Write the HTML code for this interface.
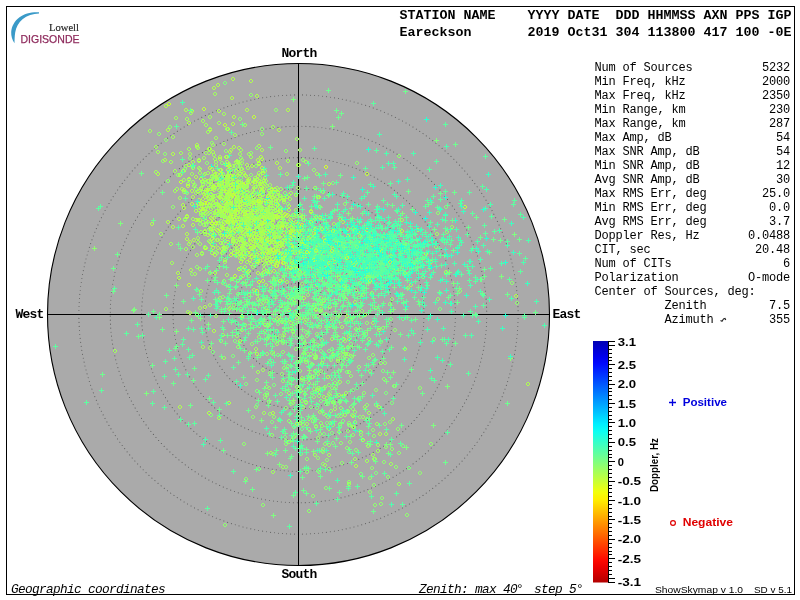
<!DOCTYPE html><html><head><meta charset="utf-8"><style>html,body{margin:0;padding:0;background:#fff;width:800px;height:600px;overflow:hidden}svg{display:block;will-change:transform}</style></head><body><svg width="800" height="600" viewBox="0 0 800 600"><rect x="6.5" y="6.5" width="788" height="588" fill="none" stroke="#000" stroke-width="1"/><path d="M39,12.2 C31,11.8 24,13.8 19.5,17.3 C14.5,21 11.6,26.5 11.2,32 C11,36 12.3,40 14.5,43.2 C14.6,40 14.6,36 15.2,32.5 C16,27.5 18.5,22.5 22.5,19.2 C27,15.6 33,13.8 39,13.6 Z" fill="#3a9ac8"/><text x="49" y="30.5" font-family="Liberation Serif" font-size="11" fill="#2a2a2a" stroke="#2a2a2a" stroke-width="0.2" textLength="30" lengthAdjust="spacingAndGlyphs">Lowell</text><text x="20.5" y="43" font-family="Liberation Sans" font-size="11" fill="#8e2a5c" stroke="#8e2a5c" stroke-width="0.25" textLength="59" lengthAdjust="spacingAndGlyphs">DIGISONDE</text><text x="399.5" y="19" font-family="Liberation Mono" font-weight="bold" font-size="13.33" fill="#000" xml:space="preserve">STATION NAME    YYYY DATE  DDD HHMMSS AXN PPS IGP</text><text x="399.5" y="36" font-family="Liberation Mono" font-weight="bold" font-size="13.33" fill="#000" xml:space="preserve">Eareckson       2019 Oct31 304 113800 417 100 -0E</text><circle cx="298.5" cy="314.5" r="251.0" fill="#aaaaaa" stroke="none"/><circle cx="298.5" cy="314.5" r="31.38" fill="none" stroke="#606060" stroke-width="1.1" stroke-dasharray="0.01 4" stroke-linecap="round"/><circle cx="298.5" cy="314.5" r="62.75" fill="none" stroke="#606060" stroke-width="1.1" stroke-dasharray="0.01 4" stroke-linecap="round"/><circle cx="298.5" cy="314.5" r="94.12" fill="none" stroke="#606060" stroke-width="1.1" stroke-dasharray="0.01 4" stroke-linecap="round"/><circle cx="298.5" cy="314.5" r="125.50" fill="none" stroke="#606060" stroke-width="1.1" stroke-dasharray="0.01 4" stroke-linecap="round"/><circle cx="298.5" cy="314.5" r="156.88" fill="none" stroke="#606060" stroke-width="1.1" stroke-dasharray="0.01 4" stroke-linecap="round"/><circle cx="298.5" cy="314.5" r="188.25" fill="none" stroke="#606060" stroke-width="1.1" stroke-dasharray="0.01 4" stroke-linecap="round"/><circle cx="298.5" cy="314.5" r="219.62" fill="none" stroke="#606060" stroke-width="1.1" stroke-dasharray="0.01 4" stroke-linecap="round"/><path d="M47.5,314.5H549.5M298.5,63.5V565.5" stroke="#000" stroke-width="1" fill="none"/><path d="M349,256.5h5M351.5,254v5M332,229.5h5M334.5,227v5M274,339.5h5M276.5,337v5M358,272.5h5M360.5,270v5M315,246.5h5M317.5,244v5M377,248.5h5M379.5,246v5M348,306.5h5M350.5,304v5M352,423.5h5M354.5,421v5M341,230.5h5M343.5,228v5M321,223.5h5M323.5,221v5M398,215.5h5M400.5,213v5M473,306.5h5M475.5,304v5M363,277.5h5M365.5,275v5M298,275.5h5M300.5,273v5M454,229.5h5M456.5,227v5M204,190.5h5M206.5,188v5M323,315.5h5M325.5,313v5M383,270.5h5M385.5,268v5M521,262.5h5M523.5,260v5M298,233.5h5M300.5,231v5M327,399.5h5M329.5,397v5M355,219.5h5M357.5,217v5M445,239.5h5M447.5,237v5M368,276.5h5M370.5,274v5M400,246.5h5M402.5,244v5M379,218.5h5M381.5,216v5M286,245.5h5M288.5,243v5M354,282.5h5M356.5,280v5M349,222.5h5M351.5,220v5M318,289.5h5M320.5,287v5M334,287.5h5M336.5,285v5M288,254.5h5M290.5,252v5M397,254.5h5M399.5,252v5M380,268.5h5M382.5,266v5M321,241.5h5M323.5,239v5M368,274.5h5M370.5,272v5M312,261.5h5M314.5,259v5M356,247.5h5M358.5,245v5M316,261.5h5M318.5,259v5M281,410.5h5M283.5,408v5M312,249.5h5M314.5,247v5M304,220.5h5M306.5,218v5M425,329.5h5M427.5,327v5M358,241.5h5M360.5,239v5M362,211.5h5M364.5,209v5M410,230.5h5M412.5,228v5M394,239.5h5M396.5,237v5M361,248.5h5M363.5,246v5M393,249.5h5M395.5,247v5M384,272.5h5M386.5,270v5M317,264.5h5M319.5,262v5M320,267.5h5M322.5,265v5M410,239.5h5M412.5,237v5M392,260.5h5M394.5,258v5M458,240.5h5M460.5,238v5M291,280.5h5M293.5,278v5M426,318.5h5M428.5,316v5M389,266.5h5M391.5,264v5M402,245.5h5M404.5,243v5M359,237.5h5M361.5,235v5M358,323.5h5M360.5,321v5M350,255.5h5M352.5,253v5M378,263.5h5M380.5,261v5M376,216.5h5M378.5,214v5M420,302.5h5M422.5,300v5M350,292.5h5M352.5,290v5M337,244.5h5M339.5,242v5M317,226.5h5M319.5,224v5M397,317.5h5M399.5,315v5M351,258.5h5M353.5,256v5M402,244.5h5M404.5,242v5M371,253.5h5M373.5,251v5M254,278.5h5M256.5,276v5M369,240.5h5M371.5,238v5M455,247.5h5M457.5,245v5M201,444.5h5M203.5,442v5M355,205.5h5M357.5,203v5M332,238.5h5M334.5,236v5M220,201.5h5M222.5,199v5M526,240.5h5M528.5,238v5M428,370.5h5M430.5,368v5M308,346.5h5M310.5,344v5M372,257.5h5M374.5,255v5M398,224.5h5M400.5,222v5M330,231.5h5M332.5,229v5M342,240.5h5M344.5,238v5M348,265.5h5M350.5,263v5M295,309.5h5M297.5,307v5M375,266.5h5M377.5,264v5M483,208.5h5M485.5,206v5M317,337.5h5M319.5,335v5M287,246.5h5M289.5,244v5M331,282.5h5M333.5,280v5M317,229.5h5M319.5,227v5M370,278.5h5M372.5,276v5M360,273.5h5M362.5,271v5M388,250.5h5M390.5,248v5M242,294.5h5M244.5,292v5M243,269.5h5M245.5,267v5M303,267.5h5M305.5,265v5M342,280.5h5M344.5,278v5M424,258.5h5M426.5,256v5M338,267.5h5M340.5,265v5M390,263.5h5M392.5,261v5M322,257.5h5M324.5,255v5M412,233.5h5M414.5,231v5M374,274.5h5M376.5,272v5M350,256.5h5M352.5,254v5M336,230.5h5M338.5,228v5M230,220.5h5M232.5,218v5M227,155.5h5M229.5,153v5M341,253.5h5M343.5,251v5M364,227.5h5M366.5,225v5M509,298.5h5M511.5,296v5M370,236.5h5M372.5,234v5M400,205.5h5M402.5,203v5M409,240.5h5M411.5,238v5M283,239.5h5M285.5,237v5M276,244.5h5M278.5,242v5M283,296.5h5M285.5,294v5M356,243.5h5M358.5,241v5M378,240.5h5M380.5,238v5M397,261.5h5M399.5,259v5M328,216.5h5M330.5,214v5M314,293.5h5M316.5,291v5M345,270.5h5M347.5,268v5M302,254.5h5M304.5,252v5M327,254.5h5M329.5,252v5M371,229.5h5M373.5,227v5M313,241.5h5M315.5,239v5M374,233.5h5M376.5,231v5M352,246.5h5M354.5,244v5M357,259.5h5M359.5,257v5M191,298.5h5M193.5,296v5M459,242.5h5M461.5,240v5M218,339.5h5M220.5,337v5M365,330.5h5M367.5,328v5M366,267.5h5M368.5,265v5M332,236.5h5M334.5,234v5M352,225.5h5M354.5,223v5M372,231.5h5M374.5,229v5M371,267.5h5M373.5,265v5M311,253.5h5M313.5,251v5M283,323.5h5M285.5,321v5M332,210.5h5M334.5,208v5M475,241.5h5M477.5,239v5M321,190.5h5M323.5,188v5M341,249.5h5M343.5,247v5M302,198.5h5M304.5,196v5M370,395.5h5M372.5,393v5M360,303.5h5M362.5,301v5M265,244.5h5M267.5,242v5" stroke="#4effb0" stroke-width="1" fill="none" shape-rendering="crispEdges"/><path d="M202,202.5h2m-2,3h2M201.5,203v2m3,-2v2M219,179.5h2m-2,3h2M218.5,180v2m3,-2v2M436,232.5h2m-2,3h2M435.5,233v2m3,-2v2M219,173.5h2m-2,3h2M218.5,174v2m3,-2v2M219,232.5h2m-2,3h2M218.5,233v2m3,-2v2M285,253.5h2m-2,3h2M284.5,254v2m3,-2v2M286,280.5h2m-2,3h2M285.5,281v2m3,-2v2M263,263.5h2m-2,3h2M262.5,264v2m3,-2v2M236,192.5h2m-2,3h2M235.5,193v2m3,-2v2M276,186.5h2m-2,3h2M275.5,187v2m3,-2v2M378,272.5h2m-2,3h2M377.5,273v2m3,-2v2M261,212.5h2m-2,3h2M260.5,213v2m3,-2v2M316,172.5h2m-2,3h2M315.5,173v2m3,-2v2M308,376.5h2m-2,3h2M307.5,377v2m3,-2v2M262,214.5h2m-2,3h2M261.5,215v2m3,-2v2M263,411.5h2m-2,3h2M262.5,412v2m3,-2v2M231,203.5h2m-2,3h2M230.5,204v2m3,-2v2M306,250.5h2m-2,3h2M305.5,251v2m3,-2v2M240,241.5h2m-2,3h2M239.5,242v2m3,-2v2M226,155.5h2m-2,3h2M225.5,156v2m3,-2v2M259,256.5h2m-2,3h2M258.5,257v2m3,-2v2M323,299.5h2m-2,3h2M322.5,300v2m3,-2v2M219,195.5h2m-2,3h2M218.5,196v2m3,-2v2M217,211.5h2m-2,3h2M216.5,212v2m3,-2v2M321,260.5h2m-2,3h2M320.5,261v2m3,-2v2M229,200.5h2m-2,3h2M228.5,201v2m3,-2v2M276,342.5h2m-2,3h2M275.5,343v2m3,-2v2M244,247.5h2m-2,3h2M243.5,248v2m3,-2v2M272,201.5h2m-2,3h2M271.5,202v2m3,-2v2M288,252.5h2m-2,3h2M287.5,253v2m3,-2v2M262,251.5h2m-2,3h2M261.5,252v2m3,-2v2M229,220.5h2m-2,3h2M228.5,221v2m3,-2v2M307,236.5h2m-2,3h2M306.5,237v2m3,-2v2M253,263.5h2m-2,3h2M252.5,264v2m3,-2v2M188,242.5h2m-2,3h2M187.5,243v2m3,-2v2M199,242.5h2m-2,3h2M198.5,243v2m3,-2v2M247,195.5h2m-2,3h2M246.5,196v2m3,-2v2M239,215.5h2m-2,3h2M238.5,216v2m3,-2v2M207,212.5h2m-2,3h2M206.5,213v2m3,-2v2M348,334.5h2m-2,3h2M347.5,335v2m3,-2v2M277,225.5h2m-2,3h2M276.5,226v2m3,-2v2M268,208.5h2m-2,3h2M267.5,209v2m3,-2v2M272,350.5h2m-2,3h2M271.5,351v2m3,-2v2M286,229.5h2m-2,3h2M285.5,230v2m3,-2v2M229,183.5h2m-2,3h2M228.5,184v2m3,-2v2M266,228.5h2m-2,3h2M265.5,229v2m3,-2v2M300,359.5h2m-2,3h2M299.5,360v2m3,-2v2M272,251.5h2m-2,3h2M271.5,252v2m3,-2v2M244,211.5h2m-2,3h2M243.5,212v2m3,-2v2M265,231.5h2m-2,3h2M264.5,232v2m3,-2v2M198,159.5h2m-2,3h2M197.5,160v2m3,-2v2M170,160.5h2m-2,3h2M169.5,161v2m3,-2v2M290,231.5h2m-2,3h2M289.5,232v2m3,-2v2M268,200.5h2m-2,3h2M267.5,201v2m3,-2v2M344,276.5h2m-2,3h2M343.5,277v2m3,-2v2M275,256.5h2m-2,3h2M274.5,257v2m3,-2v2M265,219.5h2m-2,3h2M264.5,220v2m3,-2v2M212,196.5h2m-2,3h2M211.5,197v2m3,-2v2M217,193.5h2m-2,3h2M216.5,194v2m3,-2v2M277,251.5h2m-2,3h2M276.5,252v2m3,-2v2M234,133.5h2m-2,3h2M233.5,134v2m3,-2v2M240,210.5h2m-2,3h2M239.5,211v2m3,-2v2M289,197.5h2m-2,3h2M288.5,198v2m3,-2v2M276,201.5h2m-2,3h2M275.5,202v2m3,-2v2M268,188.5h2m-2,3h2M267.5,189v2m3,-2v2M223,245.5h2m-2,3h2M222.5,246v2m3,-2v2M232,241.5h2m-2,3h2M231.5,242v2m3,-2v2M250,213.5h2m-2,3h2M249.5,214v2m3,-2v2M274,228.5h2m-2,3h2M273.5,229v2m3,-2v2M211,199.5h2m-2,3h2M210.5,200v2m3,-2v2M337,244.5h2m-2,3h2M336.5,245v2m3,-2v2M215,213.5h2m-2,3h2M214.5,214v2m3,-2v2M233,175.5h2m-2,3h2M232.5,176v2m3,-2v2M217,186.5h2m-2,3h2M216.5,187v2m3,-2v2M241,248.5h2m-2,3h2M240.5,249v2m3,-2v2M269,229.5h2m-2,3h2M268.5,230v2m3,-2v2M281,241.5h2m-2,3h2M280.5,242v2m3,-2v2M239,224.5h2m-2,3h2M238.5,225v2m3,-2v2M320,302.5h2m-2,3h2M319.5,303v2m3,-2v2M272,470.5h2m-2,3h2M271.5,471v2m3,-2v2M224,232.5h2m-2,3h2M223.5,233v2m3,-2v2M253,199.5h2m-2,3h2M252.5,200v2m3,-2v2M378,328.5h2m-2,3h2M377.5,329v2m3,-2v2M232,204.5h2m-2,3h2M231.5,205v2m3,-2v2M318,245.5h2m-2,3h2M317.5,246v2m3,-2v2M336,243.5h2m-2,3h2M335.5,244v2m3,-2v2M392,417.5h2m-2,3h2M391.5,418v2m3,-2v2M351,242.5h2m-2,3h2M350.5,243v2m3,-2v2M245,217.5h2m-2,3h2M244.5,218v2m3,-2v2M243,254.5h2m-2,3h2M242.5,255v2m3,-2v2M237,220.5h2m-2,3h2M236.5,221v2m3,-2v2M199,171.5h2m-2,3h2M198.5,172v2m3,-2v2M292,249.5h2m-2,3h2M291.5,250v2m3,-2v2M233,231.5h2m-2,3h2M232.5,232v2m3,-2v2M342,349.5h2m-2,3h2M341.5,350v2m3,-2v2M235,227.5h2m-2,3h2M234.5,228v2m3,-2v2M333,259.5h2m-2,3h2M332.5,260v2m3,-2v2M255,185.5h2m-2,3h2M254.5,186v2m3,-2v2M315,308.5h2m-2,3h2M314.5,309v2m3,-2v2M309,248.5h2m-2,3h2M308.5,249v2m3,-2v2M332,252.5h2m-2,3h2M331.5,253v2m3,-2v2M352,260.5h2m-2,3h2M351.5,261v2m3,-2v2M293,435.5h2m-2,3h2M292.5,436v2m3,-2v2M280,237.5h2m-2,3h2M279.5,238v2m3,-2v2M272,226.5h2m-2,3h2M271.5,227v2m3,-2v2M354,300.5h2m-2,3h2M353.5,301v2m3,-2v2M246,185.5h2m-2,3h2M245.5,186v2m3,-2v2M256,192.5h2m-2,3h2M255.5,193v2m3,-2v2M250,211.5h2m-2,3h2M249.5,212v2m3,-2v2M203,173.5h2m-2,3h2M202.5,174v2m3,-2v2M228,172.5h2m-2,3h2M227.5,173v2m3,-2v2M248,233.5h2m-2,3h2M247.5,234v2m3,-2v2M252,226.5h2m-2,3h2M251.5,227v2m3,-2v2M253,210.5h2m-2,3h2M252.5,211v2m3,-2v2M341,325.5h2m-2,3h2M340.5,326v2m3,-2v2M246,215.5h2m-2,3h2M245.5,216v2m3,-2v2M257,213.5h2m-2,3h2M256.5,214v2m3,-2v2M256,177.5h2m-2,3h2M255.5,178v2m3,-2v2M227,232.5h2m-2,3h2M226.5,233v2m3,-2v2M277,240.5h2m-2,3h2M276.5,241v2m3,-2v2M263,254.5h2m-2,3h2M262.5,255v2m3,-2v2M250,243.5h2m-2,3h2M249.5,244v2m3,-2v2M209,226.5h2m-2,3h2M208.5,227v2m3,-2v2M301,235.5h2m-2,3h2M300.5,236v2m3,-2v2M260,200.5h2m-2,3h2M259.5,201v2m3,-2v2M265,201.5h2m-2,3h2M264.5,202v2m3,-2v2M203,156.5h2m-2,3h2M202.5,157v2m3,-2v2M225,189.5h2m-2,3h2M224.5,190v2m3,-2v2M321,388.5h2m-2,3h2M320.5,389v2m3,-2v2M261,243.5h2m-2,3h2M260.5,244v2m3,-2v2M229,229.5h2m-2,3h2M228.5,230v2m3,-2v2M261,207.5h2m-2,3h2M260.5,208v2m3,-2v2M187,310.5h2m-2,3h2M186.5,311v2m3,-2v2M287,159.5h2m-2,3h2M286.5,160v2m3,-2v2M311,362.5h2m-2,3h2M310.5,363v2m3,-2v2M241,316.5h2m-2,3h2M240.5,317v2m3,-2v2M267,212.5h2m-2,3h2M266.5,213v2m3,-2v2M253,190.5h2m-2,3h2M252.5,191v2m3,-2v2M255,223.5h2m-2,3h2M254.5,224v2m3,-2v2M254,235.5h2m-2,3h2M253.5,236v2m3,-2v2M228,185.5h2m-2,3h2M227.5,186v2m3,-2v2M233,243.5h2m-2,3h2M232.5,244v2m3,-2v2M352,264.5h2m-2,3h2M351.5,265v2m3,-2v2M451,225.5h2m-2,3h2M450.5,226v2m3,-2v2M258,171.5h2m-2,3h2M257.5,172v2m3,-2v2M284,250.5h2m-2,3h2M283.5,251v2m3,-2v2M315,231.5h2m-2,3h2M314.5,232v2m3,-2v2M274,205.5h2m-2,3h2M273.5,206v2m3,-2v2M256,199.5h2m-2,3h2M255.5,200v2m3,-2v2M249,223.5h2m-2,3h2M248.5,224v2m3,-2v2M235,197.5h2m-2,3h2M234.5,198v2m3,-2v2" stroke="#a0ff5e" stroke-width="1" fill="none" shape-rendering="crispEdges"/><path d="M284,239.5h5M286.5,237v5M369,263.5h5M371.5,261v5M281,378.5h5M283.5,376v5M386,319.5h5M388.5,317v5M418,266.5h5M420.5,264v5M368,257.5h5M370.5,255v5M235,308.5h5M237.5,306v5M151,391.5h5M153.5,389v5M356,264.5h5M358.5,262v5M398,443.5h5M400.5,441v5M282,429.5h5M284.5,427v5M359,275.5h5M361.5,273v5M298,297.5h5M300.5,295v5M338,399.5h5M340.5,397v5M324,234.5h5M326.5,232v5M374,344.5h5M376.5,342v5M367,251.5h5M369.5,249v5M287,261.5h5M289.5,259v5M354,241.5h5M356.5,239v5M355,316.5h5M357.5,314v5M298,471.5h5M300.5,469v5M386,256.5h5M388.5,254v5M224,301.5h5M226.5,299v5M402,251.5h5M404.5,249v5M302,292.5h5M304.5,290v5M271,192.5h5M273.5,190v5M363,168.5h5M365.5,166v5M284,273.5h5M286.5,271v5M84,402.5h5M86.5,400v5M307,275.5h5M309.5,273v5M323,307.5h5M325.5,305v5M342,271.5h5M344.5,269v5M411,251.5h5M413.5,249v5M336,256.5h5M338.5,254v5M243,272.5h5M245.5,270v5M368,274.5h5M370.5,272v5M345,348.5h5M347.5,346v5M350,246.5h5M352.5,244v5M309,257.5h5M311.5,255v5M310,250.5h5M312.5,248v5M163,361.5h5M165.5,359v5M454,288.5h5M456.5,286v5M315,336.5h5M317.5,334v5M284,255.5h5M286.5,253v5M316,325.5h5M318.5,323v5M355,246.5h5M357.5,244v5M186,349.5h5M188.5,347v5M353,248.5h5M355.5,246v5M281,290.5h5M283.5,288v5M346,270.5h5M348.5,268v5M243,191.5h5M245.5,189v5M314,241.5h5M316.5,239v5M259,310.5h5M261.5,308v5M361,262.5h5M363.5,260v5M225,257.5h5M227.5,255v5M294,193.5h5M296.5,191v5M314,205.5h5M316.5,203v5M410,260.5h5M412.5,258v5M267,317.5h5M269.5,315v5M319,323.5h5M321.5,321v5M245,301.5h5M247.5,299v5M259,331.5h5M261.5,329v5M318,299.5h5M320.5,297v5M306,375.5h5M308.5,373v5M330,350.5h5M332.5,348v5M429,378.5h5M431.5,376v5M344,284.5h5M346.5,282v5M306,238.5h5M308.5,236v5M243,293.5h5M245.5,291v5M342,245.5h5M344.5,243v5M328,216.5h5M330.5,214v5M200,176.5h5M202.5,174v5M338,413.5h5M340.5,411v5M381,249.5h5M383.5,247v5M298,292.5h5M300.5,290v5M343,253.5h5M345.5,251v5M292,230.5h5M294.5,228v5M279,268.5h5M281.5,266v5M298,448.5h5M300.5,446v5M326,267.5h5M328.5,265v5M344,436.5h5M346.5,434v5M346,290.5h5M348.5,288v5M404,301.5h5M406.5,299v5M302,269.5h5M304.5,267v5M229,132.5h5M231.5,130v5M338,265.5h5M340.5,263v5M347,253.5h5M349.5,251v5M288,253.5h5M290.5,251v5M215,301.5h5M217.5,299v5M337,268.5h5M339.5,266v5M309,224.5h5M311.5,222v5M312,242.5h5M314.5,240v5M291,264.5h5M293.5,262v5M360,247.5h5M362.5,245v5M286,354.5h5M288.5,352v5M340,239.5h5M342.5,237v5M271,261.5h5M273.5,259v5M211,233.5h5M213.5,231v5M317,245.5h5M319.5,243v5M365,272.5h5M367.5,270v5M281,431.5h5M283.5,429v5M320,264.5h5M322.5,262v5M392,167.5h5M394.5,165v5M228,286.5h5M230.5,284v5M325,238.5h5M327.5,236v5M328,279.5h5M330.5,277v5M317,252.5h5M319.5,250v5M352,237.5h5M354.5,235v5M489,216.5h5M491.5,214v5M347,362.5h5M349.5,360v5M271,304.5h5M273.5,302v5M345,306.5h5M347.5,304v5M270,295.5h5M272.5,293v5M378,275.5h5M380.5,273v5M470,248.5h5M472.5,246v5M245,299.5h5M247.5,297v5M406,335.5h5M408.5,333v5M289,296.5h5M291.5,294v5M384,271.5h5M386.5,269v5M360,288.5h5M362.5,286v5M306,265.5h5M308.5,263v5M146,314.5h5M148.5,312v5M301,253.5h5M303.5,251v5M278,174.5h5M280.5,172v5M343,252.5h5M345.5,250v5M324,319.5h5M326.5,317v5M400,504.5h5M402.5,502v5M325,441.5h5M327.5,439v5M425,241.5h5M427.5,239v5M296,276.5h5M298.5,274v5M437,248.5h5M439.5,246v5M267,207.5h5M269.5,205v5M339,268.5h5M341.5,266v5M275,401.5h5M277.5,399v5M393,274.5h5M395.5,272v5M374,257.5h5M376.5,255v5M299,289.5h5M301.5,287v5M317,256.5h5M319.5,254v5M377,425.5h5M379.5,423v5M268,324.5h5M270.5,322v5M273,395.5h5M275.5,393v5M324,332.5h5M326.5,330v5M288,413.5h5M290.5,411v5M385,204.5h5M387.5,202v5M378,225.5h5M380.5,223v5M455,283.5h5M457.5,281v5M354,321.5h5M356.5,319v5M365,258.5h5M367.5,256v5M362,332.5h5M364.5,330v5M492,231.5h5M494.5,229v5M268,257.5h5M270.5,255v5M282,272.5h5M284.5,270v5M392,267.5h5M394.5,265v5M372,308.5h5M374.5,306v5M395,268.5h5M397.5,266v5M354,238.5h5M356.5,236v5M343,246.5h5M345.5,244v5M371,103.5h5M373.5,101v5M377,334.5h5M379.5,332v5M395,211.5h5M397.5,209v5M340,195.5h5M342.5,193v5M358,268.5h5M360.5,266v5M360,265.5h5M362.5,263v5M414,270.5h5M416.5,268v5M402,348.5h5M404.5,346v5M314,188.5h5M316.5,186v5M238,348.5h5M240.5,346v5M338,240.5h5M340.5,238v5M334,315.5h5M336.5,313v5M316,285.5h5M318.5,283v5M316,242.5h5M318.5,240v5M379,228.5h5M381.5,226v5M350,453.5h5M352.5,451v5M319,358.5h5M321.5,356v5M293,492.5h5M295.5,490v5M360,331.5h5M362.5,329v5" stroke="#5effa0" stroke-width="1" fill="none" shape-rendering="crispEdges"/><path d="M228,163.5h2m-2,3h2M227.5,164v2m3,-2v2M269,412.5h2m-2,3h2M268.5,413v2m3,-2v2M317,295.5h2m-2,3h2M316.5,296v2m3,-2v2M292,330.5h2m-2,3h2M291.5,331v2m3,-2v2M371,291.5h2m-2,3h2M370.5,292v2m3,-2v2M320,309.5h2m-2,3h2M319.5,310v2m3,-2v2M313,387.5h2m-2,3h2M312.5,388v2m3,-2v2M244,323.5h2m-2,3h2M243.5,324v2m3,-2v2M384,361.5h2m-2,3h2M383.5,362v2m3,-2v2M285,465.5h2m-2,3h2M284.5,466v2m3,-2v2M370,231.5h2m-2,3h2M369.5,232v2m3,-2v2M221,177.5h2m-2,3h2M220.5,178v2m3,-2v2M204,215.5h2m-2,3h2M203.5,216v2m3,-2v2M257,257.5h2m-2,3h2M256.5,258v2m3,-2v2M227,244.5h2m-2,3h2M226.5,245v2m3,-2v2M279,334.5h2m-2,3h2M278.5,335v2m3,-2v2M266,352.5h2m-2,3h2M265.5,353v2m3,-2v2M247,223.5h2m-2,3h2M246.5,224v2m3,-2v2M264,393.5h2m-2,3h2M263.5,394v2m3,-2v2M398,451.5h2m-2,3h2M397.5,452v2m3,-2v2M340,406.5h2m-2,3h2M339.5,407v2m3,-2v2M328,427.5h2m-2,3h2M327.5,428v2m3,-2v2M347,429.5h2m-2,3h2M346.5,430v2m3,-2v2M286,319.5h2m-2,3h2M285.5,320v2m3,-2v2M258,324.5h2m-2,3h2M257.5,325v2m3,-2v2M278,418.5h2m-2,3h2M277.5,419v2m3,-2v2M248,274.5h2m-2,3h2M247.5,275v2m3,-2v2M359,255.5h2m-2,3h2M358.5,256v2m3,-2v2M307,293.5h2m-2,3h2M306.5,294v2m3,-2v2M264,329.5h2m-2,3h2M263.5,330v2m3,-2v2M256,292.5h2m-2,3h2M255.5,293v2m3,-2v2M294,310.5h2m-2,3h2M293.5,311v2m3,-2v2M279,268.5h2m-2,3h2M278.5,269v2m3,-2v2M296,250.5h2m-2,3h2M295.5,251v2m3,-2v2M225,149.5h2m-2,3h2M224.5,150v2m3,-2v2M389,420.5h2m-2,3h2M388.5,421v2m3,-2v2M299,305.5h2m-2,3h2M298.5,306v2m3,-2v2M304,346.5h2m-2,3h2M303.5,347v2m3,-2v2M280,219.5h2m-2,3h2M279.5,220v2m3,-2v2M258,319.5h2m-2,3h2M257.5,320v2m3,-2v2M325,227.5h2m-2,3h2M324.5,228v2m3,-2v2M320,259.5h2m-2,3h2M319.5,260v2m3,-2v2M228,284.5h2m-2,3h2M227.5,285v2m3,-2v2M327,415.5h2m-2,3h2M326.5,416v2m3,-2v2M339,286.5h2m-2,3h2M338.5,287v2m3,-2v2M290,326.5h2m-2,3h2M289.5,327v2m3,-2v2M208,186.5h2m-2,3h2M207.5,187v2m3,-2v2M322,462.5h2m-2,3h2M321.5,463v2m3,-2v2M371,466.5h2m-2,3h2M370.5,467v2m3,-2v2M262,351.5h2m-2,3h2M261.5,352v2m3,-2v2M323,386.5h2m-2,3h2M322.5,387v2m3,-2v2M365,332.5h2m-2,3h2M364.5,333v2m3,-2v2M282,341.5h2m-2,3h2M281.5,342v2m3,-2v2M224,205.5h2m-2,3h2M223.5,206v2m3,-2v2M419,471.5h2m-2,3h2M418.5,472v2m3,-2v2M221,161.5h2m-2,3h2M220.5,162v2m3,-2v2M319,432.5h2m-2,3h2M318.5,433v2m3,-2v2M316,332.5h2m-2,3h2M315.5,333v2m3,-2v2M366,417.5h2m-2,3h2M365.5,418v2m3,-2v2M164,152.5h2m-2,3h2M163.5,153v2m3,-2v2M308,417.5h2m-2,3h2M307.5,418v2m3,-2v2M267,309.5h2m-2,3h2M266.5,310v2m3,-2v2M250,151.5h2m-2,3h2M249.5,152v2m3,-2v2M286,302.5h2m-2,3h2M285.5,303v2m3,-2v2M276,245.5h2m-2,3h2M275.5,246v2m3,-2v2M347,409.5h2m-2,3h2M346.5,410v2m3,-2v2M240,307.5h2m-2,3h2M239.5,308v2m3,-2v2M375,403.5h2m-2,3h2M374.5,404v2m3,-2v2M324,385.5h2m-2,3h2M323.5,386v2m3,-2v2M366,321.5h2m-2,3h2M365.5,322v2m3,-2v2M189,156.5h2m-2,3h2M188.5,157v2m3,-2v2M369,275.5h2m-2,3h2M368.5,276v2m3,-2v2M315,354.5h2m-2,3h2M314.5,355v2m3,-2v2M343,294.5h2m-2,3h2M342.5,295v2m3,-2v2M366,403.5h2m-2,3h2M365.5,404v2m3,-2v2M391,447.5h2m-2,3h2M390.5,448v2m3,-2v2M342,356.5h2m-2,3h2M341.5,357v2m3,-2v2M251,230.5h2m-2,3h2M250.5,231v2m3,-2v2M350,374.5h2m-2,3h2M349.5,375v2m3,-2v2M303,218.5h2m-2,3h2M302.5,219v2m3,-2v2M297,313.5h2m-2,3h2M296.5,314v2m3,-2v2M220,184.5h2m-2,3h2M219.5,185v2m3,-2v2M348,370.5h2m-2,3h2M347.5,371v2m3,-2v2M321,338.5h2m-2,3h2M320.5,339v2m3,-2v2M342,349.5h2m-2,3h2M341.5,350v2m3,-2v2M301,399.5h2m-2,3h2M300.5,400v2m3,-2v2" stroke="#8fff6f" stroke-width="1" fill="none" shape-rendering="crispEdges"/><path d="M250,219.5h2m-2,3h2M249.5,220v2m3,-2v2M292,261.5h2m-2,3h2M291.5,262v2m3,-2v2M299,213.5h2m-2,3h2M298.5,214v2m3,-2v2M223,187.5h2m-2,3h2M222.5,188v2m3,-2v2M318,195.5h2m-2,3h2M317.5,196v2m3,-2v2M223,208.5h2m-2,3h2M222.5,209v2m3,-2v2M249,180.5h2m-2,3h2M248.5,181v2m3,-2v2M328,182.5h2m-2,3h2M327.5,183v2m3,-2v2M207,188.5h2m-2,3h2M206.5,189v2m3,-2v2M271,195.5h2m-2,3h2M270.5,196v2m3,-2v2M217,203.5h2m-2,3h2M216.5,204v2m3,-2v2M216,238.5h2m-2,3h2M215.5,239v2m3,-2v2M205,193.5h2m-2,3h2M204.5,194v2m3,-2v2M266,256.5h2m-2,3h2M265.5,257v2m3,-2v2M264,213.5h2m-2,3h2M263.5,214v2m3,-2v2M179,405.5h2m-2,3h2M178.5,406v2m3,-2v2M269,258.5h2m-2,3h2M268.5,259v2m3,-2v2M211,228.5h2m-2,3h2M210.5,229v2m3,-2v2M248,232.5h2m-2,3h2M247.5,233v2m3,-2v2M255,255.5h2m-2,3h2M254.5,256v2m3,-2v2M240,236.5h2m-2,3h2M239.5,237v2m3,-2v2M366,279.5h2m-2,3h2M365.5,280v2m3,-2v2M263,227.5h2m-2,3h2M262.5,228v2m3,-2v2M281,224.5h2m-2,3h2M280.5,225v2m3,-2v2M375,248.5h2m-2,3h2M374.5,249v2m3,-2v2M263,209.5h2m-2,3h2M262.5,210v2m3,-2v2M246,198.5h2m-2,3h2M245.5,199v2m3,-2v2M259,216.5h2m-2,3h2M258.5,217v2m3,-2v2M151,222.5h2m-2,3h2M150.5,223v2m3,-2v2M270,259.5h2m-2,3h2M269.5,260v2m3,-2v2M283,260.5h2m-2,3h2M282.5,261v2m3,-2v2M251,219.5h2m-2,3h2M250.5,220v2m3,-2v2M211,237.5h2m-2,3h2M210.5,238v2m3,-2v2M273,237.5h2m-2,3h2M272.5,238v2m3,-2v2M282,290.5h2m-2,3h2M281.5,291v2m3,-2v2M239,172.5h2m-2,3h2M238.5,173v2m3,-2v2M275,237.5h2m-2,3h2M274.5,238v2m3,-2v2M261,148.5h2m-2,3h2M260.5,149v2m3,-2v2M253,229.5h2m-2,3h2M252.5,230v2m3,-2v2M282,258.5h2m-2,3h2M281.5,259v2m3,-2v2M219,196.5h2m-2,3h2M218.5,197v2m3,-2v2M267,210.5h2m-2,3h2M266.5,211v2m3,-2v2M269,206.5h2m-2,3h2M268.5,207v2m3,-2v2M286,255.5h2m-2,3h2M285.5,256v2m3,-2v2M223,211.5h2m-2,3h2M222.5,212v2m3,-2v2M285,249.5h2m-2,3h2M284.5,250v2m3,-2v2M264,212.5h2m-2,3h2M263.5,213v2m3,-2v2M246,183.5h2m-2,3h2M245.5,184v2m3,-2v2M278,205.5h2m-2,3h2M277.5,206v2m3,-2v2M269,206.5h2m-2,3h2M268.5,207v2m3,-2v2M257,158.5h2m-2,3h2M256.5,159v2m3,-2v2M228,216.5h2m-2,3h2M227.5,217v2m3,-2v2M271,216.5h2m-2,3h2M270.5,217v2m3,-2v2M233,176.5h2m-2,3h2M232.5,177v2m3,-2v2M251,215.5h2m-2,3h2M250.5,216v2m3,-2v2M227,173.5h2m-2,3h2M226.5,174v2m3,-2v2M258,223.5h2m-2,3h2M257.5,224v2m3,-2v2M172,152.5h2m-2,3h2M171.5,153v2m3,-2v2M209,203.5h2m-2,3h2M208.5,204v2m3,-2v2M287,213.5h2m-2,3h2M286.5,214v2m3,-2v2M177,271.5h2m-2,3h2M176.5,272v2m3,-2v2M232,230.5h2m-2,3h2M231.5,231v2m3,-2v2M244,229.5h2m-2,3h2M243.5,230v2m3,-2v2M277,246.5h2m-2,3h2M276.5,247v2m3,-2v2M178,217.5h2m-2,3h2M177.5,218v2m3,-2v2M515,294.5h2m-2,3h2M514.5,295v2m3,-2v2M228,401.5h2m-2,3h2M227.5,402v2m3,-2v2M250,214.5h2m-2,3h2M249.5,215v2m3,-2v2M208,199.5h2m-2,3h2M207.5,200v2m3,-2v2M217,221.5h2m-2,3h2M216.5,222v2m3,-2v2M257,240.5h2m-2,3h2M256.5,241v2m3,-2v2M251,182.5h2m-2,3h2M250.5,183v2m3,-2v2M208,197.5h2m-2,3h2M207.5,198v2m3,-2v2M275,214.5h2m-2,3h2M274.5,215v2m3,-2v2M266,259.5h2m-2,3h2M265.5,260v2m3,-2v2M242,243.5h2m-2,3h2M241.5,244v2m3,-2v2M228,200.5h2m-2,3h2M227.5,201v2m3,-2v2M256,262.5h2m-2,3h2M255.5,263v2m3,-2v2M227,217.5h2m-2,3h2M226.5,218v2m3,-2v2M259,244.5h2m-2,3h2M258.5,245v2m3,-2v2M242,247.5h2m-2,3h2M241.5,248v2m3,-2v2M253,207.5h2m-2,3h2M252.5,208v2m3,-2v2M270,198.5h2m-2,3h2M269.5,199v2m3,-2v2M241,253.5h2m-2,3h2M240.5,254v2m3,-2v2M239,180.5h2m-2,3h2M238.5,181v2m3,-2v2M277,210.5h2m-2,3h2M276.5,211v2m3,-2v2M211,251.5h2m-2,3h2M210.5,252v2m3,-2v2M228,217.5h2m-2,3h2M227.5,218v2m3,-2v2M266,249.5h2m-2,3h2M265.5,250v2m3,-2v2M228,225.5h2m-2,3h2M227.5,226v2m3,-2v2M297,245.5h2m-2,3h2M296.5,246v2m3,-2v2M261,222.5h2m-2,3h2M260.5,223v2m3,-2v2M277,235.5h2m-2,3h2M276.5,236v2m3,-2v2M230,210.5h2m-2,3h2M229.5,211v2m3,-2v2M238,251.5h2m-2,3h2M237.5,252v2m3,-2v2M233,251.5h2m-2,3h2M232.5,252v2m3,-2v2M213,186.5h2m-2,3h2M212.5,187v2m3,-2v2M198,158.5h2m-2,3h2M197.5,159v2m3,-2v2M261,237.5h2m-2,3h2M260.5,238v2m3,-2v2M262,212.5h2m-2,3h2M261.5,213v2m3,-2v2M219,168.5h2m-2,3h2M218.5,169v2m3,-2v2M219,194.5h2m-2,3h2M218.5,195v2m3,-2v2M292,231.5h2m-2,3h2M291.5,232v2m3,-2v2M239,206.5h2m-2,3h2M238.5,207v2m3,-2v2M235,182.5h2m-2,3h2M234.5,183v2m3,-2v2M271,211.5h2m-2,3h2M270.5,212v2m3,-2v2M245,224.5h2m-2,3h2M244.5,225v2m3,-2v2M220,192.5h2m-2,3h2M219.5,193v2m3,-2v2M272,225.5h2m-2,3h2M271.5,226v2m3,-2v2M230,223.5h2m-2,3h2M229.5,224v2m3,-2v2M269,240.5h2m-2,3h2M268.5,241v2m3,-2v2M212,201.5h2m-2,3h2M211.5,202v2m3,-2v2M237,211.5h2m-2,3h2M236.5,212v2m3,-2v2M224,206.5h2m-2,3h2M223.5,207v2m3,-2v2M267,212.5h2m-2,3h2M266.5,213v2m3,-2v2M270,216.5h2m-2,3h2M269.5,217v2m3,-2v2M238,220.5h2m-2,3h2M237.5,221v2m3,-2v2" stroke="#b0ff4e" stroke-width="1" fill="none" shape-rendering="crispEdges"/><path d="M356,261.5h5M358.5,259v5M349,224.5h5M351.5,222v5M422,276.5h5M424.5,274v5M366,246.5h5M368.5,244v5M424,119.5h5M426.5,117v5M361,244.5h5M363.5,242v5M361,278.5h5M363.5,276v5M418,261.5h5M420.5,259v5M358,245.5h5M360.5,243v5M355,226.5h5M357.5,224v5M313,284.5h5M315.5,282v5M401,271.5h5M403.5,269v5M449,303.5h5M451.5,301v5M364,246.5h5M366.5,244v5M381,209.5h5M383.5,207v5M412,254.5h5M414.5,252v5M415,260.5h5M417.5,258v5M329,234.5h5M331.5,232v5M409,255.5h5M411.5,253v5M371,241.5h5M373.5,239v5M338,240.5h5M340.5,238v5" stroke="#2dffd1" stroke-width="1" fill="none" shape-rendering="crispEdges"/><path d="M318,226.5h5M320.5,224v5M250,489.5h5M252.5,487v5M342,394.5h5M344.5,392v5M340,365.5h5M342.5,363v5M321,314.5h5M323.5,312v5M242,305.5h5M244.5,303v5M324,403.5h5M326.5,401v5M298,298.5h5M300.5,296v5M323,215.5h5M325.5,213v5M306,361.5h5M308.5,359v5M429,240.5h5M431.5,238v5M288,458.5h5M290.5,456v5M300,360.5h5M302.5,358v5M307,266.5h5M309.5,264v5M338,300.5h5M340.5,298v5M255,357.5h5M257.5,355v5M398,234.5h5M400.5,232v5M316,291.5h5M318.5,289v5M452,192.5h5M454.5,190v5M380,248.5h5M382.5,246v5M192,368.5h5M194.5,366v5M293,298.5h5M295.5,296v5M298,314.5h5M300.5,312v5M336,299.5h5M338.5,297v5M282,307.5h5M284.5,305v5M287,414.5h5M289.5,412v5M308,322.5h5M310.5,320v5M362,293.5h5M364.5,291v5M334,110.5h5M336.5,108v5M339,364.5h5M341.5,362v5M284,307.5h5M286.5,305v5M301,490.5h5M303.5,488v5M360,268.5h5M362.5,266v5M349,208.5h5M351.5,206v5M339,279.5h5M341.5,277v5M322,373.5h5M324.5,371v5M382,258.5h5M384.5,256v5M360,293.5h5M362.5,291v5M364,259.5h5M366.5,257v5M363,248.5h5M365.5,246v5M299,338.5h5M301.5,336v5M324,265.5h5M326.5,263v5M299,336.5h5M301.5,334v5M316,254.5h5M318.5,252v5M360,383.5h5M362.5,381v5M316,290.5h5M318.5,288v5M406,273.5h5M408.5,271v5M348,436.5h5M350.5,434v5M352,258.5h5M354.5,256v5M296,217.5h5M298.5,215v5M403,309.5h5M405.5,307v5M336,117.5h5M338.5,115v5M457,288.5h5M459.5,286v5M385,265.5h5M387.5,263v5M243,481.5h5M245.5,479v5M379,264.5h5M381.5,262v5M237,303.5h5M239.5,301v5M336,287.5h5M338.5,285v5M288,299.5h5M290.5,297v5M244,285.5h5M246.5,283v5M343,289.5h5M345.5,287v5M324,285.5h5M326.5,283v5M292,295.5h5M294.5,293v5M289,265.5h5M291.5,263v5M266,269.5h5M268.5,267v5M327,232.5h5M329.5,230v5M372,270.5h5M374.5,268v5M262,221.5h5M264.5,219v5M404,247.5h5M406.5,245v5M302,350.5h5M304.5,348v5M311,340.5h5M313.5,338v5M333,306.5h5M335.5,304v5M337,267.5h5M339.5,265v5M413,319.5h5M415.5,317v5M306,468.5h5M308.5,466v5M344,323.5h5M346.5,321v5M315,267.5h5M317.5,265v5M288,271.5h5M290.5,269v5M351,295.5h5M353.5,293v5M248,285.5h5M250.5,283v5M332,210.5h5M334.5,208v5M291,314.5h5M293.5,312v5M242,350.5h5M244.5,348v5M335,246.5h5M337.5,244v5M330,262.5h5M332.5,260v5M385,372.5h5M387.5,370v5M388,255.5h5M390.5,253v5M318,269.5h5M320.5,267v5M358,306.5h5M360.5,304v5M256,301.5h5M258.5,299v5M310,225.5h5M312.5,223v5M283,450.5h5M285.5,448v5M341,289.5h5M343.5,287v5M321,273.5h5M323.5,271v5M302,468.5h5M304.5,466v5M420,247.5h5M422.5,245v5M306,310.5h5M308.5,308v5M313,384.5h5M315.5,382v5M358,293.5h5M360.5,291v5M313,279.5h5M315.5,277v5M256,400.5h5M258.5,398v5M280,292.5h5M282.5,290v5M349,249.5h5M351.5,247v5M365,246.5h5M367.5,244v5M346,348.5h5M348.5,346v5M344,365.5h5M346.5,363v5M322,354.5h5M324.5,352v5M265,297.5h5M267.5,295v5M273,427.5h5M275.5,425v5M219,311.5h5M221.5,309v5M239,302.5h5M241.5,300v5M319,301.5h5M321.5,299v5" stroke="#6fff8f" stroke-width="1" fill="none" shape-rendering="crispEdges"/><path d="M305,388.5h5M307.5,386v5M382,267.5h5M384.5,265v5M265,264.5h5M267.5,262v5M330,126.5h5M332.5,124v5M420,259.5h5M422.5,257v5M386,453.5h5M388.5,451v5M118,223.5h5M120.5,221v5M365,443.5h5M367.5,441v5M174,285.5h5M176.5,283v5M451,283.5h5M453.5,281v5M311,384.5h5M313.5,382v5M343,288.5h5M345.5,286v5M289,304.5h5M291.5,302v5M271,515.5h5M273.5,513v5M248,324.5h5M250.5,322v5M384,381.5h5M386.5,379v5M337,266.5h5M339.5,264v5M323,400.5h5M325.5,398v5M324,450.5h5M326.5,448v5M351,355.5h5M353.5,353v5M234,309.5h5M236.5,307v5M297,290.5h5M299.5,288v5M349,228.5h5M351.5,226v5" stroke="#7fff7f" stroke-width="1" fill="none" shape-rendering="crispEdges"/><path d="M382,272.5h5M384.5,270v5M357,269.5h5M359.5,267v5M344,261.5h5M346.5,259v5M363,231.5h5M365.5,229v5M312,264.5h5M314.5,262v5M397,282.5h5M399.5,280v5M366,280.5h5M368.5,278v5M384,241.5h5M386.5,239v5M376,252.5h5M378.5,250v5M350,275.5h5M352.5,273v5M305,243.5h5M307.5,241v5M364,260.5h5M366.5,258v5M317,267.5h5M319.5,265v5M396,181.5h5M398.5,179v5M305,252.5h5M307.5,250v5M245,229.5h5M247.5,227v5M461,211.5h5M463.5,209v5M345,224.5h5M347.5,222v5M324,276.5h5M326.5,274v5M341,249.5h5M343.5,247v5M355,240.5h5M357.5,238v5M383,258.5h5M385.5,256v5M441,238.5h5M443.5,236v5M316,266.5h5M318.5,264v5M346,314.5h5M348.5,312v5M400,261.5h5M402.5,259v5M486,174.5h5M488.5,172v5M312,247.5h5M314.5,245v5M398,258.5h5M400.5,256v5M426,265.5h5M428.5,263v5M419,310.5h5M421.5,308v5M438,280.5h5M440.5,278v5M375,242.5h5M377.5,240v5M387,270.5h5M389.5,268v5M525,283.5h5M527.5,281v5M389,233.5h5M391.5,231v5M301,245.5h5M303.5,243v5M372,243.5h5M374.5,241v5M346,267.5h5M348.5,265v5M434,251.5h5M436.5,249v5M344,247.5h5M346.5,245v5M336,224.5h5M338.5,222v5M389,231.5h5M391.5,229v5M305,269.5h5M307.5,267v5M403,269.5h5M405.5,267v5M365,259.5h5M367.5,257v5M374,273.5h5M376.5,271v5M347,339.5h5M349.5,337v5M443,214.5h5M445.5,212v5M255,240.5h5M257.5,238v5M367,247.5h5M369.5,245v5M364,270.5h5M366.5,268v5M366,256.5h5M368.5,254v5M412,255.5h5M414.5,253v5M433,259.5h5M435.5,257v5M405,265.5h5M407.5,263v5M293,262.5h5M295.5,260v5M362,269.5h5M364.5,267v5M350,287.5h5M352.5,285v5M369,241.5h5M371.5,239v5M364,233.5h5M366.5,231v5M318,260.5h5M320.5,258v5M359,274.5h5M361.5,272v5M410,234.5h5M412.5,232v5M384,259.5h5M386.5,257v5M342,281.5h5M344.5,279v5M312,261.5h5M314.5,259v5M358,271.5h5M360.5,269v5M351,222.5h5M353.5,220v5M288,475.5h5M290.5,473v5M389,267.5h5M391.5,265v5M302,268.5h5M304.5,266v5M362,265.5h5M364.5,263v5M377,208.5h5M379.5,206v5M304,271.5h5M306.5,269v5M275,240.5h5M277.5,238v5M346,244.5h5M348.5,242v5M370,234.5h5M372.5,232v5M338,263.5h5M340.5,261v5" stroke="#3dffc1" stroke-width="1" fill="none" shape-rendering="crispEdges"/><path d="M242,219.5h2m-2,3h2M241.5,220v2m3,-2v2M289,224.5h2m-2,3h2M288.5,225v2m3,-2v2M188,177.5h2m-2,3h2M187.5,178v2m3,-2v2M278,204.5h2m-2,3h2M277.5,205v2m3,-2v2M297,258.5h2m-2,3h2M296.5,259v2m3,-2v2M209,128.5h2m-2,3h2M208.5,129v2m3,-2v2M238,267.5h2m-2,3h2M237.5,268v2m3,-2v2M222,223.5h2m-2,3h2M221.5,224v2m3,-2v2M290,225.5h2m-2,3h2M289.5,226v2m3,-2v2M282,223.5h2m-2,3h2M281.5,224v2m3,-2v2M288,237.5h2m-2,3h2M287.5,238v2m3,-2v2M262,183.5h2m-2,3h2M261.5,184v2m3,-2v2M250,232.5h2m-2,3h2M249.5,233v2m3,-2v2M238,245.5h2m-2,3h2M237.5,246v2m3,-2v2M262,211.5h2m-2,3h2M261.5,212v2m3,-2v2M260,225.5h2m-2,3h2M259.5,226v2m3,-2v2M234,229.5h2m-2,3h2M233.5,230v2m3,-2v2M269,225.5h2m-2,3h2M268.5,226v2m3,-2v2M228,235.5h2m-2,3h2M227.5,236v2m3,-2v2M247,178.5h2m-2,3h2M246.5,179v2m3,-2v2M277,256.5h2m-2,3h2M276.5,257v2m3,-2v2M180,180.5h2m-2,3h2M179.5,181v2m3,-2v2M309,235.5h2m-2,3h2M308.5,236v2m3,-2v2M233,187.5h2m-2,3h2M232.5,188v2m3,-2v2" stroke="#c1ff3d" stroke-width="1" fill="none" shape-rendering="crispEdges"/><path d="M283,268.5h5M285.5,266v5M92,248.5h5M94.5,246v5" stroke="#8fff6f" stroke-width="1" fill="none" shape-rendering="crispEdges"/><path d="M330,320.5h2m-2,3h2M329.5,321v2m3,-2v2M354,333.5h2m-2,3h2M353.5,334v2m3,-2v2M300,385.5h2m-2,3h2M299.5,386v2m3,-2v2M296,360.5h2m-2,3h2M295.5,361v2m3,-2v2M325,319.5h2m-2,3h2M324.5,320v2m3,-2v2M276,329.5h2m-2,3h2M275.5,330v2m3,-2v2M346,410.5h2m-2,3h2M345.5,411v2m3,-2v2M390,317.5h2m-2,3h2M389.5,318v2m3,-2v2M292,325.5h2m-2,3h2M291.5,326v2m3,-2v2M317,469.5h2m-2,3h2M316.5,470v2m3,-2v2M391,401.5h2m-2,3h2M390.5,402v2m3,-2v2M332,441.5h2m-2,3h2M331.5,442v2m3,-2v2" stroke="#7fff7f" stroke-width="1" fill="none" shape-rendering="crispEdges"/><path d="M307,243.5h5M309.5,241v5M209,166.5h5M211.5,164v5M367,278.5h5M369.5,276v5M353,229.5h5M355.5,227v5M315,230.5h5M317.5,228v5M332,228.5h5M334.5,226v5M363,253.5h5M365.5,251v5M356,246.5h5M358.5,244v5M375,259.5h5M377.5,257v5M294,293.5h5M296.5,291v5" stroke="#1cffe2" stroke-width="1" fill="none" shape-rendering="crispEdges"/><path d="M317,403.5h2m-2,3h2M316.5,404v2m3,-2v2M296,336.5h2m-2,3h2M295.5,337v2m3,-2v2" stroke="#6fff8f" stroke-width="1" fill="none" shape-rendering="crispEdges"/><path d="M356,273.5h5M358.5,271v5M319,270.5h5M321.5,268v5" stroke="#0cfff2" stroke-width="1" fill="none" shape-rendering="crispEdges"/><path d="M301,223.5h2m-2,3h2M300.5,224v2m3,-2v2M245,208.5h2m-2,3h2M244.5,209v2m3,-2v2" stroke="#d1ff2d" stroke-width="1" fill="none" shape-rendering="crispEdges"/><path d="M174,169.5h2m-2,3h2M173.5,170v2m3,-2v2M243,235.5h2m-2,3h2M242.5,236v2m3,-2v2M223,246.5h2m-2,3h2M222.5,247v2m3,-2v2M259,176.5h2m-2,3h2M258.5,177v2m3,-2v2M334,407.5h2m-2,3h2M333.5,408v2m3,-2v2M282,216.5h2m-2,3h2M281.5,217v2m3,-2v2M262,212.5h2m-2,3h2M261.5,213v2m3,-2v2M252,246.5h2m-2,3h2M251.5,247v2m3,-2v2M250,155.5h2m-2,3h2M249.5,156v2m3,-2v2M207,171.5h2m-2,3h2M206.5,172v2m3,-2v2M290,233.5h2m-2,3h2M289.5,234v2m3,-2v2M199,306.5h2m-2,3h2M198.5,307v2m3,-2v2M253,288.5h2m-2,3h2M252.5,289v2m3,-2v2M244,225.5h2m-2,3h2M243.5,226v2m3,-2v2M245,213.5h2m-2,3h2M244.5,214v2m3,-2v2M339,380.5h2m-2,3h2M338.5,381v2m3,-2v2M182,169.5h2m-2,3h2M181.5,170v2m3,-2v2M272,125.5h2m-2,3h2M271.5,126v2m3,-2v2M211,175.5h2m-2,3h2M210.5,176v2m3,-2v2M237,179.5h2m-2,3h2M236.5,180v2m3,-2v2M304,341.5h2m-2,3h2M303.5,342v2m3,-2v2M218,204.5h2m-2,3h2M217.5,205v2m3,-2v2M217,238.5h2m-2,3h2M216.5,239v2m3,-2v2M319,215.5h2m-2,3h2M318.5,216v2m3,-2v2M221,221.5h2m-2,3h2M220.5,222v2m3,-2v2M235,207.5h2m-2,3h2M234.5,208v2m3,-2v2M294,245.5h2m-2,3h2M293.5,246v2m3,-2v2M244,217.5h2m-2,3h2M243.5,218v2m3,-2v2M270,451.5h2m-2,3h2M269.5,452v2m3,-2v2M226,245.5h2m-2,3h2M225.5,246v2m3,-2v2M256,227.5h2m-2,3h2M255.5,228v2m3,-2v2M222,195.5h2m-2,3h2M221.5,196v2m3,-2v2M269,258.5h2m-2,3h2M268.5,259v2m3,-2v2M209,303.5h2m-2,3h2M208.5,304v2m3,-2v2M241,247.5h2m-2,3h2M240.5,248v2m3,-2v2M253,252.5h2m-2,3h2M252.5,253v2m3,-2v2M244,173.5h2m-2,3h2M243.5,174v2m3,-2v2M244,265.5h2m-2,3h2M243.5,266v2m3,-2v2M264,262.5h2m-2,3h2M263.5,263v2m3,-2v2M318,390.5h2m-2,3h2M317.5,391v2m3,-2v2M240,198.5h2m-2,3h2M239.5,199v2m3,-2v2M239,171.5h2m-2,3h2M238.5,172v2m3,-2v2M253,215.5h2m-2,3h2M252.5,216v2m3,-2v2M314,453.5h2m-2,3h2M313.5,454v2m3,-2v2M222,333.5h2m-2,3h2M221.5,334v2m3,-2v2M198,166.5h2m-2,3h2M197.5,167v2m3,-2v2M230,168.5h2m-2,3h2M229.5,169v2m3,-2v2M258,335.5h2m-2,3h2M257.5,336v2m3,-2v2M250,262.5h2m-2,3h2M249.5,263v2m3,-2v2M331,261.5h2m-2,3h2M330.5,262v2m3,-2v2M328,245.5h2m-2,3h2M327.5,246v2m3,-2v2M197,202.5h2m-2,3h2M196.5,203v2m3,-2v2M184,218.5h2m-2,3h2M183.5,219v2m3,-2v2M312,306.5h2m-2,3h2M311.5,307v2m3,-2v2M314,258.5h2m-2,3h2M313.5,259v2m3,-2v2M212,187.5h2m-2,3h2M211.5,188v2m3,-2v2M251,197.5h2m-2,3h2M250.5,198v2m3,-2v2M227,193.5h2m-2,3h2M226.5,194v2m3,-2v2M366,459.5h2m-2,3h2M365.5,460v2m3,-2v2M268,235.5h2m-2,3h2M267.5,236v2m3,-2v2M237,195.5h2m-2,3h2M236.5,196v2m3,-2v2M221,200.5h2m-2,3h2M220.5,201v2m3,-2v2M226,208.5h2m-2,3h2M225.5,209v2m3,-2v2M247,207.5h2m-2,3h2M246.5,208v2m3,-2v2M212,226.5h2m-2,3h2M211.5,227v2m3,-2v2M324,355.5h2m-2,3h2M323.5,356v2m3,-2v2M261,239.5h2m-2,3h2M260.5,240v2m3,-2v2M223,214.5h2m-2,3h2M222.5,215v2m3,-2v2M257,182.5h2m-2,3h2M256.5,183v2m3,-2v2M200,230.5h2m-2,3h2M199.5,231v2m3,-2v2M223,356.5h2m-2,3h2M222.5,357v2m3,-2v2M357,240.5h2m-2,3h2M356.5,241v2m3,-2v2M273,238.5h2m-2,3h2M272.5,239v2m3,-2v2M297,186.5h2m-2,3h2M296.5,187v2m3,-2v2M231,194.5h2m-2,3h2M230.5,195v2m3,-2v2M254,217.5h2m-2,3h2M253.5,218v2m3,-2v2M196,253.5h2m-2,3h2M195.5,254v2m3,-2v2M261,188.5h2m-2,3h2M260.5,189v2m3,-2v2M293,322.5h2m-2,3h2M292.5,323v2m3,-2v2M213,185.5h2m-2,3h2M212.5,186v2m3,-2v2M264,239.5h2m-2,3h2M263.5,240v2m3,-2v2M270,229.5h2m-2,3h2M269.5,230v2m3,-2v2M316,283.5h2m-2,3h2M315.5,284v2m3,-2v2M273,240.5h2m-2,3h2M272.5,241v2m3,-2v2M371,227.5h2m-2,3h2M370.5,228v2m3,-2v2M247,202.5h2m-2,3h2M246.5,203v2m3,-2v2M255,239.5h2m-2,3h2M254.5,240v2m3,-2v2M232,237.5h2m-2,3h2M231.5,238v2m3,-2v2M155,145.5h2m-2,3h2M154.5,146v2m3,-2v2M296,316.5h2m-2,3h2M295.5,317v2m3,-2v2M306,251.5h2m-2,3h2M305.5,252v2m3,-2v2M253,231.5h2m-2,3h2M252.5,232v2m3,-2v2M223,142.5h2m-2,3h2M222.5,143v2m3,-2v2M372,321.5h2m-2,3h2M371.5,322v2m3,-2v2M262,193.5h2m-2,3h2M261.5,194v2m3,-2v2M368,411.5h2m-2,3h2M367.5,412v2m3,-2v2M329,324.5h2m-2,3h2M328.5,325v2m3,-2v2M264,169.5h2m-2,3h2M263.5,170v2m3,-2v2M277,259.5h2m-2,3h2M276.5,260v2m3,-2v2M302,405.5h2m-2,3h2M301.5,406v2m3,-2v2M244,223.5h2m-2,3h2M243.5,224v2m3,-2v2M270,192.5h2m-2,3h2M269.5,193v2m3,-2v2M200,289.5h2m-2,3h2M199.5,290v2m3,-2v2M270,286.5h2m-2,3h2M269.5,287v2m3,-2v2M291,377.5h2m-2,3h2M290.5,378v2m3,-2v2M284,223.5h2m-2,3h2M283.5,224v2m3,-2v2M218,195.5h2m-2,3h2M217.5,196v2m3,-2v2M410,283.5h2m-2,3h2M409.5,284v2m3,-2v2M277,259.5h2m-2,3h2M276.5,260v2m3,-2v2M362,415.5h2m-2,3h2M361.5,416v2m3,-2v2M223,189.5h2m-2,3h2M222.5,190v2m3,-2v2M244,219.5h2m-2,3h2M243.5,220v2m3,-2v2M240,200.5h2m-2,3h2M239.5,201v2m3,-2v2M344,413.5h2m-2,3h2M343.5,414v2m3,-2v2M294,230.5h2m-2,3h2M293.5,231v2m3,-2v2M241,204.5h2m-2,3h2M240.5,205v2m3,-2v2M287,222.5h2m-2,3h2M286.5,223v2m3,-2v2M275,209.5h2m-2,3h2M274.5,210v2m3,-2v2M262,190.5h2m-2,3h2M261.5,191v2m3,-2v2M227,208.5h2m-2,3h2M226.5,209v2m3,-2v2M293,232.5h2m-2,3h2M292.5,233v2m3,-2v2M271,213.5h2m-2,3h2M270.5,214v2m3,-2v2M263,232.5h2m-2,3h2M262.5,233v2m3,-2v2M211,243.5h2m-2,3h2M210.5,244v2m3,-2v2M367,444.5h2m-2,3h2M366.5,445v2m3,-2v2M239,205.5h2m-2,3h2M238.5,206v2m3,-2v2M317,372.5h2m-2,3h2M316.5,373v2m3,-2v2M269,234.5h2m-2,3h2M268.5,235v2m3,-2v2M276,195.5h2m-2,3h2M275.5,196v2m3,-2v2M247,166.5h2m-2,3h2M246.5,167v2m3,-2v2M272,238.5h2m-2,3h2M271.5,239v2m3,-2v2M239,205.5h2m-2,3h2M238.5,206v2m3,-2v2M160,232.5h2m-2,3h2M159.5,233v2m3,-2v2M281,243.5h2m-2,3h2M280.5,244v2m3,-2v2M273,318.5h2m-2,3h2M272.5,319v2m3,-2v2M333,222.5h2m-2,3h2M332.5,223v2m3,-2v2M417,228.5h2m-2,3h2M416.5,229v2m3,-2v2M315,303.5h2m-2,3h2M314.5,304v2m3,-2v2M227,188.5h2m-2,3h2M226.5,189v2m3,-2v2M261,246.5h2m-2,3h2M260.5,247v2m3,-2v2M224,258.5h2m-2,3h2M223.5,259v2m3,-2v2M292,221.5h2m-2,3h2M291.5,222v2m3,-2v2M290,191.5h2m-2,3h2M289.5,192v2m3,-2v2M149,129.5h2m-2,3h2M148.5,130v2m3,-2v2M248,152.5h2m-2,3h2M247.5,153v2m3,-2v2" stroke="#a0ff5e" stroke-width="1" fill="none" shape-rendering="crispEdges"/><path d="M314,237.5h5M316.5,235v5M391,265.5h5M393.5,263v5M379,286.5h5M381.5,284v5M409,282.5h5M411.5,280v5M341,248.5h5M343.5,246v5M321,259.5h5M323.5,257v5M456,271.5h5M458.5,269v5M324,240.5h5M326.5,238v5M325,277.5h5M327.5,275v5M377,217.5h5M379.5,215v5M302,244.5h5M304.5,242v5M340,306.5h5M342.5,304v5M414,226.5h5M416.5,224v5M351,177.5h5M353.5,175v5M390,254.5h5M392.5,252v5M353,269.5h5M355.5,267v5M313,229.5h5M315.5,227v5M340,244.5h5M342.5,242v5M287,277.5h5M289.5,275v5M384,247.5h5M386.5,245v5M323,224.5h5M325.5,222v5M302,266.5h5M304.5,264v5M315,234.5h5M317.5,232v5M378,266.5h5M380.5,264v5M313,255.5h5M315.5,253v5M287,252.5h5M289.5,250v5M345,262.5h5M347.5,260v5M309,229.5h5M311.5,227v5M302,225.5h5M304.5,223v5M333,233.5h5M335.5,231v5M402,287.5h5M404.5,285v5M376,216.5h5M378.5,214v5M321,267.5h5M323.5,265v5M366,239.5h5M368.5,237v5M315,207.5h5M317.5,205v5M285,187.5h5M287.5,185v5M386,256.5h5M388.5,254v5M380,269.5h5M382.5,267v5M359,287.5h5M361.5,285v5M347,251.5h5M349.5,249v5M296,176.5h5M298.5,174v5M308,242.5h5M310.5,240v5M300,268.5h5M302.5,266v5M381,234.5h5M383.5,232v5M468,261.5h5M470.5,259v5M398,270.5h5M400.5,268v5M430,244.5h5M432.5,242v5M270,230.5h5M272.5,228v5M282,251.5h5M284.5,249v5M338,250.5h5M340.5,248v5M309,270.5h5M311.5,268v5M314,236.5h5M316.5,234v5M384,262.5h5M386.5,260v5M315,220.5h5M317.5,218v5M287,236.5h5M289.5,234v5M333,257.5h5M335.5,255v5M426,236.5h5M428.5,234v5M320,263.5h5M322.5,261v5M341,290.5h5M343.5,288v5M337,267.5h5M339.5,265v5M331,256.5h5M333.5,254v5M381,331.5h5M383.5,329v5M423,241.5h5M425.5,239v5M381,261.5h5M383.5,259v5M256,230.5h5M258.5,228v5M239,277.5h5M241.5,275v5M220,173.5h5M222.5,171v5M349,246.5h5M351.5,244v5M424,252.5h5M426.5,250v5M380,237.5h5M382.5,235v5M333,251.5h5M335.5,249v5M415,255.5h5M417.5,253v5M279,282.5h5M281.5,280v5M343,280.5h5M345.5,278v5M455,248.5h5M457.5,246v5" stroke="#3dffc1" stroke-width="1" fill="none" shape-rendering="crispEdges"/><path d="M389,246.5h5M391.5,244v5M481,245.5h5M483.5,243v5M352,241.5h5M354.5,239v5M300,264.5h5M302.5,262v5M341,258.5h5M343.5,256v5M373,262.5h5M375.5,260v5M391,163.5h5M393.5,161v5M321,363.5h5M323.5,361v5M401,303.5h5M403.5,301v5M401,262.5h5M403.5,260v5M335,236.5h5M337.5,234v5M443,215.5h5M445.5,213v5M315,450.5h5M317.5,448v5M391,225.5h5M393.5,223v5M312,305.5h5M314.5,303v5M457,245.5h5M459.5,243v5M339,345.5h5M341.5,343v5M265,329.5h5M267.5,327v5M239,190.5h5M241.5,188v5M327,280.5h5M329.5,278v5M386,223.5h5M388.5,221v5M298,256.5h5M300.5,254v5M368,304.5h5M370.5,302v5M343,271.5h5M345.5,269v5M384,238.5h5M386.5,236v5M433,302.5h5M435.5,300v5M368,244.5h5M370.5,242v5M415,251.5h5M417.5,249v5M314,240.5h5M316.5,238v5M449,311.5h5M451.5,309v5M322,198.5h5M324.5,196v5M415,261.5h5M417.5,259v5M279,321.5h5M281.5,319v5M347,331.5h5M349.5,329v5M467,273.5h5M469.5,271v5M305,262.5h5M307.5,260v5M362,247.5h5M364.5,245v5M280,288.5h5M282.5,286v5M286,239.5h5M288.5,237v5M386,272.5h5M388.5,270v5M317,265.5h5M319.5,263v5M369,269.5h5M371.5,267v5M342,249.5h5M344.5,247v5M343,256.5h5M345.5,254v5M327,259.5h5M329.5,257v5M333,257.5h5M335.5,255v5M416,273.5h5M418.5,271v5M409,264.5h5M411.5,262v5M402,242.5h5M404.5,240v5M316,365.5h5M318.5,363v5M390,239.5h5M392.5,237v5M245,292.5h5M247.5,290v5M343,258.5h5M345.5,256v5M283,361.5h5M285.5,359v5M411,153.5h5M413.5,151v5M325,258.5h5M327.5,256v5M299,322.5h5M301.5,320v5M405,252.5h5M407.5,250v5M280,302.5h5M282.5,300v5M405,254.5h5M407.5,252v5M413,247.5h5M415.5,245v5M391,241.5h5M393.5,239v5M382,413.5h5M384.5,411v5M440,279.5h5M442.5,277v5M290,223.5h5M292.5,221v5M402,250.5h5M404.5,248v5M394,278.5h5M396.5,276v5M373,220.5h5M375.5,218v5M327,270.5h5M329.5,268v5M447,236.5h5M449.5,234v5M368,263.5h5M370.5,261v5M370,362.5h5M372.5,360v5M380,284.5h5M382.5,282v5M380,312.5h5M382.5,310v5M380,305.5h5M382.5,303v5M378,245.5h5M380.5,243v5M380,261.5h5M382.5,259v5M330,238.5h5M332.5,236v5M439,239.5h5M441.5,237v5M360,233.5h5M362.5,231v5M377,271.5h5M379.5,269v5M344,244.5h5M346.5,242v5M241,292.5h5M243.5,290v5M362,287.5h5M364.5,285v5M418,255.5h5M420.5,253v5M325,241.5h5M327.5,239v5M214,308.5h5M216.5,306v5M488,204.5h5M490.5,202v5M353,268.5h5M355.5,266v5M425,244.5h5M427.5,242v5M341,243.5h5M343.5,241v5M359,439.5h5M361.5,437v5M325,269.5h5M327.5,267v5M340,217.5h5M342.5,215v5M469,335.5h5M471.5,333v5M312,262.5h5M314.5,260v5M480,294.5h5M482.5,292v5M293,248.5h5M295.5,246v5M312,242.5h5M314.5,240v5M287,377.5h5M289.5,375v5M288,293.5h5M290.5,291v5M444,146.5h5M446.5,144v5M277,419.5h5M279.5,417v5M305,247.5h5M307.5,245v5M316,250.5h5M318.5,248v5M406,261.5h5M408.5,259v5M391,271.5h5M393.5,269v5M264,273.5h5M266.5,271v5M272,290.5h5M274.5,288v5" stroke="#4effb0" stroke-width="1" fill="none" shape-rendering="crispEdges"/><path d="M282,222.5h2m-2,3h2M281.5,223v2m3,-2v2M223,198.5h2m-2,3h2M222.5,199v2m3,-2v2M207,220.5h2m-2,3h2M206.5,221v2m3,-2v2M205,246.5h2m-2,3h2M204.5,247v2m3,-2v2M310,210.5h2m-2,3h2M309.5,211v2m3,-2v2M249,237.5h2m-2,3h2M248.5,238v2m3,-2v2M298,258.5h2m-2,3h2M297.5,259v2m3,-2v2M237,214.5h2m-2,3h2M236.5,215v2m3,-2v2M213,216.5h2m-2,3h2M212.5,217v2m3,-2v2M277,202.5h2m-2,3h2M276.5,203v2m3,-2v2M259,207.5h2m-2,3h2M258.5,208v2m3,-2v2M290,233.5h2m-2,3h2M289.5,234v2m3,-2v2M216,177.5h2m-2,3h2M215.5,178v2m3,-2v2M224,217.5h2m-2,3h2M223.5,218v2m3,-2v2M247,223.5h2m-2,3h2M246.5,224v2m3,-2v2M221,225.5h2m-2,3h2M220.5,226v2m3,-2v2M257,259.5h2m-2,3h2M256.5,260v2m3,-2v2M266,239.5h2m-2,3h2M265.5,240v2m3,-2v2M227,240.5h2m-2,3h2M226.5,241v2m3,-2v2M277,259.5h2m-2,3h2M276.5,260v2m3,-2v2M264,252.5h2m-2,3h2M263.5,253v2m3,-2v2M327,375.5h2m-2,3h2M326.5,376v2m3,-2v2M267,206.5h2m-2,3h2M266.5,207v2m3,-2v2M239,237.5h2m-2,3h2M238.5,238v2m3,-2v2M222,214.5h2m-2,3h2M221.5,215v2m3,-2v2M273,201.5h2m-2,3h2M272.5,202v2m3,-2v2M366,228.5h2m-2,3h2M365.5,229v2m3,-2v2M207,196.5h2m-2,3h2M206.5,197v2m3,-2v2M242,182.5h2m-2,3h2M241.5,183v2m3,-2v2M223,196.5h2m-2,3h2M222.5,197v2m3,-2v2M183,169.5h2m-2,3h2M182.5,170v2m3,-2v2M231,235.5h2m-2,3h2M230.5,236v2m3,-2v2M222,177.5h2m-2,3h2M221.5,178v2m3,-2v2M242,212.5h2m-2,3h2M241.5,213v2m3,-2v2M278,128.5h2m-2,3h2M277.5,129v2m3,-2v2M232,212.5h2m-2,3h2M231.5,213v2m3,-2v2M167,128.5h2m-2,3h2M166.5,129v2m3,-2v2M284,238.5h2m-2,3h2M283.5,239v2m3,-2v2M198,202.5h2m-2,3h2M197.5,203v2m3,-2v2M260,180.5h2m-2,3h2M259.5,181v2m3,-2v2M277,226.5h2m-2,3h2M276.5,227v2m3,-2v2M260,198.5h2m-2,3h2M259.5,199v2m3,-2v2M229,201.5h2m-2,3h2M228.5,202v2m3,-2v2M430,260.5h2m-2,3h2M429.5,261v2m3,-2v2M213,238.5h2m-2,3h2M212.5,239v2m3,-2v2M225,163.5h2m-2,3h2M224.5,164v2m3,-2v2M279,207.5h2m-2,3h2M278.5,208v2m3,-2v2M249,201.5h2m-2,3h2M248.5,202v2m3,-2v2M225,203.5h2m-2,3h2M224.5,204v2m3,-2v2M243,251.5h2m-2,3h2M242.5,252v2m3,-2v2M266,237.5h2m-2,3h2M265.5,238v2m3,-2v2M202,207.5h2m-2,3h2M201.5,208v2m3,-2v2M268,193.5h2m-2,3h2M267.5,194v2m3,-2v2M272,240.5h2m-2,3h2M271.5,241v2m3,-2v2M210,180.5h2m-2,3h2M209.5,181v2m3,-2v2M261,189.5h2m-2,3h2M260.5,190v2m3,-2v2M198,198.5h2m-2,3h2M197.5,199v2m3,-2v2M235,215.5h2m-2,3h2M234.5,216v2m3,-2v2M251,255.5h2m-2,3h2M250.5,256v2m3,-2v2M239,200.5h2m-2,3h2M238.5,201v2m3,-2v2M277,250.5h2m-2,3h2M276.5,251v2m3,-2v2M256,246.5h2m-2,3h2M255.5,247v2m3,-2v2M342,394.5h2m-2,3h2M341.5,395v2m3,-2v2M255,218.5h2m-2,3h2M254.5,219v2m3,-2v2M230,148.5h2m-2,3h2M229.5,149v2m3,-2v2M167,220.5h2m-2,3h2M166.5,221v2m3,-2v2M245,201.5h2m-2,3h2M244.5,202v2m3,-2v2M303,296.5h2m-2,3h2M302.5,297v2m3,-2v2M230,212.5h2m-2,3h2M229.5,213v2m3,-2v2M246,219.5h2m-2,3h2M245.5,220v2m3,-2v2M200,211.5h2m-2,3h2M199.5,212v2m3,-2v2M216,172.5h2m-2,3h2M215.5,173v2m3,-2v2M262,198.5h2m-2,3h2M261.5,199v2m3,-2v2M233,210.5h2m-2,3h2M232.5,211v2m3,-2v2M288,208.5h2m-2,3h2M287.5,209v2m3,-2v2M250,230.5h2m-2,3h2M249.5,231v2m3,-2v2M205,206.5h2m-2,3h2M204.5,207v2m3,-2v2M233,207.5h2m-2,3h2M232.5,208v2m3,-2v2M235,254.5h2m-2,3h2M234.5,255v2m3,-2v2M222,207.5h2m-2,3h2M221.5,208v2m3,-2v2M287,195.5h2m-2,3h2M286.5,196v2m3,-2v2M269,221.5h2m-2,3h2M268.5,222v2m3,-2v2M343,337.5h2m-2,3h2M342.5,338v2m3,-2v2M287,108.5h2m-2,3h2M286.5,109v2m3,-2v2M242,257.5h2m-2,3h2M241.5,258v2m3,-2v2M232,219.5h2m-2,3h2M231.5,220v2m3,-2v2M256,253.5h2m-2,3h2M255.5,254v2m3,-2v2M285,236.5h2m-2,3h2M284.5,237v2m3,-2v2M280,214.5h2m-2,3h2M279.5,215v2m3,-2v2M210,187.5h2m-2,3h2M209.5,188v2m3,-2v2M281,233.5h2m-2,3h2M280.5,234v2m3,-2v2M271,216.5h2m-2,3h2M270.5,217v2m3,-2v2M279,194.5h2m-2,3h2M278.5,195v2m3,-2v2M237,191.5h2m-2,3h2M236.5,192v2m3,-2v2M226,207.5h2m-2,3h2M225.5,208v2m3,-2v2M425,252.5h2m-2,3h2M424.5,253v2m3,-2v2M213,329.5h2m-2,3h2M212.5,330v2m3,-2v2M247,180.5h2m-2,3h2M246.5,181v2m3,-2v2M260,201.5h2m-2,3h2M259.5,202v2m3,-2v2M204,178.5h2m-2,3h2M203.5,179v2m3,-2v2M277,247.5h2m-2,3h2M276.5,248v2m3,-2v2M260,230.5h2m-2,3h2M259.5,231v2m3,-2v2M224,179.5h2m-2,3h2M223.5,180v2m3,-2v2M209,240.5h2m-2,3h2M208.5,241v2m3,-2v2M251,212.5h2m-2,3h2M250.5,213v2m3,-2v2M274,187.5h2m-2,3h2M273.5,188v2m3,-2v2M214,253.5h2m-2,3h2M213.5,254v2m3,-2v2M232,177.5h2m-2,3h2M231.5,178v2m3,-2v2M272,220.5h2m-2,3h2M271.5,221v2m3,-2v2M245,174.5h2m-2,3h2M244.5,175v2m3,-2v2M239,203.5h2m-2,3h2M238.5,204v2m3,-2v2M270,225.5h2m-2,3h2M269.5,226v2m3,-2v2M224,182.5h2m-2,3h2M223.5,183v2m3,-2v2M347,234.5h2m-2,3h2M346.5,235v2m3,-2v2M321,243.5h2m-2,3h2M320.5,244v2m3,-2v2M301,252.5h2m-2,3h2M300.5,253v2m3,-2v2M266,216.5h2m-2,3h2M265.5,217v2m3,-2v2M278,244.5h2m-2,3h2M277.5,245v2m3,-2v2M261,223.5h2m-2,3h2M260.5,224v2m3,-2v2M239,256.5h2m-2,3h2M238.5,257v2m3,-2v2M209,232.5h2m-2,3h2M208.5,233v2m3,-2v2M210,193.5h2m-2,3h2M209.5,194v2m3,-2v2M223,246.5h2m-2,3h2M222.5,247v2m3,-2v2" stroke="#b0ff4e" stroke-width="1" fill="none" shape-rendering="crispEdges"/><path d="M234,286.5h5M236.5,284v5M335,225.5h5M337.5,223v5M298,410.5h5M300.5,408v5M289,338.5h5M291.5,336v5M320,250.5h5M322.5,248v5M374,334.5h5M376.5,332v5M315,264.5h5M317.5,262v5M338,270.5h5M340.5,268v5M278,420.5h5M280.5,418v5M301,263.5h5M303.5,261v5M135,324.5h5M137.5,322v5M320,410.5h5M322.5,408v5M370,281.5h5M372.5,279v5M340,282.5h5M342.5,280v5M298,268.5h5M300.5,266v5M278,300.5h5M280.5,298v5M380,242.5h5M382.5,240v5M399,253.5h5M401.5,251v5M336,285.5h5M338.5,283v5M287,355.5h5M289.5,353v5M203,268.5h5M205.5,266v5M217,260.5h5M219.5,258v5M199,299.5h5M201.5,297v5M242,340.5h5M244.5,338v5M293,329.5h5M295.5,327v5M289,298.5h5M291.5,296v5M388,250.5h5M390.5,248v5M425,285.5h5M427.5,283v5M301,247.5h5M303.5,245v5M363,239.5h5M365.5,237v5M355,331.5h5M357.5,329v5M412,297.5h5M414.5,295v5M303,271.5h5M305.5,269v5M337,344.5h5M339.5,342v5M262,339.5h5M264.5,337v5M356,370.5h5M358.5,368v5M303,312.5h5M305.5,310v5M374,273.5h5M376.5,271v5M191,329.5h5M193.5,327v5M414,268.5h5M416.5,266v5M391,259.5h5M393.5,257v5M332,365.5h5M334.5,363v5M183,198.5h5M185.5,196v5M283,386.5h5M285.5,384v5M245,279.5h5M247.5,277v5M302,237.5h5M304.5,235v5M180,344.5h5M182.5,342v5M310,261.5h5M312.5,259v5M413,252.5h5M415.5,250v5M354,260.5h5M356.5,258v5M337,432.5h5M339.5,430v5M396,279.5h5M398.5,277v5M316,285.5h5M318.5,283v5M396,249.5h5M398.5,247v5M324,245.5h5M326.5,243v5M406,240.5h5M408.5,238v5M250,310.5h5M252.5,308v5M448,295.5h5M450.5,293v5M395,225.5h5M397.5,223v5M378,270.5h5M380.5,268v5M375,259.5h5M377.5,257v5M372,302.5h5M374.5,300v5M312,417.5h5M314.5,415v5M240,325.5h5M242.5,323v5M350,271.5h5M352.5,269v5M253,311.5h5M255.5,309v5M307,235.5h5M309.5,233v5M386,277.5h5M388.5,275v5M364,288.5h5M366.5,286v5M335,354.5h5M337.5,352v5M387,265.5h5M389.5,263v5M304,265.5h5M306.5,263v5M292,280.5h5M294.5,278v5M434,161.5h5M436.5,159v5M355,248.5h5M357.5,246v5M180,172.5h5M182.5,170v5M303,394.5h5M305.5,392v5M378,262.5h5M380.5,260v5M380,228.5h5M382.5,226v5M265,272.5h5M267.5,270v5M241,324.5h5M243.5,322v5M408,236.5h5M410.5,234v5M326,435.5h5M328.5,433v5M407,253.5h5M409.5,251v5M342,254.5h5M344.5,252v5M306,251.5h5M308.5,249v5M290,314.5h5M292.5,312v5M335,254.5h5M337.5,252v5M282,294.5h5M284.5,292v5M385,235.5h5M387.5,233v5M309,401.5h5M311.5,399v5M377,220.5h5M379.5,218v5M368,184.5h5M370.5,182v5M307,379.5h5M309.5,377v5M246,358.5h5M248.5,356v5M295,422.5h5M297.5,420v5M411,264.5h5M413.5,262v5M264,339.5h5M266.5,337v5M235,303.5h5M237.5,301v5M358,238.5h5M360.5,236v5M312,296.5h5M314.5,294v5M423,206.5h5M425.5,204v5M298,269.5h5M300.5,267v5M260,296.5h5M262.5,294v5M327,357.5h5M329.5,355v5M271,339.5h5M273.5,337v5M351,243.5h5M353.5,241v5M343,400.5h5M345.5,398v5M207,233.5h5M209.5,231v5M249,321.5h5M251.5,319v5M173,369.5h5M175.5,367v5M339,237.5h5M341.5,235v5M300,250.5h5M302.5,248v5M370,235.5h5M372.5,233v5M427,169.5h5M429.5,167v5M443,191.5h5M445.5,189v5M187,357.5h5M189.5,355v5M369,275.5h5M371.5,273v5M303,244.5h5M305.5,242v5M218,183.5h5M220.5,181v5M382,265.5h5M384.5,263v5M458,203.5h5M460.5,201v5M297,391.5h5M299.5,389v5M292,245.5h5M294.5,243v5M331,269.5h5M333.5,267v5M261,217.5h5M263.5,215v5M360,268.5h5M362.5,266v5M348,240.5h5M350.5,238v5M313,238.5h5M315.5,236v5M438,199.5h5M440.5,197v5M190,355.5h5M192.5,353v5M242,239.5h5M244.5,237v5M368,253.5h5M370.5,251v5M410,265.5h5M412.5,263v5M266,304.5h5M268.5,302v5M366,224.5h5M368.5,222v5M375,206.5h5M377.5,204v5M292,288.5h5M294.5,286v5M304,315.5h5M306.5,313v5M279,294.5h5M281.5,292v5M305,347.5h5M307.5,345v5M302,215.5h5M304.5,213v5M331,267.5h5M333.5,265v5M245,313.5h5M247.5,311v5M399,262.5h5M401.5,260v5M404,262.5h5M406.5,260v5M315,236.5h5M317.5,234v5M296,253.5h5M298.5,251v5M304,467.5h5M306.5,465v5M355,276.5h5M357.5,274v5M293,448.5h5M295.5,446v5M319,332.5h5M321.5,330v5M391,398.5h5M393.5,396v5M314,228.5h5M316.5,226v5M364,277.5h5M366.5,275v5M185,374.5h5M187.5,372v5M328,284.5h5M330.5,282v5M438,255.5h5M440.5,253v5M311,214.5h5M313.5,212v5M292,225.5h5M294.5,223v5M369,476.5h5M371.5,474v5M295,396.5h5M297.5,394v5M238,268.5h5M240.5,266v5M227,299.5h5M229.5,297v5M401,247.5h5M403.5,245v5M449,240.5h5M451.5,238v5M379,236.5h5M381.5,234v5M517,253.5h5M519.5,251v5M162,376.5h5M164.5,374v5M329,287.5h5M331.5,285v5M258,320.5h5M260.5,318v5M299,249.5h5M301.5,247v5M306,376.5h5M308.5,374v5M326,257.5h5M328.5,255v5M336,253.5h5M338.5,251v5M329,253.5h5M331.5,251v5M276,281.5h5M278.5,279v5M310,255.5h5M312.5,253v5M318,256.5h5M320.5,254v5M414,254.5h5M416.5,252v5M423,256.5h5M425.5,254v5M271,362.5h5M273.5,360v5M267,433.5h5M269.5,431v5M273,284.5h5M275.5,282v5" stroke="#5effa0" stroke-width="1" fill="none" shape-rendering="crispEdges"/><path d="M439,307.5h2m-2,3h2M438.5,308v2m3,-2v2M270,209.5h2m-2,3h2M269.5,210v2m3,-2v2M227,204.5h2m-2,3h2M226.5,205v2m3,-2v2M298,412.5h2m-2,3h2M297.5,413v2m3,-2v2M292,436.5h2m-2,3h2M291.5,437v2m3,-2v2M347,410.5h2m-2,3h2M346.5,411v2m3,-2v2M300,452.5h2m-2,3h2M299.5,453v2m3,-2v2M360,472.5h2m-2,3h2M359.5,473v2m3,-2v2M332,181.5h2m-2,3h2M331.5,182v2m3,-2v2M268,245.5h2m-2,3h2M267.5,246v2m3,-2v2M279,337.5h2m-2,3h2M278.5,338v2m3,-2v2M352,388.5h2m-2,3h2M351.5,389v2m3,-2v2M210,413.5h2m-2,3h2M209.5,414v2m3,-2v2M325,402.5h2m-2,3h2M324.5,403v2m3,-2v2M331,347.5h2m-2,3h2M330.5,348v2m3,-2v2M298,386.5h2m-2,3h2M297.5,387v2m3,-2v2M351,413.5h2m-2,3h2M350.5,414v2m3,-2v2M311,391.5h2m-2,3h2M310.5,392v2m3,-2v2M303,338.5h2m-2,3h2M302.5,339v2m3,-2v2M343,410.5h2m-2,3h2M342.5,411v2m3,-2v2M323,412.5h2m-2,3h2M322.5,413v2m3,-2v2M271,420.5h2m-2,3h2M270.5,421v2m3,-2v2M245,382.5h2m-2,3h2M244.5,383v2m3,-2v2M338,370.5h2m-2,3h2M337.5,371v2m3,-2v2" stroke="#7fff7f" stroke-width="1" fill="none" shape-rendering="crispEdges"/><path d="M272,278.5h5M274.5,276v5M312,196.5h5M314.5,194v5M327,281.5h5M329.5,279v5M218,301.5h5M220.5,299v5M297,347.5h5M299.5,345v5M336,370.5h5M338.5,368v5M309,239.5h5M311.5,237v5M332,250.5h5M334.5,248v5M305,177.5h5M307.5,175v5M214,270.5h5M216.5,268v5M337,359.5h5M339.5,357v5M336,261.5h5M338.5,259v5M273,280.5h5M275.5,278v5M371,251.5h5M373.5,249v5M262,298.5h5M264.5,296v5M363,409.5h5M365.5,407v5M268,330.5h5M270.5,328v5M310,305.5h5M312.5,303v5M333,375.5h5M335.5,373v5M294,363.5h5M296.5,361v5M257,392.5h5M259.5,390v5M478,237.5h5M480.5,235v5M196,315.5h5M198.5,313v5M312,306.5h5M314.5,304v5M333,389.5h5M335.5,387v5M299,360.5h5M301.5,358v5M274,450.5h5M276.5,448v5M284,324.5h5M286.5,322v5M440,339.5h5M442.5,337v5M261,321.5h5M263.5,319v5M228,279.5h5M230.5,277v5M300,293.5h5M302.5,291v5M334,303.5h5M336.5,301v5M404,244.5h5M406.5,242v5M376,306.5h5M378.5,304v5M362,225.5h5M364.5,223v5M502,219.5h5M504.5,217v5M315,300.5h5M317.5,298v5M269,301.5h5M271.5,299v5M294,271.5h5M296.5,269v5M318,476.5h5M320.5,474v5M388,276.5h5M390.5,274v5M328,300.5h5M330.5,298v5M388,377.5h5M390.5,375v5M338,175.5h5M340.5,173v5M451,250.5h5M453.5,248v5M225,304.5h5M227.5,302v5M219,356.5h5M221.5,354v5M352,246.5h5M354.5,244v5M309,365.5h5M311.5,363v5M339,423.5h5M341.5,421v5M100,374.5h5M102.5,372v5M239,329.5h5M241.5,327v5M256,305.5h5M258.5,303v5M237,343.5h5M239.5,341v5M330,355.5h5M332.5,353v5M261,291.5h5M263.5,289v5M282,276.5h5M284.5,274v5M261,307.5h5M263.5,305v5M314,299.5h5M316.5,297v5M366,426.5h5M368.5,424v5M236,362.5h5M238.5,360v5M371,256.5h5M373.5,254v5M278,315.5h5M280.5,313v5M308,431.5h5M310.5,429v5M341,305.5h5M343.5,303v5M333,239.5h5M335.5,237v5M304,493.5h5M306.5,491v5M364,283.5h5M366.5,281v5M308,397.5h5M310.5,395v5M115,254.5h5M117.5,252v5M284,308.5h5M286.5,306v5M284,368.5h5M286.5,366v5M213,277.5h5M215.5,275v5M302,244.5h5M304.5,242v5M287,400.5h5M289.5,398v5M280,281.5h5M282.5,279v5M347,251.5h5M349.5,249v5M409,268.5h5M411.5,266v5M326,289.5h5M328.5,287v5M307,305.5h5M309.5,303v5M372,360.5h5M374.5,358v5M338,400.5h5M340.5,398v5M228,289.5h5M230.5,287v5M251,319.5h5M253.5,317v5M405,288.5h5M407.5,286v5M323,315.5h5M325.5,313v5M358,302.5h5M360.5,300v5M313,374.5h5M315.5,372v5M466,227.5h5M468.5,225v5M314,254.5h5M316.5,252v5M164,295.5h5M166.5,293v5M419,252.5h5M421.5,250v5M326,307.5h5M328.5,305v5M171,383.5h5M173.5,381v5M277,232.5h5M279.5,230v5M347,304.5h5M349.5,302v5M286,303.5h5M288.5,301v5M311,422.5h5M313.5,420v5M339,258.5h5M341.5,256v5M348,257.5h5M350.5,255v5M332,421.5h5M334.5,419v5M333,320.5h5M335.5,318v5M361,280.5h5M363.5,278v5M314,196.5h5M316.5,194v5M291,252.5h5M293.5,250v5M221,321.5h5M223.5,319v5M415,240.5h5M417.5,238v5M340,255.5h5M342.5,253v5M334,225.5h5M336.5,223v5M209,343.5h5M211.5,341v5M351,404.5h5M353.5,402v5M331,355.5h5M333.5,353v5M291,495.5h5M293.5,493v5M181,301.5h5M183.5,299v5M359,305.5h5M361.5,303v5M401,302.5h5M403.5,300v5M225,335.5h5M227.5,333v5M384,278.5h5M386.5,276v5M405,280.5h5M407.5,278v5M354,304.5h5M356.5,302v5" stroke="#6fff8f" stroke-width="1" fill="none" shape-rendering="crispEdges"/><path d="M316,269.5h5M318.5,267v5M375,235.5h5M377.5,233v5M369,260.5h5M371.5,258v5M399,251.5h5M401.5,249v5M297,245.5h5M299.5,243v5M364,213.5h5M366.5,211v5M355,264.5h5M357.5,262v5M329,290.5h5M331.5,288v5M344,265.5h5M346.5,263v5M389,309.5h5M391.5,307v5M291,273.5h5M293.5,271v5M348,242.5h5M350.5,240v5M310,258.5h5M312.5,256v5M339,254.5h5M341.5,252v5M343,244.5h5M345.5,242v5M386,245.5h5M388.5,243v5M369,262.5h5M371.5,260v5M422,292.5h5M424.5,290v5M385,288.5h5M387.5,286v5M360,189.5h5M362.5,187v5M290,225.5h5M292.5,223v5M381,258.5h5M383.5,256v5M306,262.5h5M308.5,260v5M382,240.5h5M384.5,238v5M417,258.5h5M419.5,256v5M347,244.5h5M349.5,242v5M376,239.5h5M378.5,237v5M324,269.5h5M326.5,267v5M386,240.5h5M388.5,238v5M429,274.5h5M431.5,272v5M420,267.5h5M422.5,265v5M364,263.5h5M366.5,261v5M285,257.5h5M287.5,255v5M416,251.5h5M418.5,249v5" stroke="#2dffd1" stroke-width="1" fill="none" shape-rendering="crispEdges"/><path d="M239,205.5h2m-2,3h2M238.5,206v2m3,-2v2M250,215.5h2m-2,3h2M249.5,216v2m3,-2v2M258,280.5h2m-2,3h2M257.5,281v2m3,-2v2M237,167.5h2m-2,3h2M236.5,168v2m3,-2v2M366,172.5h2m-2,3h2M365.5,173v2m3,-2v2M293,236.5h2m-2,3h2M292.5,237v2m3,-2v2M266,197.5h2m-2,3h2M265.5,198v2m3,-2v2M242,231.5h2m-2,3h2M241.5,232v2m3,-2v2M203,204.5h2m-2,3h2M202.5,205v2m3,-2v2M195,218.5h2m-2,3h2M194.5,219v2m3,-2v2M252,223.5h2m-2,3h2M251.5,224v2m3,-2v2M234,218.5h2m-2,3h2M233.5,219v2m3,-2v2M268,217.5h2m-2,3h2M267.5,218v2m3,-2v2M286,229.5h2m-2,3h2M285.5,230v2m3,-2v2M249,194.5h2m-2,3h2M248.5,195v2m3,-2v2M256,289.5h2m-2,3h2M255.5,290v2m3,-2v2M276,249.5h2m-2,3h2M275.5,250v2m3,-2v2M220,222.5h2m-2,3h2M219.5,223v2m3,-2v2M203,192.5h2m-2,3h2M202.5,193v2m3,-2v2M272,257.5h2m-2,3h2M271.5,258v2m3,-2v2M253,115.5h2m-2,3h2M252.5,116v2m3,-2v2" stroke="#c1ff3d" stroke-width="1" fill="none" shape-rendering="crispEdges"/><path d="M241,236.5h2m-2,3h2M240.5,237v2m3,-2v2M266,393.5h2m-2,3h2M265.5,394v2m3,-2v2M397,427.5h2m-2,3h2M396.5,428v2m3,-2v2M269,371.5h2m-2,3h2M268.5,372v2m3,-2v2M291,438.5h2m-2,3h2M290.5,439v2m3,-2v2M379,275.5h2m-2,3h2M378.5,276v2m3,-2v2M233,215.5h2m-2,3h2M232.5,216v2m3,-2v2M303,315.5h2m-2,3h2M302.5,316v2m3,-2v2M326,274.5h2m-2,3h2M325.5,275v2m3,-2v2M355,260.5h2m-2,3h2M354.5,261v2m3,-2v2M347,345.5h2m-2,3h2M346.5,346v2m3,-2v2M217,202.5h2m-2,3h2M216.5,203v2m3,-2v2M239,223.5h2m-2,3h2M238.5,224v2m3,-2v2M328,467.5h2m-2,3h2M327.5,468v2m3,-2v2M195,187.5h2m-2,3h2M194.5,188v2m3,-2v2M196,313.5h2m-2,3h2M195.5,314v2m3,-2v2M258,248.5h2m-2,3h2M257.5,249v2m3,-2v2M267,220.5h2m-2,3h2M266.5,221v2m3,-2v2M265,216.5h2m-2,3h2M264.5,217v2m3,-2v2M250,93.5h2m-2,3h2M249.5,94v2m3,-2v2M373,483.5h2m-2,3h2M372.5,484v2m3,-2v2M285,442.5h2m-2,3h2M284.5,443v2m3,-2v2M289,256.5h2m-2,3h2M288.5,257v2m3,-2v2M300,445.5h2m-2,3h2M299.5,446v2m3,-2v2M371,243.5h2m-2,3h2M370.5,244v2m3,-2v2M317,314.5h2m-2,3h2M316.5,315v2m3,-2v2M330,409.5h2m-2,3h2M329.5,410v2m3,-2v2M287,364.5h2m-2,3h2M286.5,365v2m3,-2v2M383,460.5h2m-2,3h2M382.5,461v2m3,-2v2M261,236.5h2m-2,3h2M260.5,237v2m3,-2v2M330,284.5h2m-2,3h2M329.5,285v2m3,-2v2M353,425.5h2m-2,3h2M352.5,426v2m3,-2v2M255,164.5h2m-2,3h2M254.5,165v2m3,-2v2M358,365.5h2m-2,3h2M357.5,366v2m3,-2v2M317,436.5h2m-2,3h2M316.5,437v2m3,-2v2M307,352.5h2m-2,3h2M306.5,353v2m3,-2v2M222,295.5h2m-2,3h2M221.5,296v2m3,-2v2M261,132.5h2m-2,3h2M260.5,133v2m3,-2v2M382,326.5h2m-2,3h2M381.5,327v2m3,-2v2M511,281.5h2m-2,3h2M510.5,282v2m3,-2v2M228,220.5h2m-2,3h2M227.5,221v2m3,-2v2M318,386.5h2m-2,3h2M317.5,387v2m3,-2v2M354,410.5h2m-2,3h2M353.5,411v2m3,-2v2M230,228.5h2m-2,3h2M229.5,229v2m3,-2v2M373,434.5h2m-2,3h2M372.5,435v2m3,-2v2M231,216.5h2m-2,3h2M230.5,217v2m3,-2v2M326,458.5h2m-2,3h2M325.5,459v2m3,-2v2M339,400.5h2m-2,3h2M338.5,401v2m3,-2v2M355,288.5h2m-2,3h2M354.5,289v2m3,-2v2M242,208.5h2m-2,3h2M241.5,209v2m3,-2v2M312,494.5h2m-2,3h2M311.5,495v2m3,-2v2M316,389.5h2m-2,3h2M315.5,390v2m3,-2v2M228,179.5h2m-2,3h2M227.5,180v2m3,-2v2M271,433.5h2m-2,3h2M270.5,434v2m3,-2v2M298,233.5h2m-2,3h2M297.5,234v2m3,-2v2M219,181.5h2m-2,3h2M218.5,182v2m3,-2v2M268,400.5h2m-2,3h2M267.5,401v2m3,-2v2M430,442.5h2m-2,3h2M429.5,443v2m3,-2v2M335,385.5h2m-2,3h2M334.5,386v2m3,-2v2M299,369.5h2m-2,3h2M298.5,370v2m3,-2v2M346,446.5h2m-2,3h2M345.5,447v2m3,-2v2M215,206.5h2m-2,3h2M214.5,207v2m3,-2v2M250,173.5h2m-2,3h2M249.5,174v2m3,-2v2M322,450.5h2m-2,3h2M321.5,451v2m3,-2v2M385,445.5h2m-2,3h2M384.5,446v2m3,-2v2M292,329.5h2m-2,3h2M291.5,330v2m3,-2v2M169,125.5h2m-2,3h2M168.5,126v2m3,-2v2M352,407.5h2m-2,3h2M351.5,408v2m3,-2v2M218,212.5h2m-2,3h2M217.5,213v2m3,-2v2M333,254.5h2m-2,3h2M332.5,255v2m3,-2v2M284,191.5h2m-2,3h2M283.5,192v2m3,-2v2M341,461.5h2m-2,3h2M340.5,462v2m3,-2v2M269,238.5h2m-2,3h2M268.5,239v2m3,-2v2M332,423.5h2m-2,3h2M331.5,424v2m3,-2v2M245,477.5h2m-2,3h2M244.5,478v2m3,-2v2M435,245.5h2m-2,3h2M434.5,246v2m3,-2v2M300,316.5h2m-2,3h2M299.5,317v2m3,-2v2M295,292.5h2m-2,3h2M294.5,293v2m3,-2v2M314,369.5h2m-2,3h2M313.5,370v2m3,-2v2M274,254.5h2m-2,3h2M273.5,255v2m3,-2v2M293,215.5h2m-2,3h2M292.5,216v2m3,-2v2M272,452.5h2m-2,3h2M271.5,453v2m3,-2v2M337,414.5h2m-2,3h2M336.5,415v2m3,-2v2M233,303.5h2m-2,3h2M232.5,304v2m3,-2v2M221,161.5h2m-2,3h2M220.5,162v2m3,-2v2M237,292.5h2m-2,3h2M236.5,293v2m3,-2v2M369,369.5h2m-2,3h2M368.5,370v2m3,-2v2M172,205.5h2m-2,3h2M171.5,206v2m3,-2v2M258,209.5h2m-2,3h2M257.5,210v2m3,-2v2" stroke="#8fff6f" stroke-width="1" fill="none" shape-rendering="crispEdges"/><path d="M196,288.5h2m-2,3h2M195.5,289v2m3,-2v2M337,377.5h2m-2,3h2M336.5,378v2m3,-2v2M331,377.5h2m-2,3h2M330.5,378v2m3,-2v2M339,425.5h2m-2,3h2M338.5,426v2m3,-2v2" stroke="#6fff8f" stroke-width="1" fill="none" shape-rendering="crispEdges"/><path d="M357,315.5h5M359.5,313v5M306,290.5h5M308.5,288v5M357,271.5h5M359.5,269v5M276,341.5h5M278.5,339v5M265,302.5h5M267.5,300v5M512,234.5h5M514.5,232v5M132,309.5h5M134.5,307v5M318,310.5h5M320.5,308v5M351,317.5h5M353.5,315v5M326,195.5h5M328.5,193v5M343,355.5h5M345.5,353v5M316,370.5h5M318.5,368v5M412,263.5h5M414.5,261v5M280,320.5h5M282.5,318v5M267,400.5h5M269.5,398v5M336,316.5h5M338.5,314v5M281,342.5h5M283.5,340v5M391,309.5h5M393.5,307v5M205,222.5h5M207.5,220v5M259,420.5h5M261.5,418v5M350,346.5h5M352.5,344v5M431,425.5h5M433.5,423v5M403,244.5h5M405.5,242v5M357,328.5h5M359.5,326v5M365,330.5h5M367.5,328v5M331,403.5h5M333.5,401v5M370,251.5h5M372.5,249v5M324,327.5h5M326.5,325v5M297,308.5h5M299.5,306v5M291,99.5h5M293.5,97v5M261,299.5h5M263.5,297v5" stroke="#7fff7f" stroke-width="1" fill="none" shape-rendering="crispEdges"/><path d="M325,165.5h2m-2,3h2M324.5,166v2m3,-2v2M204,201.5h2m-2,3h2M203.5,202v2m3,-2v2M259,202.5h2m-2,3h2M258.5,203v2m3,-2v2M292,213.5h2m-2,3h2M291.5,214v2m3,-2v2" stroke="#d1ff2d" stroke-width="1" fill="none" shape-rendering="crispEdges"/><path d="M371,257.5h5M373.5,255v5M299,244.5h5M301.5,242v5M373,240.5h5M375.5,238v5M422,242.5h5M424.5,240v5M410,265.5h5M412.5,263v5" stroke="#1cffe2" stroke-width="1" fill="none" shape-rendering="crispEdges"/><path d="M285,268.5h5M287.5,266v5M508,358.5h5M510.5,356v5M291,400.5h5M293.5,398v5" stroke="#8fff6f" stroke-width="1" fill="none" shape-rendering="crispEdges"/><path d="M338,239.5h5M340.5,237v5M448,244.5h5M450.5,242v5M345,321.5h5M347.5,319v5M320,261.5h5M322.5,259v5M415,263.5h5M417.5,261v5M384,429.5h5M386.5,427v5M337,261.5h5M339.5,259v5M272,320.5h5M274.5,318v5M280,291.5h5M282.5,289v5M324,238.5h5M326.5,236v5M299,406.5h5M301.5,404v5M423,232.5h5M425.5,230v5M398,294.5h5M400.5,292v5M246,310.5h5M248.5,308v5M259,275.5h5M261.5,273v5M518,214.5h5M520.5,212v5M353,231.5h5M355.5,229v5M336,349.5h5M338.5,347v5M269,350.5h5M271.5,348v5M397,230.5h5M399.5,228v5M352,297.5h5M354.5,295v5M230,320.5h5M232.5,318v5M398,273.5h5M400.5,271v5M319,258.5h5M321.5,256v5M333,247.5h5M335.5,245v5M357,431.5h5M359.5,429v5M231,471.5h5M233.5,469v5M313,293.5h5M315.5,291v5M268,323.5h5M270.5,321v5M439,265.5h5M441.5,263v5M352,282.5h5M354.5,280v5M370,256.5h5M372.5,254v5M344,411.5h5M346.5,409v5M379,260.5h5M381.5,258v5M443,220.5h5M445.5,218v5M339,237.5h5M341.5,235v5M445,205.5h5M447.5,203v5M318,275.5h5M320.5,273v5M309,218.5h5M311.5,216v5M363,335.5h5M365.5,333v5M330,254.5h5M332.5,252v5M413,234.5h5M415.5,232v5M360,235.5h5M362.5,233v5M375,314.5h5M377.5,312v5M205,266.5h5M207.5,264v5M261,307.5h5M263.5,305v5M321,294.5h5M323.5,292v5M355,486.5h5M357.5,484v5M287,338.5h5M289.5,336v5M206,375.5h5M208.5,373v5M325,263.5h5M327.5,261v5M253,321.5h5M255.5,319v5M250,303.5h5M252.5,301v5M467,280.5h5M469.5,278v5M286,258.5h5M288.5,256v5M303,233.5h5M305.5,231v5M328,262.5h5M330.5,260v5M266,334.5h5M268.5,332v5M390,226.5h5M392.5,224v5M282,238.5h5M284.5,236v5M383,245.5h5M385.5,243v5M301,263.5h5M303.5,261v5M296,222.5h5M298.5,220v5M313,237.5h5M315.5,235v5M307,367.5h5M309.5,365v5M345,266.5h5M347.5,264v5M399,253.5h5M401.5,251v5M342,257.5h5M344.5,255v5M337,377.5h5M339.5,375v5M523,258.5h5M525.5,256v5M274,309.5h5M276.5,307v5M310,312.5h5M312.5,310v5M383,255.5h5M385.5,253v5M53,346.5h5M55.5,344v5M348,219.5h5M350.5,217v5M249,226.5h5M251.5,224v5M312,219.5h5M314.5,217v5M418,266.5h5M420.5,264v5M290,185.5h5M292.5,183v5M302,241.5h5M304.5,239v5M329,276.5h5M331.5,274v5M222,251.5h5M224.5,249v5M314,234.5h5M316.5,232v5M388,454.5h5M390.5,452v5M310,349.5h5M312.5,347v5M284,231.5h5M286.5,229v5M303,244.5h5M305.5,242v5M306,331.5h5M308.5,329v5M421,265.5h5M423.5,263v5M411,333.5h5M413.5,331v5M332,299.5h5M334.5,297v5M176,227.5h5M178.5,225v5M294,379.5h5M296.5,377v5M301,384.5h5M303.5,382v5M303,357.5h5M305.5,355v5M318,266.5h5M320.5,264v5M300,235.5h5M302.5,233v5M289,378.5h5M291.5,376v5M322,292.5h5M324.5,290v5M298,385.5h5M300.5,383v5M261,295.5h5M263.5,293v5M483,233.5h5M485.5,231v5M367,423.5h5M369.5,421v5M323,469.5h5M325.5,467v5M266,304.5h5M268.5,302v5M522,317.5h5M524.5,315v5M332,282.5h5M334.5,280v5M234,298.5h5M236.5,296v5M356,452.5h5M358.5,450v5M248,284.5h5M250.5,282v5M364,267.5h5M366.5,265v5M336,251.5h5M338.5,249v5M303,273.5h5M305.5,271v5M336,266.5h5M338.5,264v5M304,452.5h5M306.5,450v5M215,306.5h5M217.5,304v5M279,230.5h5M281.5,228v5M473,281.5h5M475.5,279v5M233,321.5h5M235.5,319v5M352,241.5h5M354.5,239v5M240,318.5h5M242.5,316v5M468,311.5h5M470.5,309v5M287,526.5h5M289.5,524v5M321,284.5h5M323.5,282v5M192,423.5h5M194.5,421v5M379,271.5h5M381.5,269v5M252,303.5h5M254.5,301v5M303,263.5h5M305.5,261v5M418,262.5h5M420.5,260v5M243,307.5h5M245.5,305v5M404,217.5h5M406.5,215v5M391,243.5h5M393.5,241v5M332,253.5h5M334.5,251v5M271,329.5h5M273.5,327v5M284,441.5h5M286.5,439v5M322,282.5h5M324.5,280v5M319,230.5h5M321.5,228v5M267,299.5h5M269.5,297v5M267,273.5h5M269.5,271v5M260,352.5h5M262.5,350v5M286,371.5h5M288.5,369v5M357,273.5h5M359.5,271v5M429,202.5h5M431.5,200v5M332,356.5h5M334.5,354v5M205,508.5h5M207.5,506v5M345,258.5h5M347.5,256v5M335,285.5h5M337.5,283v5M349,243.5h5M351.5,241v5M384,319.5h5M386.5,317v5M347,360.5h5M349.5,358v5M258,323.5h5M260.5,321v5M373,326.5h5M375.5,324v5M415,258.5h5M417.5,256v5M186,424.5h5M188.5,422v5M353,267.5h5M355.5,265v5M407,272.5h5M409.5,270v5M368,239.5h5M370.5,237v5M420,273.5h5M422.5,271v5M322,258.5h5M324.5,256v5M397,228.5h5M399.5,226v5M310,258.5h5M312.5,256v5M298,362.5h5M300.5,360v5M298,251.5h5M300.5,249v5M297,260.5h5M299.5,258v5M274,273.5h5M276.5,271v5M290,356.5h5M292.5,354v5M316,250.5h5M318.5,248v5M385,235.5h5M387.5,233v5M294,269.5h5M296.5,267v5M378,267.5h5M380.5,265v5M368,238.5h5M370.5,236v5M219,335.5h5M221.5,333v5M342,279.5h5M344.5,277v5M242,197.5h5M244.5,195v5M313,249.5h5M315.5,247v5M378,341.5h5M380.5,339v5" stroke="#5effa0" stroke-width="1" fill="none" shape-rendering="crispEdges"/><path d="M408,263.5h5M410.5,261v5M346,275.5h5M348.5,273v5M313,251.5h5M315.5,249v5M386,250.5h5M388.5,248v5M315,241.5h5M317.5,239v5M348,263.5h5M350.5,261v5M400,259.5h5M402.5,257v5M392,249.5h5M394.5,247v5M368,248.5h5M370.5,246v5M326,247.5h5M328.5,245v5M308,255.5h5M310.5,253v5M309,235.5h5M311.5,233v5M365,261.5h5M367.5,259v5M319,241.5h5M321.5,239v5M366,225.5h5M368.5,223v5M376,225.5h5M378.5,223v5M375,245.5h5M377.5,243v5M363,264.5h5M365.5,262v5M364,266.5h5M366.5,264v5M355,253.5h5M357.5,251v5M449,255.5h5M451.5,253v5M394,263.5h5M396.5,261v5M379,240.5h5M381.5,238v5M361,227.5h5M363.5,225v5M329,294.5h5M331.5,292v5M356,256.5h5M358.5,254v5M428,315.5h5M430.5,313v5M330,194.5h5M332.5,192v5M342,265.5h5M344.5,263v5M332,242.5h5M334.5,240v5M263,249.5h5M265.5,247v5M395,242.5h5M397.5,240v5M296,240.5h5M298.5,238v5M508,356.5h5M510.5,354v5M378,242.5h5M380.5,240v5M376,262.5h5M378.5,260v5M311,259.5h5M313.5,257v5M302,257.5h5M304.5,255v5M364,275.5h5M366.5,273v5M308,230.5h5M310.5,228v5M375,270.5h5M377.5,268v5M383,287.5h5M385.5,285v5M373,271.5h5M375.5,269v5M377,257.5h5M379.5,255v5M335,256.5h5M337.5,254v5M341,255.5h5M343.5,253v5M443,249.5h5M445.5,247v5M398,250.5h5M400.5,248v5M362,229.5h5M364.5,227v5M366,260.5h5M368.5,258v5M313,206.5h5M315.5,204v5M365,281.5h5M367.5,279v5M420,264.5h5M422.5,262v5M319,278.5h5M321.5,276v5M368,266.5h5M370.5,264v5M443,302.5h5M445.5,300v5M337,259.5h5M339.5,257v5M369,224.5h5M371.5,222v5M406,258.5h5M408.5,256v5M345,238.5h5M347.5,236v5M385,271.5h5M387.5,269v5M364,258.5h5M366.5,256v5M357,269.5h5M359.5,267v5M392,283.5h5M394.5,281v5M386,263.5h5M388.5,261v5M350,280.5h5M352.5,278v5M333,292.5h5M335.5,290v5M357,252.5h5M359.5,250v5M192,206.5h5M194.5,204v5M371,256.5h5M373.5,254v5M443,264.5h5M445.5,262v5M362,269.5h5M364.5,267v5M474,248.5h5M476.5,246v5M348,276.5h5M350.5,274v5M334,233.5h5M336.5,231v5M362,267.5h5M364.5,265v5M509,223.5h5M511.5,221v5M352,262.5h5M354.5,260v5M320,253.5h5M322.5,251v5M392,255.5h5M394.5,253v5M392,245.5h5M394.5,243v5M500,328.5h5M502.5,326v5" stroke="#3dffc1" stroke-width="1" fill="none" shape-rendering="crispEdges"/><path d="M258,245.5h2m-2,3h2M257.5,246v2m3,-2v2M251,315.5h2m-2,3h2M250.5,316v2m3,-2v2M320,296.5h2m-2,3h2M319.5,297v2m3,-2v2M310,352.5h2m-2,3h2M309.5,353v2m3,-2v2M236,228.5h2m-2,3h2M235.5,229v2m3,-2v2M334,404.5h2m-2,3h2M333.5,405v2m3,-2v2M239,117.5h2m-2,3h2M238.5,118v2m3,-2v2M243,442.5h2m-2,3h2M242.5,443v2m3,-2v2M374,503.5h2m-2,3h2M373.5,504v2m3,-2v2M324,442.5h2m-2,3h2M323.5,443v2m3,-2v2M248,205.5h2m-2,3h2M247.5,206v2m3,-2v2M232,306.5h2m-2,3h2M231.5,307v2m3,-2v2M184,217.5h2m-2,3h2M183.5,218v2m3,-2v2M342,346.5h2m-2,3h2M341.5,347v2m3,-2v2M244,185.5h2m-2,3h2M243.5,186v2m3,-2v2M362,265.5h2m-2,3h2M361.5,266v2m3,-2v2M259,195.5h2m-2,3h2M258.5,196v2m3,-2v2M312,419.5h2m-2,3h2M311.5,420v2m3,-2v2M407,286.5h2m-2,3h2M406.5,287v2m3,-2v2M294,286.5h2m-2,3h2M293.5,287v2m3,-2v2M320,421.5h2m-2,3h2M319.5,422v2m3,-2v2M293,289.5h2m-2,3h2M292.5,290v2m3,-2v2M355,448.5h2m-2,3h2M354.5,449v2m3,-2v2M372,428.5h2m-2,3h2M371.5,429v2m3,-2v2M320,369.5h2m-2,3h2M319.5,370v2m3,-2v2M256,192.5h2m-2,3h2M255.5,193v2m3,-2v2M226,127.5h2m-2,3h2M225.5,128v2m3,-2v2M348,421.5h2m-2,3h2M347.5,422v2m3,-2v2M295,226.5h2m-2,3h2M294.5,227v2m3,-2v2M295,347.5h2m-2,3h2M294.5,348v2m3,-2v2M250,240.5h2m-2,3h2M249.5,241v2m3,-2v2M261,272.5h2m-2,3h2M260.5,273v2m3,-2v2M252,415.5h2m-2,3h2M251.5,416v2m3,-2v2M273,415.5h2m-2,3h2M272.5,416v2m3,-2v2M347,227.5h2m-2,3h2M346.5,228v2m3,-2v2M353,262.5h2m-2,3h2M352.5,263v2m3,-2v2M346,357.5h2m-2,3h2M345.5,358v2m3,-2v2M282,379.5h2m-2,3h2M281.5,380v2m3,-2v2M242,281.5h2m-2,3h2M241.5,282v2m3,-2v2M282,350.5h2m-2,3h2M281.5,351v2m3,-2v2M317,456.5h2m-2,3h2M316.5,457v2m3,-2v2M375,403.5h2m-2,3h2M374.5,404v2m3,-2v2M228,307.5h2m-2,3h2M227.5,308v2m3,-2v2M299,243.5h2m-2,3h2M298.5,244v2m3,-2v2M199,222.5h2m-2,3h2M198.5,223v2m3,-2v2M211,141.5h2m-2,3h2M210.5,142v2m3,-2v2M312,375.5h2m-2,3h2M311.5,376v2m3,-2v2M272,206.5h2m-2,3h2M271.5,207v2m3,-2v2M373,457.5h2m-2,3h2M372.5,458v2m3,-2v2M359,415.5h2m-2,3h2M358.5,416v2m3,-2v2M263,178.5h2m-2,3h2M262.5,179v2m3,-2v2M218,174.5h2m-2,3h2M217.5,175v2m3,-2v2M360,315.5h2m-2,3h2M359.5,316v2m3,-2v2M250,229.5h2m-2,3h2M249.5,230v2m3,-2v2M202,209.5h2m-2,3h2M201.5,210v2m3,-2v2M372,237.5h2m-2,3h2M371.5,238v2m3,-2v2M319,278.5h2m-2,3h2M318.5,279v2m3,-2v2M363,391.5h2m-2,3h2M362.5,392v2m3,-2v2M315,424.5h2m-2,3h2M314.5,425v2m3,-2v2M214,233.5h2m-2,3h2M213.5,234v2m3,-2v2M326,396.5h2m-2,3h2M325.5,397v2m3,-2v2M384,422.5h2m-2,3h2M383.5,423v2m3,-2v2M251,342.5h2m-2,3h2M250.5,343v2m3,-2v2M228,199.5h2m-2,3h2M227.5,200v2m3,-2v2M361,309.5h2m-2,3h2M360.5,310v2m3,-2v2M262,192.5h2m-2,3h2M261.5,193v2m3,-2v2M349,423.5h2m-2,3h2M348.5,424v2m3,-2v2M345,297.5h2m-2,3h2M344.5,298v2m3,-2v2M253,179.5h2m-2,3h2M252.5,180v2m3,-2v2M283,366.5h2m-2,3h2M282.5,367v2m3,-2v2M304,320.5h2m-2,3h2M303.5,321v2m3,-2v2M342,291.5h2m-2,3h2M341.5,292v2m3,-2v2M360,275.5h2m-2,3h2M359.5,276v2m3,-2v2M264,396.5h2m-2,3h2M263.5,397v2m3,-2v2M313,395.5h2m-2,3h2M312.5,396v2m3,-2v2M232,209.5h2m-2,3h2M231.5,210v2m3,-2v2" stroke="#8fff6f" stroke-width="1" fill="none" shape-rendering="crispEdges"/><path d="M360,292.5h5M362.5,290v5M384,269.5h5M386.5,267v5M318,277.5h5M320.5,275v5M340,242.5h5M342.5,240v5M358,251.5h5M360.5,249v5M366,273.5h5M368.5,271v5M280,209.5h5M282.5,207v5M203,439.5h5M205.5,437v5M420,274.5h5M422.5,272v5M359,248.5h5M361.5,246v5M320,286.5h5M322.5,284v5M440,219.5h5M442.5,217v5M294,247.5h5M296.5,245v5M388,278.5h5M390.5,276v5M320,342.5h5M322.5,340v5M381,244.5h5M383.5,242v5M320,365.5h5M322.5,363v5M359,267.5h5M361.5,265v5M440,240.5h5M442.5,238v5M306,281.5h5M308.5,279v5M354,255.5h5M356.5,253v5M409,253.5h5M411.5,251v5M315,274.5h5M317.5,272v5M380,266.5h5M382.5,264v5M401,273.5h5M403.5,271v5M307,254.5h5M309.5,252v5M248,195.5h5M250.5,193v5M310,263.5h5M312.5,261v5M478,259.5h5M480.5,257v5M315,262.5h5M317.5,260v5M415,244.5h5M417.5,242v5M357,400.5h5M359.5,398v5M313,240.5h5M315.5,238v5M390,238.5h5M392.5,236v5M349,249.5h5M351.5,247v5M290,238.5h5M292.5,236v5M356,244.5h5M358.5,242v5M312,202.5h5M314.5,200v5M307,270.5h5M309.5,268v5M329,244.5h5M331.5,242v5M391,254.5h5M393.5,252v5M418,249.5h5M420.5,247v5M294,392.5h5M296.5,390v5M285,261.5h5M287.5,259v5M233,300.5h5M235.5,298v5M330,280.5h5M332.5,278v5M453,274.5h5M455.5,272v5M375,271.5h5M377.5,269v5M335,204.5h5M337.5,202v5M357,284.5h5M359.5,282v5M393,249.5h5M395.5,247v5M330,326.5h5M332.5,324v5M337,214.5h5M339.5,212v5M400,264.5h5M402.5,262v5M422,246.5h5M424.5,244v5M353,246.5h5M355.5,244v5M327,295.5h5M329.5,293v5M212,292.5h5M214.5,290v5M324,258.5h5M326.5,256v5M424,236.5h5M426.5,234v5M353,247.5h5M355.5,245v5M350,318.5h5M352.5,316v5M322,343.5h5M324.5,341v5M399,295.5h5M401.5,293v5M408,234.5h5M410.5,232v5M367,244.5h5M369.5,242v5M364,297.5h5M366.5,295v5M374,249.5h5M376.5,247v5M365,281.5h5M367.5,279v5M302,239.5h5M304.5,237v5M394,196.5h5M396.5,194v5M368,219.5h5M370.5,217v5M264,428.5h5M266.5,426v5M316,274.5h5M318.5,272v5M385,260.5h5M387.5,258v5M290,316.5h5M292.5,314v5M478,291.5h5M480.5,289v5M371,264.5h5M373.5,262v5M367,249.5h5M369.5,247v5M312,253.5h5M314.5,251v5M542,325.5h5M544.5,323v5M434,266.5h5M436.5,264v5M375,212.5h5M377.5,210v5M313,243.5h5M315.5,241v5M416,251.5h5M418.5,249v5M298,452.5h5M300.5,450v5M310,252.5h5M312.5,250v5M304,233.5h5M306.5,231v5M430,253.5h5M432.5,251v5M368,341.5h5M370.5,339v5M304,242.5h5M306.5,240v5M375,238.5h5M377.5,236v5M303,248.5h5M305.5,246v5M352,255.5h5M354.5,253v5M350,265.5h5M352.5,263v5M304,304.5h5M306.5,302v5M324,450.5h5M326.5,448v5M308,290.5h5M310.5,288v5M289,359.5h5M291.5,357v5M320,232.5h5M322.5,230v5M271,335.5h5M273.5,333v5M370,272.5h5M372.5,270v5M316,259.5h5M318.5,257v5M381,271.5h5M383.5,269v5M350,229.5h5M352.5,227v5M437,208.5h5M439.5,206v5M390,251.5h5M392.5,249v5M323,251.5h5M325.5,249v5M412,244.5h5M414.5,242v5M275,203.5h5M277.5,201v5M440,360.5h5M442.5,358v5M372,276.5h5M374.5,274v5M387,238.5h5M389.5,236v5M321,220.5h5M323.5,218v5M367,257.5h5M369.5,255v5M404,261.5h5M406.5,259v5M315,216.5h5M317.5,214v5M381,268.5h5M383.5,266v5M368,230.5h5M370.5,228v5M332,235.5h5M334.5,233v5M154,317.5h5M156.5,315v5M345,252.5h5M347.5,250v5M298,235.5h5M300.5,233v5M372,320.5h5M374.5,318v5M360,275.5h5M362.5,273v5M320,244.5h5M322.5,242v5M352,350.5h5M354.5,348v5M313,271.5h5M315.5,269v5M349,250.5h5M351.5,248v5M348,242.5h5M350.5,240v5M346,237.5h5M348.5,235v5M401,258.5h5M403.5,256v5M385,259.5h5M387.5,257v5M287,313.5h5M289.5,311v5M198,315.5h5M200.5,313v5M395,233.5h5M397.5,231v5M239,222.5h5M241.5,220v5M534,301.5h5M536.5,299v5M346,239.5h5M348.5,237v5M399,250.5h5M401.5,248v5M393,262.5h5M395.5,260v5M389,278.5h5M391.5,276v5M312,227.5h5M314.5,225v5M329,214.5h5M331.5,212v5M358,257.5h5M360.5,255v5" stroke="#4effb0" stroke-width="1" fill="none" shape-rendering="crispEdges"/><path d="M222,206.5h2m-2,3h2M221.5,207v2m3,-2v2M212,184.5h2m-2,3h2M211.5,185v2m3,-2v2M290,231.5h2m-2,3h2M289.5,232v2m3,-2v2M279,279.5h2m-2,3h2M278.5,280v2m3,-2v2M235,175.5h2m-2,3h2M234.5,176v2m3,-2v2M230,174.5h2m-2,3h2M229.5,175v2m3,-2v2M242,197.5h2m-2,3h2M241.5,198v2m3,-2v2M251,214.5h2m-2,3h2M250.5,215v2m3,-2v2M245,181.5h2m-2,3h2M244.5,182v2m3,-2v2M234,274.5h2m-2,3h2M233.5,275v2m3,-2v2M263,214.5h2m-2,3h2M262.5,215v2m3,-2v2M256,210.5h2m-2,3h2M255.5,211v2m3,-2v2M188,283.5h2m-2,3h2M187.5,284v2m3,-2v2M239,229.5h2m-2,3h2M238.5,230v2m3,-2v2M278,221.5h2m-2,3h2M277.5,222v2m3,-2v2M210,216.5h2m-2,3h2M209.5,217v2m3,-2v2M225,212.5h2m-2,3h2M224.5,213v2m3,-2v2M304,261.5h2m-2,3h2M303.5,262v2m3,-2v2M260,247.5h2m-2,3h2M259.5,248v2m3,-2v2M251,205.5h2m-2,3h2M250.5,206v2m3,-2v2M276,230.5h2m-2,3h2M275.5,231v2m3,-2v2M295,265.5h2m-2,3h2M294.5,266v2m3,-2v2M224,123.5h2m-2,3h2M223.5,124v2m3,-2v2M243,209.5h2m-2,3h2M242.5,210v2m3,-2v2M261,218.5h2m-2,3h2M260.5,219v2m3,-2v2M283,261.5h2m-2,3h2M282.5,262v2m3,-2v2M260,238.5h2m-2,3h2M259.5,239v2m3,-2v2M257,235.5h2m-2,3h2M256.5,236v2m3,-2v2" stroke="#c1ff3d" stroke-width="1" fill="none" shape-rendering="crispEdges"/><path d="M224,214.5h2m-2,3h2M223.5,215v2m3,-2v2M312,323.5h2m-2,3h2M311.5,324v2m3,-2v2M235,201.5h2m-2,3h2M234.5,202v2m3,-2v2M241,328.5h2m-2,3h2M240.5,329v2m3,-2v2M187,182.5h2m-2,3h2M186.5,183v2m3,-2v2M257,200.5h2m-2,3h2M256.5,201v2m3,-2v2M280,304.5h2m-2,3h2M279.5,305v2m3,-2v2M299,270.5h2m-2,3h2M298.5,271v2m3,-2v2M249,191.5h2m-2,3h2M248.5,192v2m3,-2v2M264,207.5h2m-2,3h2M263.5,208v2m3,-2v2M263,241.5h2m-2,3h2M262.5,242v2m3,-2v2M278,227.5h2m-2,3h2M277.5,228v2m3,-2v2M205,206.5h2m-2,3h2M204.5,207v2m3,-2v2M283,240.5h2m-2,3h2M282.5,241v2m3,-2v2M220,214.5h2m-2,3h2M219.5,215v2m3,-2v2M241,161.5h2m-2,3h2M240.5,162v2m3,-2v2M225,229.5h2m-2,3h2M224.5,230v2m3,-2v2M217,229.5h2m-2,3h2M216.5,230v2m3,-2v2M328,235.5h2m-2,3h2M327.5,236v2m3,-2v2M213,203.5h2m-2,3h2M212.5,204v2m3,-2v2M364,405.5h2m-2,3h2M363.5,406v2m3,-2v2M253,256.5h2m-2,3h2M252.5,257v2m3,-2v2M345,391.5h2m-2,3h2M344.5,392v2m3,-2v2M256,252.5h2m-2,3h2M255.5,253v2m3,-2v2M385,432.5h2m-2,3h2M384.5,433v2m3,-2v2M328,392.5h2m-2,3h2M327.5,393v2m3,-2v2M249,215.5h2m-2,3h2M248.5,216v2m3,-2v2M270,215.5h2m-2,3h2M269.5,216v2m3,-2v2M212,194.5h2m-2,3h2M211.5,195v2m3,-2v2M268,217.5h2m-2,3h2M267.5,218v2m3,-2v2M225,177.5h2m-2,3h2M224.5,178v2m3,-2v2M227,232.5h2m-2,3h2M226.5,233v2m3,-2v2M223,247.5h2m-2,3h2M222.5,248v2m3,-2v2M250,209.5h2m-2,3h2M249.5,210v2m3,-2v2M253,220.5h2m-2,3h2M252.5,221v2m3,-2v2M269,223.5h2m-2,3h2M268.5,224v2m3,-2v2M319,205.5h2m-2,3h2M318.5,206v2m3,-2v2M224,197.5h2m-2,3h2M223.5,198v2m3,-2v2M218,121.5h2m-2,3h2M217.5,122v2m3,-2v2M218,178.5h2m-2,3h2M217.5,179v2m3,-2v2M406,234.5h2m-2,3h2M405.5,235v2m3,-2v2M257,257.5h2m-2,3h2M256.5,258v2m3,-2v2M263,267.5h2m-2,3h2M262.5,268v2m3,-2v2M283,196.5h2m-2,3h2M282.5,197v2m3,-2v2M374,457.5h2m-2,3h2M373.5,458v2m3,-2v2M223,185.5h2m-2,3h2M222.5,186v2m3,-2v2M232,233.5h2m-2,3h2M231.5,234v2m3,-2v2M263,224.5h2m-2,3h2M262.5,225v2m3,-2v2M280,210.5h2m-2,3h2M279.5,211v2m3,-2v2M215,163.5h2m-2,3h2M214.5,164v2m3,-2v2M288,193.5h2m-2,3h2M287.5,194v2m3,-2v2M238,185.5h2m-2,3h2M237.5,186v2m3,-2v2M252,208.5h2m-2,3h2M251.5,209v2m3,-2v2M299,229.5h2m-2,3h2M298.5,230v2m3,-2v2M270,239.5h2m-2,3h2M269.5,240v2m3,-2v2M192,217.5h2m-2,3h2M191.5,218v2m3,-2v2M221,236.5h2m-2,3h2M220.5,237v2m3,-2v2M240,227.5h2m-2,3h2M239.5,228v2m3,-2v2M171,261.5h2m-2,3h2M170.5,262v2m3,-2v2M372,453.5h2m-2,3h2M371.5,454v2m3,-2v2M198,208.5h2m-2,3h2M197.5,209v2m3,-2v2M239,184.5h2m-2,3h2M238.5,185v2m3,-2v2M259,173.5h2m-2,3h2M258.5,174v2m3,-2v2M208,199.5h2m-2,3h2M207.5,200v2m3,-2v2M301,239.5h2m-2,3h2M300.5,240v2m3,-2v2M315,215.5h2m-2,3h2M314.5,216v2m3,-2v2M227,191.5h2m-2,3h2M226.5,192v2m3,-2v2M174,189.5h2m-2,3h2M173.5,190v2m3,-2v2M331,267.5h2m-2,3h2M330.5,268v2m3,-2v2M226,202.5h2m-2,3h2M225.5,203v2m3,-2v2M288,391.5h2m-2,3h2M287.5,392v2m3,-2v2M279,196.5h2m-2,3h2M278.5,197v2m3,-2v2M290,237.5h2m-2,3h2M289.5,238v2m3,-2v2M337,359.5h2m-2,3h2M336.5,360v2m3,-2v2M277,190.5h2m-2,3h2M276.5,191v2m3,-2v2M246,242.5h2m-2,3h2M245.5,243v2m3,-2v2M273,216.5h2m-2,3h2M272.5,217v2m3,-2v2M230,228.5h2m-2,3h2M229.5,229v2m3,-2v2M197,236.5h2m-2,3h2M196.5,237v2m3,-2v2M329,305.5h2m-2,3h2M328.5,306v2m3,-2v2M307,245.5h2m-2,3h2M306.5,246v2m3,-2v2M283,200.5h2m-2,3h2M282.5,201v2m3,-2v2M257,206.5h2m-2,3h2M256.5,207v2m3,-2v2M236,334.5h2m-2,3h2M235.5,335v2m3,-2v2M209,204.5h2m-2,3h2M208.5,205v2m3,-2v2M232,188.5h2m-2,3h2M231.5,189v2m3,-2v2M240,191.5h2m-2,3h2M239.5,192v2m3,-2v2M329,242.5h2m-2,3h2M328.5,243v2m3,-2v2M270,187.5h2m-2,3h2M269.5,188v2m3,-2v2M404,347.5h2m-2,3h2M403.5,348v2m3,-2v2M235,254.5h2m-2,3h2M234.5,255v2m3,-2v2M206,193.5h2m-2,3h2M205.5,194v2m3,-2v2M267,216.5h2m-2,3h2M266.5,217v2m3,-2v2M295,214.5h2m-2,3h2M294.5,215v2m3,-2v2M192,166.5h2m-2,3h2M191.5,167v2m3,-2v2M293,276.5h2m-2,3h2M292.5,277v2m3,-2v2M222,172.5h2m-2,3h2M221.5,173v2m3,-2v2M354,228.5h2m-2,3h2M353.5,229v2m3,-2v2M228,162.5h2m-2,3h2M227.5,163v2m3,-2v2M248,215.5h2m-2,3h2M247.5,216v2m3,-2v2M232,193.5h2m-2,3h2M231.5,194v2m3,-2v2M244,226.5h2m-2,3h2M243.5,227v2m3,-2v2M223,220.5h2m-2,3h2M222.5,221v2m3,-2v2M332,352.5h2m-2,3h2M331.5,353v2m3,-2v2M214,224.5h2m-2,3h2M213.5,225v2m3,-2v2M238,248.5h2m-2,3h2M237.5,249v2m3,-2v2M213,204.5h2m-2,3h2M212.5,205v2m3,-2v2M258,197.5h2m-2,3h2M257.5,198v2m3,-2v2M155,170.5h2m-2,3h2M154.5,171v2m3,-2v2M287,222.5h2m-2,3h2M286.5,223v2m3,-2v2M220,209.5h2m-2,3h2M219.5,210v2m3,-2v2M294,233.5h2m-2,3h2M293.5,234v2m3,-2v2M208,151.5h2m-2,3h2M207.5,152v2m3,-2v2M226,209.5h2m-2,3h2M225.5,210v2m3,-2v2M276,230.5h2m-2,3h2M275.5,231v2m3,-2v2M255,221.5h2m-2,3h2M254.5,222v2m3,-2v2M247,231.5h2m-2,3h2M246.5,232v2m3,-2v2M220,181.5h2m-2,3h2M219.5,182v2m3,-2v2M273,278.5h2m-2,3h2M272.5,279v2m3,-2v2M323,395.5h2m-2,3h2M322.5,396v2m3,-2v2M247,217.5h2m-2,3h2M246.5,218v2m3,-2v2M291,259.5h2m-2,3h2M290.5,260v2m3,-2v2M297,231.5h2m-2,3h2M296.5,232v2m3,-2v2M219,184.5h2m-2,3h2M218.5,185v2m3,-2v2M227,163.5h2m-2,3h2M226.5,164v2m3,-2v2M204,172.5h2m-2,3h2M203.5,173v2m3,-2v2M245,222.5h2m-2,3h2M244.5,223v2m3,-2v2M238,230.5h2m-2,3h2M237.5,231v2m3,-2v2M226,184.5h2m-2,3h2M225.5,185v2m3,-2v2M262,169.5h2m-2,3h2M261.5,170v2m3,-2v2M202,183.5h2m-2,3h2M201.5,184v2m3,-2v2M209,127.5h2m-2,3h2M208.5,128v2m3,-2v2M300,228.5h2m-2,3h2M299.5,229v2m3,-2v2M244,123.5h2m-2,3h2M243.5,124v2m3,-2v2M236,202.5h2m-2,3h2M235.5,203v2m3,-2v2M281,320.5h2m-2,3h2M280.5,321v2m3,-2v2M243,239.5h2m-2,3h2M242.5,240v2m3,-2v2M212,214.5h2m-2,3h2M211.5,215v2m3,-2v2" stroke="#a0ff5e" stroke-width="1" fill="none" shape-rendering="crispEdges"/><path d="M283,263.5h5M285.5,261v5M289,343.5h5M291.5,341v5M295,293.5h5M297.5,291v5M349,266.5h5M351.5,264v5M289,275.5h5M291.5,273v5M403,91.5h5M405.5,89v5M329,281.5h5M331.5,279v5M399,234.5h5M401.5,232v5M346,302.5h5M348.5,300v5M236,333.5h5M238.5,331v5M205,280.5h5M207.5,278v5M339,279.5h5M341.5,277v5M398,255.5h5M400.5,253v5M292,409.5h5M294.5,407v5M212,280.5h5M214.5,278v5M265,326.5h5M267.5,324v5M348,273.5h5M350.5,271v5M228,303.5h5M230.5,301v5M298,204.5h5M300.5,202v5M478,279.5h5M480.5,277v5M323,245.5h5M325.5,243v5M400,270.5h5M402.5,268v5M310,262.5h5M312.5,260v5M353,311.5h5M355.5,309v5M404,250.5h5M406.5,248v5M400,247.5h5M402.5,245v5M227,313.5h5M229.5,311v5M111,268.5h5M113.5,266v5M174,346.5h5M176.5,344v5M325,245.5h5M327.5,243v5M306,261.5h5M308.5,259v5M221,329.5h5M223.5,327v5M290,292.5h5M292.5,290v5M387,234.5h5M389.5,232v5M327,401.5h5M329.5,399v5M282,309.5h5M284.5,307v5M354,329.5h5M356.5,327v5M432,229.5h5M434.5,227v5M240,124.5h5M242.5,122v5M236,343.5h5M238.5,341v5M273,253.5h5M275.5,251v5M271,283.5h5M273.5,281v5M268,147.5h5M270.5,145v5M292,249.5h5M294.5,247v5M306,366.5h5M308.5,364v5M384,326.5h5M386.5,324v5M150,365.5h5M152.5,363v5M333,304.5h5M335.5,302v5M389,347.5h5M391.5,345v5M473,314.5h5M475.5,312v5M337,347.5h5M339.5,345v5M309,308.5h5M311.5,306v5M282,303.5h5M284.5,301v5M331,269.5h5M333.5,267v5M290,246.5h5M292.5,244v5M258,355.5h5M260.5,353v5M367,264.5h5M369.5,262v5M276,232.5h5M278.5,230v5M289,423.5h5M291.5,421v5M293,270.5h5M295.5,268v5M332,230.5h5M334.5,228v5M307,356.5h5M309.5,354v5M360,340.5h5M362.5,338v5M491,239.5h5M493.5,237v5M240,311.5h5M242.5,309v5M391,268.5h5M393.5,266v5M288,403.5h5M290.5,401v5M310,306.5h5M312.5,304v5M324,222.5h5M326.5,220v5M533,312.5h5M535.5,310v5M291,320.5h5M293.5,318v5M322,356.5h5M324.5,354v5M313,247.5h5M315.5,245v5M160,192.5h5M162.5,190v5M321,230.5h5M323.5,228v5M381,270.5h5M383.5,268v5M358,259.5h5M360.5,257v5M302,263.5h5M304.5,261v5M337,427.5h5M339.5,425v5M286,330.5h5M288.5,328v5M299,422.5h5M301.5,420v5M368,310.5h5M370.5,308v5M356,399.5h5M358.5,397v5M283,311.5h5M285.5,309v5M400,294.5h5M402.5,292v5M276,321.5h5M278.5,319v5M364,365.5h5M366.5,363v5M360,396.5h5M362.5,394v5M298,298.5h5M300.5,296v5M427,268.5h5M429.5,266v5M324,426.5h5M326.5,424v5M331,335.5h5M333.5,333v5M474,217.5h5M476.5,215v5M278,315.5h5M280.5,313v5M307,249.5h5M309.5,247v5M379,243.5h5M381.5,241v5M335,384.5h5M337.5,382v5M364,288.5h5M366.5,286v5M375,277.5h5M377.5,275v5M394,245.5h5M396.5,243v5M346,486.5h5M348.5,484v5M304,246.5h5M306.5,244v5M360,476.5h5M362.5,474v5M248,296.5h5M250.5,294v5M374,254.5h5M376.5,252v5M208,250.5h5M210.5,248v5M217,409.5h5M219.5,407v5M365,244.5h5M367.5,242v5M330,291.5h5M332.5,289v5M288,340.5h5M290.5,338v5M294,290.5h5M296.5,288v5M340,306.5h5M342.5,304v5M223,308.5h5M225.5,306v5M248,328.5h5M250.5,326v5M318,289.5h5M320.5,287v5M328,470.5h5M330.5,468v5M295,234.5h5M297.5,232v5M333,446.5h5M335.5,444v5M482,276.5h5M484.5,274v5M337,492.5h5M339.5,490v5M338,236.5h5M340.5,234v5M311,275.5h5M313.5,273v5M366,312.5h5M368.5,310v5M287,374.5h5M289.5,372v5M364,268.5h5M366.5,266v5M342,290.5h5M344.5,288v5M336,351.5h5M338.5,349v5M317,255.5h5M319.5,253v5" stroke="#6fff8f" stroke-width="1" fill="none" shape-rendering="crispEdges"/><path d="M358,228.5h5M360.5,226v5M453,220.5h5M455.5,218v5M328,243.5h5M330.5,241v5M328,241.5h5M330.5,239v5M503,315.5h5M505.5,313v5M350,226.5h5M352.5,224v5M378,280.5h5M380.5,278v5M355,259.5h5M357.5,257v5M346,287.5h5M348.5,285v5M384,285.5h5M386.5,283v5M337,260.5h5M339.5,258v5M367,242.5h5M369.5,240v5M371,249.5h5M373.5,247v5M296,240.5h5M298.5,238v5M406,250.5h5M408.5,248v5M389,258.5h5M391.5,256v5M353,272.5h5M355.5,270v5M386,244.5h5M388.5,242v5M503,262.5h5M505.5,260v5M430,239.5h5M432.5,237v5M299,240.5h5M301.5,238v5" stroke="#2dffd1" stroke-width="1" fill="none" shape-rendering="crispEdges"/><path d="M255,312.5h5M257.5,310v5" stroke="#0cfff2" stroke-width="1" fill="none" shape-rendering="crispEdges"/><path d="M281,275.5h5M283.5,273v5M131,310.5h5M133.5,308v5M282,361.5h5M284.5,359v5M342,298.5h5M344.5,296v5M262,319.5h5M264.5,317v5M335,336.5h5M337.5,334v5M391,372.5h5M393.5,370v5M335,236.5h5M337.5,234v5M369,229.5h5M371.5,227v5M322,299.5h5M324.5,297v5M275,230.5h5M277.5,228v5M327,238.5h5M329.5,236v5M294,276.5h5M296.5,274v5M271,230.5h5M273.5,228v5M311,451.5h5M313.5,449v5M270,226.5h5M272.5,224v5M270,339.5h5M272.5,337v5M499,276.5h5M501.5,274v5M144,393.5h5M146.5,391v5M329,247.5h5M331.5,245v5M298,299.5h5M300.5,297v5M352,398.5h5M354.5,396v5M339,243.5h5M341.5,241v5M309,267.5h5M311.5,265v5M366,283.5h5M368.5,281v5M333,311.5h5M335.5,309v5M243,282.5h5M245.5,280v5M447,272.5h5M449.5,270v5M326,298.5h5M328.5,296v5" stroke="#7fff7f" stroke-width="1" fill="none" shape-rendering="crispEdges"/><path d="M346,254.5h2m-2,3h2M345.5,255v2m3,-2v2M289,218.5h2m-2,3h2M288.5,219v2m3,-2v2M225,202.5h2m-2,3h2M224.5,203v2m3,-2v2M248,229.5h2m-2,3h2M247.5,230v2m3,-2v2M262,235.5h2m-2,3h2M261.5,236v2m3,-2v2M283,221.5h2m-2,3h2M282.5,222v2m3,-2v2M276,216.5h2m-2,3h2M275.5,217v2m3,-2v2M254,243.5h2m-2,3h2M253.5,244v2m3,-2v2M300,242.5h2m-2,3h2M299.5,243v2m3,-2v2M246,201.5h2m-2,3h2M245.5,202v2m3,-2v2M264,233.5h2m-2,3h2M263.5,234v2m3,-2v2M231,96.5h2m-2,3h2M230.5,97v2m3,-2v2M251,164.5h2m-2,3h2M250.5,165v2m3,-2v2M293,245.5h2m-2,3h2M292.5,246v2m3,-2v2M221,247.5h2m-2,3h2M220.5,248v2m3,-2v2M290,243.5h2m-2,3h2M289.5,244v2m3,-2v2M230,194.5h2m-2,3h2M229.5,195v2m3,-2v2M270,209.5h2m-2,3h2M269.5,210v2m3,-2v2M268,200.5h2m-2,3h2M267.5,201v2m3,-2v2M233,182.5h2m-2,3h2M232.5,183v2m3,-2v2M260,215.5h2m-2,3h2M259.5,216v2m3,-2v2M224,236.5h2m-2,3h2M223.5,237v2m3,-2v2M179,173.5h2m-2,3h2M178.5,174v2m3,-2v2M195,209.5h2m-2,3h2M194.5,210v2m3,-2v2M346,314.5h2m-2,3h2M345.5,315v2m3,-2v2M264,176.5h2m-2,3h2M263.5,177v2m3,-2v2M275,264.5h2m-2,3h2M274.5,265v2m3,-2v2M217,211.5h2m-2,3h2M216.5,212v2m3,-2v2M261,227.5h2m-2,3h2M260.5,228v2m3,-2v2M267,248.5h2m-2,3h2M266.5,249v2m3,-2v2M275,233.5h2m-2,3h2M274.5,234v2m3,-2v2M221,181.5h2m-2,3h2M220.5,182v2m3,-2v2M241,225.5h2m-2,3h2M240.5,226v2m3,-2v2M342,220.5h2m-2,3h2M341.5,221v2m3,-2v2M191,202.5h2m-2,3h2M190.5,203v2m3,-2v2M266,211.5h2m-2,3h2M265.5,212v2m3,-2v2M313,303.5h2m-2,3h2M312.5,304v2m3,-2v2M258,231.5h2m-2,3h2M257.5,232v2m3,-2v2M214,172.5h2m-2,3h2M213.5,173v2m3,-2v2M195,175.5h2m-2,3h2M194.5,176v2m3,-2v2M204,195.5h2m-2,3h2M203.5,196v2m3,-2v2M256,221.5h2m-2,3h2M255.5,222v2m3,-2v2M297,221.5h2m-2,3h2M296.5,222v2m3,-2v2M315,258.5h2m-2,3h2M314.5,259v2m3,-2v2M260,200.5h2m-2,3h2M259.5,201v2m3,-2v2M364,313.5h2m-2,3h2M363.5,314v2m3,-2v2M261,182.5h2m-2,3h2M260.5,183v2m3,-2v2M220,219.5h2m-2,3h2M219.5,220v2m3,-2v2M204,305.5h2m-2,3h2M203.5,306v2m3,-2v2M249,209.5h2m-2,3h2M248.5,210v2m3,-2v2M264,236.5h2m-2,3h2M263.5,237v2m3,-2v2M289,265.5h2m-2,3h2M288.5,266v2m3,-2v2M229,234.5h2m-2,3h2M228.5,235v2m3,-2v2M297,226.5h2m-2,3h2M296.5,227v2m3,-2v2M256,262.5h2m-2,3h2M255.5,263v2m3,-2v2M207,196.5h2m-2,3h2M206.5,197v2m3,-2v2M207,196.5h2m-2,3h2M206.5,197v2m3,-2v2M232,221.5h2m-2,3h2M231.5,222v2m3,-2v2M237,160.5h2m-2,3h2M236.5,161v2m3,-2v2M191,109.5h2m-2,3h2M190.5,110v2m3,-2v2M257,271.5h2m-2,3h2M256.5,272v2m3,-2v2M337,251.5h2m-2,3h2M336.5,252v2m3,-2v2M224,221.5h2m-2,3h2M223.5,222v2m3,-2v2M227,202.5h2m-2,3h2M226.5,203v2m3,-2v2M210,207.5h2m-2,3h2M209.5,208v2m3,-2v2M253,215.5h2m-2,3h2M252.5,216v2m3,-2v2M252,193.5h2m-2,3h2M251.5,194v2m3,-2v2M254,235.5h2m-2,3h2M253.5,236v2m3,-2v2M215,222.5h2m-2,3h2M214.5,223v2m3,-2v2M238,146.5h2m-2,3h2M237.5,147v2m3,-2v2M215,176.5h2m-2,3h2M214.5,177v2m3,-2v2M379,432.5h2m-2,3h2M378.5,433v2m3,-2v2M527,382.5h2m-2,3h2M526.5,383v2m3,-2v2M271,223.5h2m-2,3h2M270.5,224v2m3,-2v2M213,219.5h2m-2,3h2M212.5,220v2m3,-2v2M280,209.5h2m-2,3h2M279.5,210v2m3,-2v2M248,204.5h2m-2,3h2M247.5,205v2m3,-2v2M200,177.5h2m-2,3h2M199.5,178v2m3,-2v2M254,248.5h2m-2,3h2M253.5,249v2m3,-2v2M288,250.5h2m-2,3h2M287.5,251v2m3,-2v2M186,232.5h2m-2,3h2M185.5,233v2m3,-2v2M279,256.5h2m-2,3h2M278.5,257v2m3,-2v2M362,438.5h2m-2,3h2M361.5,439v2m3,-2v2M292,242.5h2m-2,3h2M291.5,243v2m3,-2v2M258,161.5h2m-2,3h2M257.5,162v2m3,-2v2M212,150.5h2m-2,3h2M211.5,151v2m3,-2v2M258,144.5h2m-2,3h2M257.5,145v2m3,-2v2M228,171.5h2m-2,3h2M227.5,172v2m3,-2v2M234,211.5h2m-2,3h2M233.5,212v2m3,-2v2M219,209.5h2m-2,3h2M218.5,210v2m3,-2v2M192,195.5h2m-2,3h2M191.5,196v2m3,-2v2M244,203.5h2m-2,3h2M243.5,204v2m3,-2v2M230,196.5h2m-2,3h2M229.5,197v2m3,-2v2M261,215.5h2m-2,3h2M260.5,216v2m3,-2v2M237,199.5h2m-2,3h2M236.5,200v2m3,-2v2M271,196.5h2m-2,3h2M270.5,197v2m3,-2v2M280,229.5h2m-2,3h2M279.5,230v2m3,-2v2M255,256.5h2m-2,3h2M254.5,257v2m3,-2v2M243,221.5h2m-2,3h2M242.5,222v2m3,-2v2M236,188.5h2m-2,3h2M235.5,189v2m3,-2v2M239,203.5h2m-2,3h2M238.5,204v2m3,-2v2M234,210.5h2m-2,3h2M233.5,211v2m3,-2v2M258,216.5h2m-2,3h2M257.5,217v2m3,-2v2M256,178.5h2m-2,3h2M255.5,179v2m3,-2v2M276,317.5h2m-2,3h2M275.5,318v2m3,-2v2M267,208.5h2m-2,3h2M266.5,209v2m3,-2v2M186,215.5h2m-2,3h2M185.5,216v2m3,-2v2M262,271.5h2m-2,3h2M261.5,272v2m3,-2v2M274,215.5h2m-2,3h2M273.5,216v2m3,-2v2M218,109.5h2m-2,3h2M217.5,110v2m3,-2v2M277,190.5h2m-2,3h2M276.5,191v2m3,-2v2M275,199.5h2m-2,3h2M274.5,200v2m3,-2v2M282,216.5h2m-2,3h2M281.5,217v2m3,-2v2M233,180.5h2m-2,3h2M232.5,181v2m3,-2v2M225,155.5h2m-2,3h2M224.5,156v2m3,-2v2" stroke="#b0ff4e" stroke-width="1" fill="none" shape-rendering="crispEdges"/><path d="M382,369.5h2m-2,3h2M381.5,370v2m3,-2v2M329,390.5h2m-2,3h2M328.5,391v2m3,-2v2M292,377.5h2m-2,3h2M291.5,378v2m3,-2v2M308,377.5h2m-2,3h2M307.5,378v2m3,-2v2M258,467.5h2m-2,3h2M257.5,468v2m3,-2v2M342,360.5h2m-2,3h2M341.5,361v2m3,-2v2M340,339.5h2m-2,3h2M339.5,340v2m3,-2v2M286,328.5h2m-2,3h2M285.5,329v2m3,-2v2M305,401.5h2m-2,3h2M304.5,402v2m3,-2v2M232,354.5h2m-2,3h2M231.5,355v2m3,-2v2M274,281.5h2m-2,3h2M273.5,282v2m3,-2v2M338,314.5h2m-2,3h2M337.5,315v2m3,-2v2M321,409.5h2m-2,3h2M320.5,410v2m3,-2v2M303,288.5h2m-2,3h2M302.5,289v2m3,-2v2M322,358.5h2m-2,3h2M321.5,359v2m3,-2v2M310,405.5h2m-2,3h2M309.5,406v2m3,-2v2M284,435.5h2m-2,3h2M283.5,436v2m3,-2v2M312,338.5h2m-2,3h2M311.5,339v2m3,-2v2M380,340.5h2m-2,3h2M379.5,341v2m3,-2v2M339,312.5h2m-2,3h2M338.5,313v2m3,-2v2M402,444.5h2m-2,3h2M401.5,445v2m3,-2v2M269,360.5h2m-2,3h2M268.5,361v2m3,-2v2M352,226.5h2m-2,3h2M351.5,227v2m3,-2v2" stroke="#7fff7f" stroke-width="1" fill="none" shape-rendering="crispEdges"/><path d="M281,336.5h5M283.5,334v5M320,304.5h5M322.5,302v5M307,370.5h5M309.5,368v5" stroke="#8fff6f" stroke-width="1" fill="none" shape-rendering="crispEdges"/><path d="M338,276.5h5M340.5,274v5M371,271.5h5M373.5,269v5M289,223.5h5M291.5,221v5" stroke="#1cffe2" stroke-width="1" fill="none" shape-rendering="crispEdges"/><path d="M402,317.5h2m-2,3h2M401.5,318v2m3,-2v2M348,450.5h2m-2,3h2M347.5,451v2m3,-2v2M256,403.5h2m-2,3h2M255.5,404v2m3,-2v2" stroke="#6fff8f" stroke-width="1" fill="none" shape-rendering="crispEdges"/><path d="M282,261.5h2m-2,3h2M281.5,262v2m3,-2v2" stroke="#d1ff2d" stroke-width="1" fill="none" shape-rendering="crispEdges"/><path d="M400,262.5h5M402.5,260v5M347,253.5h5M349.5,251v5M428,200.5h5M430.5,198v5M392,257.5h5M394.5,255v5M307,249.5h5M309.5,247v5M314,263.5h5M316.5,261v5M394,247.5h5M396.5,245v5M293,266.5h5M295.5,264v5M410,255.5h5M412.5,253v5M438,293.5h5M440.5,291v5M357,261.5h5M359.5,259v5M416,261.5h5M418.5,259v5M400,254.5h5M402.5,252v5M311,274.5h5M313.5,272v5M407,255.5h5M409.5,253v5M374,442.5h5M376.5,440v5M341,278.5h5M343.5,276v5M367,269.5h5M369.5,267v5M379,280.5h5M381.5,278v5M385,227.5h5M387.5,225v5M359,259.5h5M361.5,257v5M245,200.5h5M247.5,198v5M368,227.5h5M370.5,225v5M427,226.5h5M429.5,224v5M324,263.5h5M326.5,261v5M444,281.5h5M446.5,279v5M326,276.5h5M328.5,274v5M361,257.5h5M363.5,255v5M382,249.5h5M384.5,247v5M406,253.5h5M408.5,251v5M384,278.5h5M386.5,276v5M321,248.5h5M323.5,246v5M343,270.5h5M345.5,268v5M418,290.5h5M420.5,288v5M195,201.5h5M197.5,199v5M297,288.5h5M299.5,286v5M354,257.5h5M356.5,255v5M400,256.5h5M402.5,254v5M371,264.5h5M373.5,262v5M396,209.5h5M398.5,207v5M226,199.5h5M228.5,197v5M400,273.5h5M402.5,271v5M333,255.5h5M335.5,253v5M238,385.5h5M240.5,383v5M338,266.5h5M340.5,264v5M305,272.5h5M307.5,270v5M345,250.5h5M347.5,248v5M391,237.5h5M393.5,235v5M353,233.5h5M355.5,231v5M337,237.5h5M339.5,235v5M325,249.5h5M327.5,247v5M434,243.5h5M436.5,241v5M323,240.5h5M325.5,238v5M326,237.5h5M328.5,235v5M389,279.5h5M391.5,277v5M325,239.5h5M327.5,237v5M392,263.5h5M394.5,261v5M419,287.5h5M421.5,285v5M374,247.5h5M376.5,245v5M355,232.5h5M357.5,230v5M275,235.5h5M277.5,233v5M329,253.5h5M331.5,251v5M295,441.5h5M297.5,439v5M370,295.5h5M372.5,293v5M424,288.5h5M426.5,286v5M373,234.5h5M375.5,232v5M293,371.5h5M295.5,369v5M304,244.5h5M306.5,242v5M429,239.5h5M431.5,237v5M338,270.5h5M340.5,268v5M326,249.5h5M328.5,247v5M388,282.5h5M390.5,280v5M307,231.5h5M309.5,229v5M418,230.5h5M420.5,228v5M346,293.5h5M348.5,291v5M388,231.5h5M390.5,229v5M416,277.5h5M418.5,275v5M394,240.5h5M396.5,238v5" stroke="#3dffc1" stroke-width="1" fill="none" shape-rendering="crispEdges"/><path d="M218,188.5h2m-2,3h2M217.5,189v2m3,-2v2M259,227.5h2m-2,3h2M258.5,228v2m3,-2v2M275,197.5h2m-2,3h2M274.5,198v2m3,-2v2M248,192.5h2m-2,3h2M247.5,193v2m3,-2v2M279,244.5h2m-2,3h2M278.5,245v2m3,-2v2M282,220.5h2m-2,3h2M281.5,221v2m3,-2v2M237,250.5h2m-2,3h2M236.5,251v2m3,-2v2M232,174.5h2m-2,3h2M231.5,175v2m3,-2v2M214,243.5h2m-2,3h2M213.5,244v2m3,-2v2M253,204.5h2m-2,3h2M252.5,205v2m3,-2v2M299,226.5h2m-2,3h2M298.5,227v2m3,-2v2M201,251.5h2m-2,3h2M200.5,252v2m3,-2v2M275,232.5h2m-2,3h2M274.5,233v2m3,-2v2M241,173.5h2m-2,3h2M240.5,174v2m3,-2v2M274,208.5h2m-2,3h2M273.5,209v2m3,-2v2M328,261.5h2m-2,3h2M327.5,262v2m3,-2v2M180,151.5h2m-2,3h2M179.5,152v2m3,-2v2M344,277.5h2m-2,3h2M343.5,278v2m3,-2v2M242,268.5h2m-2,3h2M241.5,269v2m3,-2v2M224,215.5h2m-2,3h2M223.5,216v2m3,-2v2M360,430.5h2m-2,3h2M359.5,431v2m3,-2v2M295,208.5h2m-2,3h2M294.5,209v2m3,-2v2M274,188.5h2m-2,3h2M273.5,189v2m3,-2v2M202,202.5h2m-2,3h2M201.5,203v2m3,-2v2M185,247.5h2m-2,3h2M184.5,248v2m3,-2v2M239,210.5h2m-2,3h2M238.5,211v2m3,-2v2M211,197.5h2m-2,3h2M210.5,198v2m3,-2v2M218,209.5h2m-2,3h2M217.5,210v2m3,-2v2M214,211.5h2m-2,3h2M213.5,212v2m3,-2v2M317,195.5h2m-2,3h2M316.5,196v2m3,-2v2M225,186.5h2m-2,3h2M224.5,187v2m3,-2v2M114,349.5h2m-2,3h2M113.5,350v2m3,-2v2M207,220.5h2m-2,3h2M206.5,221v2m3,-2v2M252,265.5h2m-2,3h2M251.5,266v2m3,-2v2M253,206.5h2m-2,3h2M252.5,207v2m3,-2v2M263,231.5h2m-2,3h2M262.5,232v2m3,-2v2M285,235.5h2m-2,3h2M284.5,236v2m3,-2v2M367,275.5h2m-2,3h2M366.5,276v2m3,-2v2M192,245.5h2m-2,3h2M191.5,246v2m3,-2v2M248,202.5h2m-2,3h2M247.5,203v2m3,-2v2M246,196.5h2m-2,3h2M245.5,197v2m3,-2v2M270,193.5h2m-2,3h2M269.5,194v2m3,-2v2M398,482.5h2m-2,3h2M397.5,483v2m3,-2v2M334,245.5h2m-2,3h2M333.5,246v2m3,-2v2M260,197.5h2m-2,3h2M259.5,198v2m3,-2v2M336,394.5h2m-2,3h2M335.5,395v2m3,-2v2M209,346.5h2m-2,3h2M208.5,347v2m3,-2v2M273,251.5h2m-2,3h2M272.5,252v2m3,-2v2M273,193.5h2m-2,3h2M272.5,194v2m3,-2v2M234,164.5h2m-2,3h2M233.5,165v2m3,-2v2M222,204.5h2m-2,3h2M221.5,205v2m3,-2v2M242,202.5h2m-2,3h2M241.5,203v2m3,-2v2M257,199.5h2m-2,3h2M256.5,200v2m3,-2v2M239,152.5h2m-2,3h2M238.5,153v2m3,-2v2M261,248.5h2m-2,3h2M260.5,249v2m3,-2v2M258,209.5h2m-2,3h2M257.5,210v2m3,-2v2M343,394.5h2m-2,3h2M342.5,395v2m3,-2v2M270,239.5h2m-2,3h2M269.5,240v2m3,-2v2M305,160.5h2m-2,3h2M304.5,161v2m3,-2v2M266,258.5h2m-2,3h2M265.5,259v2m3,-2v2M332,400.5h2m-2,3h2M331.5,401v2m3,-2v2M216,202.5h2m-2,3h2M215.5,203v2m3,-2v2M253,203.5h2m-2,3h2M252.5,204v2m3,-2v2M246,260.5h2m-2,3h2M245.5,261v2m3,-2v2M249,351.5h2m-2,3h2M248.5,352v2m3,-2v2M279,225.5h2m-2,3h2M278.5,226v2m3,-2v2M230,249.5h2m-2,3h2M229.5,250v2m3,-2v2M244,216.5h2m-2,3h2M243.5,217v2m3,-2v2M257,235.5h2m-2,3h2M256.5,236v2m3,-2v2M279,222.5h2m-2,3h2M278.5,223v2m3,-2v2M201,180.5h2m-2,3h2M200.5,181v2m3,-2v2M208,197.5h2m-2,3h2M207.5,198v2m3,-2v2M215,314.5h2m-2,3h2M214.5,315v2m3,-2v2M390,462.5h2m-2,3h2M389.5,463v2m3,-2v2M243,241.5h2m-2,3h2M242.5,242v2m3,-2v2M244,233.5h2m-2,3h2M243.5,234v2m3,-2v2M206,204.5h2m-2,3h2M205.5,205v2m3,-2v2M243,248.5h2m-2,3h2M242.5,249v2m3,-2v2M170,242.5h2m-2,3h2M169.5,243v2m3,-2v2M246,184.5h2m-2,3h2M245.5,185v2m3,-2v2M266,212.5h2m-2,3h2M265.5,213v2m3,-2v2M262,368.5h2m-2,3h2M261.5,369v2m3,-2v2M259,202.5h2m-2,3h2M258.5,203v2m3,-2v2M264,219.5h2m-2,3h2M263.5,220v2m3,-2v2M267,270.5h2m-2,3h2M266.5,271v2m3,-2v2M226,182.5h2m-2,3h2M225.5,183v2m3,-2v2M241,193.5h2m-2,3h2M240.5,194v2m3,-2v2M277,207.5h2m-2,3h2M276.5,208v2m3,-2v2M259,220.5h2m-2,3h2M258.5,221v2m3,-2v2M243,230.5h2m-2,3h2M242.5,231v2m3,-2v2M265,202.5h2m-2,3h2M264.5,203v2m3,-2v2M242,218.5h2m-2,3h2M241.5,219v2m3,-2v2M320,251.5h2m-2,3h2M319.5,252v2m3,-2v2M224,227.5h2m-2,3h2M223.5,228v2m3,-2v2M235,199.5h2m-2,3h2M234.5,200v2m3,-2v2M271,211.5h2m-2,3h2M270.5,212v2m3,-2v2M210,177.5h2m-2,3h2M209.5,178v2m3,-2v2M270,249.5h2m-2,3h2M269.5,250v2m3,-2v2M239,160.5h2m-2,3h2M238.5,161v2m3,-2v2M320,307.5h2m-2,3h2M319.5,308v2m3,-2v2M272,206.5h2m-2,3h2M271.5,207v2m3,-2v2M271,192.5h2m-2,3h2M270.5,193v2m3,-2v2M246,225.5h2m-2,3h2M245.5,226v2m3,-2v2M237,164.5h2m-2,3h2M236.5,165v2m3,-2v2M294,251.5h2m-2,3h2M293.5,252v2m3,-2v2M304,272.5h2m-2,3h2M303.5,273v2m3,-2v2M185,164.5h2m-2,3h2M184.5,165v2m3,-2v2M261,255.5h2m-2,3h2M260.5,256v2m3,-2v2M157,150.5h2m-2,3h2M156.5,151v2m3,-2v2M236,211.5h2m-2,3h2M235.5,212v2m3,-2v2M183,190.5h2m-2,3h2M182.5,191v2m3,-2v2M220,184.5h2m-2,3h2M219.5,185v2m3,-2v2M218,211.5h2m-2,3h2M217.5,212v2m3,-2v2M244,211.5h2m-2,3h2M243.5,212v2m3,-2v2M249,252.5h2m-2,3h2M248.5,253v2m3,-2v2M226,232.5h2m-2,3h2M225.5,233v2m3,-2v2M240,179.5h2m-2,3h2M239.5,180v2m3,-2v2M270,247.5h2m-2,3h2M269.5,248v2m3,-2v2M261,273.5h2m-2,3h2M260.5,274v2m3,-2v2M283,219.5h2m-2,3h2M282.5,220v2m3,-2v2M268,261.5h2m-2,3h2M267.5,262v2m3,-2v2M315,227.5h2m-2,3h2M314.5,228v2m3,-2v2M176,187.5h2m-2,3h2M175.5,188v2m3,-2v2M265,283.5h2m-2,3h2M264.5,284v2m3,-2v2M296,385.5h2m-2,3h2M295.5,386v2m3,-2v2M265,179.5h2m-2,3h2M264.5,180v2m3,-2v2M222,281.5h2m-2,3h2M221.5,282v2m3,-2v2M236,174.5h2m-2,3h2M235.5,175v2m3,-2v2M250,222.5h2m-2,3h2M249.5,223v2m3,-2v2M242,274.5h2m-2,3h2M241.5,275v2m3,-2v2M240,220.5h2m-2,3h2M239.5,221v2m3,-2v2M202,180.5h2m-2,3h2M201.5,181v2m3,-2v2M241,218.5h2m-2,3h2M240.5,219v2m3,-2v2M242,240.5h2m-2,3h2M241.5,241v2m3,-2v2M332,247.5h2m-2,3h2M331.5,248v2m3,-2v2M240,148.5h2m-2,3h2M239.5,149v2m3,-2v2M250,199.5h2m-2,3h2M249.5,200v2m3,-2v2M165,307.5h2m-2,3h2M164.5,308v2m3,-2v2M260,236.5h2m-2,3h2M259.5,237v2m3,-2v2M209,115.5h2m-2,3h2M208.5,116v2m3,-2v2M263,207.5h2m-2,3h2M262.5,208v2m3,-2v2M259,233.5h2m-2,3h2M258.5,234v2m3,-2v2M261,226.5h2m-2,3h2M260.5,227v2m3,-2v2M229,197.5h2m-2,3h2M228.5,198v2m3,-2v2M234,190.5h2m-2,3h2M233.5,191v2m3,-2v2M316,324.5h2m-2,3h2M315.5,325v2m3,-2v2M186,191.5h2m-2,3h2M185.5,192v2m3,-2v2M283,258.5h2m-2,3h2M282.5,259v2m3,-2v2M202,182.5h2m-2,3h2M201.5,183v2m3,-2v2M229,193.5h2m-2,3h2M228.5,194v2m3,-2v2M310,324.5h2m-2,3h2M309.5,325v2m3,-2v2M392,268.5h2m-2,3h2M391.5,269v2m3,-2v2M257,297.5h2m-2,3h2M256.5,298v2m3,-2v2M293,231.5h2m-2,3h2M292.5,232v2m3,-2v2M233,209.5h2m-2,3h2M232.5,210v2m3,-2v2M328,288.5h2m-2,3h2M327.5,289v2m3,-2v2M266,222.5h2m-2,3h2M265.5,223v2m3,-2v2M268,237.5h2m-2,3h2M267.5,238v2m3,-2v2M234,237.5h2m-2,3h2M233.5,238v2m3,-2v2M283,243.5h2m-2,3h2M282.5,244v2m3,-2v2" stroke="#a0ff5e" stroke-width="1" fill="none" shape-rendering="crispEdges"/><path d="M408,262.5h5M410.5,260v5M300,215.5h5M302.5,213v5M323,298.5h5M325.5,296v5M277,464.5h5M279.5,462v5M270,283.5h5M272.5,281v5M266,325.5h5M268.5,323v5M253,352.5h5M255.5,350v5M445,386.5h5M447.5,384v5M157,317.5h5M159.5,315v5M264,312.5h5M266.5,310v5M361,334.5h5M363.5,332v5M329,253.5h5M331.5,251v5M270,251.5h5M272.5,249v5M217,266.5h5M219.5,264v5M307,261.5h5M309.5,259v5M296,321.5h5M298.5,319v5M298,296.5h5M300.5,294v5M337,322.5h5M339.5,320v5M337,402.5h5M339.5,400v5M344,311.5h5M346.5,309v5M245,304.5h5M247.5,302v5M321,219.5h5M323.5,217v5M384,444.5h5M386.5,442v5M434,140.5h5M436.5,138v5M363,243.5h5M365.5,241v5" stroke="#7fff7f" stroke-width="1" fill="none" shape-rendering="crispEdges"/><path d="M350,319.5h2m-2,3h2M349.5,320v2m3,-2v2M321,270.5h2m-2,3h2M320.5,271v2m3,-2v2M315,425.5h2m-2,3h2M314.5,426v2m3,-2v2M237,196.5h2m-2,3h2M236.5,197v2m3,-2v2M269,289.5h2m-2,3h2M268.5,290v2m3,-2v2M229,223.5h2m-2,3h2M228.5,224v2m3,-2v2M367,267.5h2m-2,3h2M366.5,268v2m3,-2v2M342,350.5h2m-2,3h2M341.5,351v2m3,-2v2M334,301.5h2m-2,3h2M333.5,302v2m3,-2v2M250,233.5h2m-2,3h2M249.5,234v2m3,-2v2M208,211.5h2m-2,3h2M207.5,212v2m3,-2v2M290,225.5h2m-2,3h2M289.5,226v2m3,-2v2M313,254.5h2m-2,3h2M312.5,255v2m3,-2v2M340,441.5h2m-2,3h2M339.5,442v2m3,-2v2M247,179.5h2m-2,3h2M246.5,180v2m3,-2v2M406,513.5h2m-2,3h2M405.5,514v2m3,-2v2M320,421.5h2m-2,3h2M319.5,422v2m3,-2v2M331,316.5h2m-2,3h2M330.5,317v2m3,-2v2M225,197.5h2m-2,3h2M224.5,198v2m3,-2v2M223,279.5h2m-2,3h2M222.5,280v2m3,-2v2M301,316.5h2m-2,3h2M300.5,317v2m3,-2v2M375,388.5h2m-2,3h2M374.5,389v2m3,-2v2M319,325.5h2m-2,3h2M318.5,326v2m3,-2v2M184,167.5h2m-2,3h2M183.5,168v2m3,-2v2M375,306.5h2m-2,3h2M374.5,307v2m3,-2v2M191,272.5h2m-2,3h2M190.5,273v2m3,-2v2M393,384.5h2m-2,3h2M392.5,385v2m3,-2v2M229,169.5h2m-2,3h2M228.5,170v2m3,-2v2M325,413.5h2m-2,3h2M324.5,414v2m3,-2v2M446,230.5h2m-2,3h2M445.5,231v2m3,-2v2M295,301.5h2m-2,3h2M294.5,302v2m3,-2v2M380,502.5h2m-2,3h2M379.5,503v2m3,-2v2M516,301.5h2m-2,3h2M515.5,302v2m3,-2v2M274,246.5h2m-2,3h2M273.5,247v2m3,-2v2M298,314.5h2m-2,3h2M297.5,315v2m3,-2v2M289,380.5h2m-2,3h2M288.5,381v2m3,-2v2M288,248.5h2m-2,3h2M287.5,249v2m3,-2v2M215,250.5h2m-2,3h2M214.5,251v2m3,-2v2M321,249.5h2m-2,3h2M320.5,250v2m3,-2v2M162,159.5h2m-2,3h2M161.5,160v2m3,-2v2M306,334.5h2m-2,3h2M305.5,335v2m3,-2v2M302,423.5h2m-2,3h2M301.5,424v2m3,-2v2M329,393.5h2m-2,3h2M328.5,394v2m3,-2v2M285,439.5h2m-2,3h2M284.5,440v2m3,-2v2M345,318.5h2m-2,3h2M344.5,319v2m3,-2v2M241,256.5h2m-2,3h2M240.5,257v2m3,-2v2M248,198.5h2m-2,3h2M247.5,199v2m3,-2v2M337,357.5h2m-2,3h2M336.5,358v2m3,-2v2M317,244.5h2m-2,3h2M316.5,245v2m3,-2v2M229,178.5h2m-2,3h2M228.5,179v2m3,-2v2M237,197.5h2m-2,3h2M236.5,198v2m3,-2v2M308,427.5h2m-2,3h2M307.5,428v2m3,-2v2M234,225.5h2m-2,3h2M233.5,226v2m3,-2v2M262,301.5h2m-2,3h2M261.5,302v2m3,-2v2M231,228.5h2m-2,3h2M230.5,229v2m3,-2v2M292,228.5h2m-2,3h2M291.5,229v2m3,-2v2M315,356.5h2m-2,3h2M314.5,357v2m3,-2v2M315,370.5h2m-2,3h2M314.5,371v2m3,-2v2M351,355.5h2m-2,3h2M350.5,356v2m3,-2v2M339,422.5h2m-2,3h2M338.5,423v2m3,-2v2M248,221.5h2m-2,3h2M247.5,222v2m3,-2v2M254,251.5h2m-2,3h2M253.5,252v2m3,-2v2M257,244.5h2m-2,3h2M256.5,245v2m3,-2v2M284,320.5h2m-2,3h2M283.5,321v2m3,-2v2M281,372.5h2m-2,3h2M280.5,373v2m3,-2v2M208,179.5h2m-2,3h2M207.5,180v2m3,-2v2M321,449.5h2m-2,3h2M320.5,450v2m3,-2v2M331,386.5h2m-2,3h2M330.5,387v2m3,-2v2M298,204.5h2m-2,3h2M297.5,205v2m3,-2v2M319,264.5h2m-2,3h2M318.5,265v2m3,-2v2M309,373.5h2m-2,3h2M308.5,374v2m3,-2v2M188,178.5h2m-2,3h2M187.5,179v2m3,-2v2M254,185.5h2m-2,3h2M253.5,186v2m3,-2v2M398,154.5h2m-2,3h2M397.5,155v2m3,-2v2M336,316.5h2m-2,3h2M335.5,317v2m3,-2v2M313,315.5h2m-2,3h2M312.5,316v2m3,-2v2M200,187.5h2m-2,3h2M199.5,188v2m3,-2v2M344,339.5h2m-2,3h2M343.5,340v2m3,-2v2M268,386.5h2m-2,3h2M267.5,387v2m3,-2v2M248,220.5h2m-2,3h2M247.5,221v2m3,-2v2M246,190.5h2m-2,3h2M245.5,191v2m3,-2v2M295,212.5h2m-2,3h2M294.5,213v2m3,-2v2M158,132.5h2m-2,3h2M157.5,133v2m3,-2v2M219,220.5h2m-2,3h2M218.5,221v2m3,-2v2M383,377.5h2m-2,3h2M382.5,378v2m3,-2v2M394,328.5h2m-2,3h2M393.5,329v2m3,-2v2M262,503.5h2m-2,3h2M261.5,504v2m3,-2v2M165,138.5h2m-2,3h2M164.5,139v2m3,-2v2M347,352.5h2m-2,3h2M346.5,353v2m3,-2v2M308,381.5h2m-2,3h2M307.5,382v2m3,-2v2M311,375.5h2m-2,3h2M310.5,376v2m3,-2v2M301,225.5h2m-2,3h2M300.5,226v2m3,-2v2M240,182.5h2m-2,3h2M239.5,183v2m3,-2v2M355,327.5h2m-2,3h2M354.5,328v2m3,-2v2M255,405.5h2m-2,3h2M254.5,406v2m3,-2v2M275,108.5h2m-2,3h2M274.5,109v2m3,-2v2M289,266.5h2m-2,3h2M288.5,267v2m3,-2v2M194,183.5h2m-2,3h2M193.5,184v2m3,-2v2" stroke="#8fff6f" stroke-width="1" fill="none" shape-rendering="crispEdges"/><path d="M365,278.5h5M367.5,276v5M112,288.5h5M114.5,286v5M407,266.5h5M409.5,264v5M236,232.5h5M238.5,230v5M318,270.5h5M320.5,268v5M292,304.5h5M294.5,302v5M356,335.5h5M358.5,333v5M328,415.5h5M330.5,413v5M248,292.5h5M250.5,290v5M305,324.5h5M307.5,322v5M234,332.5h5M236.5,330v5M381,243.5h5M383.5,241v5M290,232.5h5M292.5,230v5M380,269.5h5M382.5,267v5M258,319.5h5M260.5,317v5M389,439.5h5M391.5,437v5M402,274.5h5M404.5,272v5M220,188.5h5M222.5,186v5M221,282.5h5M223.5,280v5M341,278.5h5M343.5,276v5M265,363.5h5M267.5,361v5M288,395.5h5M290.5,393v5M321,231.5h5M323.5,229v5M419,252.5h5M421.5,250v5M466,270.5h5M468.5,268v5M244,274.5h5M246.5,272v5M330,211.5h5M332.5,209v5M254,312.5h5M256.5,310v5M424,252.5h5M426.5,250v5M296,279.5h5M298.5,277v5M373,289.5h5M375.5,287v5M380,257.5h5M382.5,255v5M280,314.5h5M282.5,312v5M318,190.5h5M320.5,188v5M305,231.5h5M307.5,229v5M296,250.5h5M298.5,248v5M316,293.5h5M318.5,291v5M416,245.5h5M418.5,243v5M222,311.5h5M224.5,309v5M421,297.5h5M423.5,295v5M278,355.5h5M280.5,353v5M325,298.5h5M327.5,296v5M124,333.5h5M126.5,331v5M300,344.5h5M302.5,342v5M387,222.5h5M389.5,220v5M269,267.5h5M271.5,265v5M396,221.5h5M398.5,219v5M140,335.5h5M142.5,333v5M441,234.5h5M443.5,232v5M444,242.5h5M446.5,240v5M285,244.5h5M287.5,242v5M409,269.5h5M411.5,267v5M246,318.5h5M248.5,316v5M340,338.5h5M342.5,336v5M467,192.5h5M469.5,190v5M341,300.5h5M343.5,298v5M328,257.5h5M330.5,255v5M302,420.5h5M304.5,418v5M367,249.5h5M369.5,247v5M345,261.5h5M347.5,259v5M276,284.5h5M278.5,282v5M346,488.5h5M348.5,486v5M365,192.5h5M367.5,190v5M387,270.5h5M389.5,268v5M310,257.5h5M312.5,255v5M328,249.5h5M330.5,247v5M288,230.5h5M290.5,228v5M396,296.5h5M398.5,294v5M211,402.5h5M213.5,400v5M345,255.5h5M347.5,253v5M332,375.5h5M334.5,373v5M264,338.5h5M266.5,336v5M344,258.5h5M346.5,256v5M314,392.5h5M316.5,390v5M318,394.5h5M320.5,392v5M176,374.5h5M178.5,372v5M388,183.5h5M390.5,181v5M309,282.5h5M311.5,280v5M199,328.5h5M201.5,326v5M440,239.5h5M442.5,237v5M312,148.5h5M314.5,146v5M232,298.5h5M234.5,296v5M96,208.5h5M98.5,206v5M363,349.5h5M365.5,347v5M233,255.5h5M235.5,253v5M242,297.5h5M244.5,295v5M445,229.5h5M447.5,227v5M320,256.5h5M322.5,254v5M368,441.5h5M370.5,439v5M321,353.5h5M323.5,351v5M326,231.5h5M328.5,229v5M405,264.5h5M407.5,262v5M289,366.5h5M291.5,364v5M481,295.5h5M483.5,293v5M292,239.5h5M294.5,237v5M335,252.5h5M337.5,250v5M350,288.5h5M352.5,286v5M307,333.5h5M309.5,331v5M304,188.5h5M306.5,186v5M286,330.5h5M288.5,328v5M284,324.5h5M286.5,322v5M443,228.5h5M445.5,226v5M178,419.5h5M180.5,417v5M301,230.5h5M303.5,228v5M300,238.5h5M302.5,236v5M217,180.5h5M219.5,178v5M382,473.5h5M384.5,471v5M413,261.5h5M415.5,259v5M448,364.5h5M450.5,362v5M321,259.5h5M323.5,257v5M397,244.5h5M399.5,242v5M328,281.5h5M330.5,279v5M366,365.5h5M368.5,363v5M234,381.5h5M236.5,379v5M292,242.5h5M294.5,240v5M470,315.5h5M472.5,313v5M311,245.5h5M313.5,243v5M317,260.5h5M319.5,258v5M309,206.5h5M311.5,204v5M226,231.5h5M228.5,229v5M314,503.5h5M316.5,501v5M294,416.5h5M296.5,414v5M374,150.5h5M376.5,148v5M465,234.5h5M467.5,232v5M393,235.5h5M395.5,233v5M299,445.5h5M301.5,443v5M334,262.5h5M336.5,260v5M332,337.5h5M334.5,335v5M304,427.5h5M306.5,425v5M405,235.5h5M407.5,233v5M339,293.5h5M341.5,291v5M375,217.5h5M377.5,215v5M382,270.5h5M384.5,268v5M216,292.5h5M218.5,290v5M404,263.5h5M406.5,261v5M389,277.5h5M391.5,275v5M321,246.5h5M323.5,244v5M318,468.5h5M320.5,466v5M518,271.5h5M520.5,269v5M488,268.5h5M490.5,266v5M297,238.5h5M299.5,236v5M253,304.5h5M255.5,302v5M186,328.5h5M188.5,326v5M217,415.5h5M219.5,413v5M351,285.5h5M353.5,283v5M344,202.5h5M346.5,200v5M181,339.5h5M183.5,337v5M335,320.5h5M337.5,318v5M311,273.5h5M313.5,271v5M335,273.5h5M337.5,271v5M234,281.5h5M236.5,279v5M327,233.5h5M329.5,231v5M348,317.5h5M350.5,315v5M400,243.5h5M402.5,241v5M480,186.5h5M482.5,184v5M292,294.5h5M294.5,292v5M505,241.5h5M507.5,239v5M390,263.5h5M392.5,261v5M406,237.5h5M408.5,235v5M282,327.5h5M284.5,325v5M336,375.5h5M338.5,373v5M337,216.5h5M339.5,214v5M206,193.5h5M208.5,191v5M241,307.5h5M243.5,305v5M203,379.5h5M205.5,377v5M279,292.5h5M281.5,290v5M188,110.5h5M190.5,108v5M287,242.5h5M289.5,240v5M261,313.5h5M263.5,311v5M194,289.5h5M196.5,287v5M333,415.5h5M335.5,413v5M284,259.5h5M286.5,257v5M396,273.5h5M398.5,271v5M326,302.5h5M328.5,300v5M406,260.5h5M408.5,258v5M329,280.5h5M331.5,278v5" stroke="#5effa0" stroke-width="1" fill="none" shape-rendering="crispEdges"/><path d="M259,193.5h5M261.5,191v5M355,255.5h5M357.5,253v5M392,226.5h5M394.5,224v5M404,264.5h5M406.5,262v5M234,225.5h5M236.5,223v5M312,289.5h5M314.5,287v5M288,310.5h5M290.5,308v5M393,270.5h5M395.5,268v5M326,249.5h5M328.5,247v5M338,271.5h5M340.5,269v5M390,274.5h5M392.5,272v5M365,237.5h5M367.5,235v5M389,263.5h5M391.5,261v5M315,249.5h5M317.5,247v5M399,259.5h5M401.5,257v5M317,275.5h5M319.5,273v5M338,267.5h5M340.5,265v5M402,359.5h5M404.5,357v5M374,240.5h5M376.5,238v5M345,258.5h5M347.5,256v5M338,309.5h5M340.5,307v5M319,247.5h5M321.5,245v5M350,273.5h5M352.5,271v5M265,232.5h5M267.5,230v5M371,230.5h5M373.5,228v5M377,278.5h5M379.5,276v5M344,246.5h5M346.5,244v5M323,259.5h5M325.5,257v5M408,260.5h5M410.5,258v5M333,282.5h5M335.5,280v5M241,201.5h5M243.5,199v5M323,236.5h5M325.5,234v5M369,257.5h5M371.5,255v5M315,243.5h5M317.5,241v5M304,256.5h5M306.5,254v5M317,255.5h5M319.5,253v5M386,217.5h5M388.5,215v5M387,243.5h5M389.5,241v5M380,244.5h5M382.5,242v5M352,232.5h5M354.5,230v5M348,361.5h5M350.5,359v5M323,174.5h5M325.5,172v5M374,209.5h5M376.5,207v5M393,221.5h5M395.5,219v5M362,196.5h5M364.5,194v5M476,321.5h5M478.5,319v5M448,303.5h5M450.5,301v5M316,252.5h5M318.5,250v5M405,254.5h5M407.5,252v5M280,269.5h5M282.5,267v5M357,222.5h5M359.5,220v5M180,102.5h5M182.5,100v5M307,256.5h5M309.5,254v5M394,264.5h5M396.5,262v5M334,293.5h5M336.5,291v5M383,276.5h5M385.5,274v5M374,261.5h5M376.5,259v5M375,251.5h5M377.5,249v5M290,266.5h5M292.5,264v5M260,289.5h5M262.5,287v5M397,257.5h5M399.5,255v5M385,273.5h5M387.5,271v5M316,256.5h5M318.5,254v5M351,263.5h5M353.5,261v5M390,235.5h5M392.5,233v5M384,339.5h5M386.5,337v5M411,252.5h5M413.5,250v5M394,244.5h5M396.5,242v5M403,274.5h5M405.5,272v5M321,242.5h5M323.5,240v5M354,246.5h5M356.5,244v5M407,259.5h5M409.5,257v5M330,252.5h5M332.5,250v5M296,250.5h5M298.5,248v5M291,446.5h5M293.5,444v5M340,285.5h5M342.5,283v5M360,228.5h5M362.5,226v5M392,245.5h5M394.5,243v5M365,260.5h5M367.5,258v5M294,234.5h5M296.5,232v5M368,250.5h5M370.5,248v5M391,248.5h5M393.5,246v5M405,266.5h5M407.5,264v5M260,286.5h5M262.5,284v5M419,245.5h5M421.5,243v5M433,243.5h5M435.5,241v5M269,365.5h5M271.5,363v5M300,265.5h5M302.5,263v5M424,261.5h5M426.5,259v5M332,281.5h5M334.5,279v5M330,228.5h5M332.5,226v5M309,243.5h5M311.5,241v5M366,238.5h5M368.5,236v5M361,315.5h5M363.5,313v5M317,285.5h5M319.5,283v5M333,262.5h5M335.5,260v5M350,277.5h5M352.5,275v5M284,319.5h5M286.5,317v5M257,320.5h5M259.5,318v5M419,229.5h5M421.5,227v5M386,244.5h5M388.5,242v5M348,238.5h5M350.5,236v5M385,284.5h5M387.5,282v5M391,273.5h5M393.5,271v5M430,341.5h5M432.5,339v5M296,424.5h5M298.5,422v5M341,410.5h5M343.5,408v5M398,247.5h5M400.5,245v5M392,279.5h5M394.5,277v5M404,238.5h5M406.5,236v5M405,179.5h5M407.5,177v5M370,261.5h5M372.5,259v5M280,268.5h5M282.5,266v5M330,230.5h5M332.5,228v5M323,256.5h5M325.5,254v5M401,273.5h5M403.5,271v5M295,268.5h5M297.5,266v5M381,274.5h5M383.5,272v5M327,194.5h5M329.5,192v5M334,267.5h5M336.5,265v5M372,231.5h5M374.5,229v5M315,283.5h5M317.5,281v5M395,301.5h5M397.5,299v5M311,200.5h5M313.5,198v5M320,242.5h5M322.5,240v5M254,258.5h5M256.5,256v5M378,251.5h5M380.5,249v5M265,215.5h5M267.5,213v5M467,261.5h5M469.5,259v5M384,260.5h5M386.5,258v5M208,315.5h5M210.5,313v5M289,293.5h5M291.5,291v5M304,220.5h5M306.5,218v5M227,170.5h5M229.5,168v5M394,293.5h5M396.5,291v5M382,295.5h5M384.5,293v5M354,249.5h5M356.5,247v5M283,208.5h5M285.5,206v5M322,228.5h5M324.5,226v5" stroke="#4effb0" stroke-width="1" fill="none" shape-rendering="crispEdges"/><path d="M247,270.5h2m-2,3h2M246.5,271v2m3,-2v2M252,220.5h2m-2,3h2M251.5,221v2m3,-2v2M226,192.5h2m-2,3h2M225.5,193v2m3,-2v2M262,258.5h2m-2,3h2M261.5,259v2m3,-2v2M326,266.5h2m-2,3h2M325.5,267v2m3,-2v2M217,246.5h2m-2,3h2M216.5,247v2m3,-2v2M296,267.5h2m-2,3h2M295.5,268v2m3,-2v2M226,233.5h2m-2,3h2M225.5,234v2m3,-2v2M283,256.5h2m-2,3h2M282.5,257v2m3,-2v2M234,207.5h2m-2,3h2M233.5,208v2m3,-2v2M229,177.5h2m-2,3h2M228.5,178v2m3,-2v2M262,171.5h2m-2,3h2M261.5,172v2m3,-2v2M236,211.5h2m-2,3h2M235.5,212v2m3,-2v2M238,223.5h2m-2,3h2M237.5,224v2m3,-2v2M292,213.5h2m-2,3h2M291.5,214v2m3,-2v2M239,184.5h2m-2,3h2M238.5,185v2m3,-2v2M242,185.5h2m-2,3h2M241.5,186v2m3,-2v2M230,207.5h2m-2,3h2M229.5,208v2m3,-2v2M172,225.5h2m-2,3h2M171.5,226v2m3,-2v2M259,259.5h2m-2,3h2M258.5,260v2m3,-2v2M211,242.5h2m-2,3h2M210.5,243v2m3,-2v2M332,229.5h2m-2,3h2M331.5,230v2m3,-2v2M290,248.5h2m-2,3h2M289.5,249v2m3,-2v2M213,86.5h2m-2,3h2M212.5,87v2m3,-2v2M232,77.5h2m-2,3h2M231.5,78v2m3,-2v2M231,182.5h2m-2,3h2M230.5,183v2m3,-2v2M220,172.5h2m-2,3h2M219.5,173v2m3,-2v2M199,188.5h2m-2,3h2M198.5,189v2m3,-2v2M235,185.5h2m-2,3h2M234.5,186v2m3,-2v2M218,207.5h2m-2,3h2M217.5,208v2m3,-2v2M244,225.5h2m-2,3h2M243.5,226v2m3,-2v2M241,187.5h2m-2,3h2M240.5,188v2m3,-2v2M238,238.5h2m-2,3h2M237.5,239v2m3,-2v2M246,251.5h2m-2,3h2M245.5,252v2m3,-2v2M272,224.5h2m-2,3h2M271.5,225v2m3,-2v2M243,171.5h2m-2,3h2M242.5,172v2m3,-2v2M260,246.5h2m-2,3h2M259.5,247v2m3,-2v2M259,222.5h2m-2,3h2M258.5,223v2m3,-2v2M265,245.5h2m-2,3h2M264.5,246v2m3,-2v2M200,186.5h2m-2,3h2M199.5,187v2m3,-2v2M212,246.5h2m-2,3h2M211.5,247v2m3,-2v2M276,161.5h2m-2,3h2M275.5,162v2m3,-2v2M234,188.5h2m-2,3h2M233.5,189v2m3,-2v2M320,276.5h2m-2,3h2M319.5,277v2m3,-2v2M200,202.5h2m-2,3h2M199.5,203v2m3,-2v2M211,222.5h2m-2,3h2M210.5,223v2m3,-2v2M255,209.5h2m-2,3h2M254.5,210v2m3,-2v2M212,234.5h2m-2,3h2M211.5,235v2m3,-2v2M268,251.5h2m-2,3h2M267.5,252v2m3,-2v2M241,201.5h2m-2,3h2M240.5,202v2m3,-2v2M239,195.5h2m-2,3h2M238.5,196v2m3,-2v2M258,216.5h2m-2,3h2M257.5,217v2m3,-2v2M248,214.5h2m-2,3h2M247.5,215v2m3,-2v2M272,262.5h2m-2,3h2M271.5,263v2m3,-2v2M282,245.5h2m-2,3h2M281.5,246v2m3,-2v2M292,246.5h2m-2,3h2M291.5,247v2m3,-2v2M211,183.5h2m-2,3h2M210.5,184v2m3,-2v2M226,180.5h2m-2,3h2M225.5,181v2m3,-2v2M257,174.5h2m-2,3h2M256.5,175v2m3,-2v2M279,221.5h2m-2,3h2M278.5,222v2m3,-2v2M199,218.5h2m-2,3h2M198.5,219v2m3,-2v2M243,189.5h2m-2,3h2M242.5,190v2m3,-2v2M285,223.5h2m-2,3h2M284.5,224v2m3,-2v2M246,188.5h2m-2,3h2M245.5,189v2m3,-2v2M232,191.5h2m-2,3h2M231.5,192v2m3,-2v2M193,238.5h2m-2,3h2M192.5,239v2m3,-2v2M255,243.5h2m-2,3h2M254.5,244v2m3,-2v2M186,214.5h2m-2,3h2M185.5,215v2m3,-2v2M261,232.5h2m-2,3h2M260.5,233v2m3,-2v2M219,157.5h2m-2,3h2M218.5,158v2m3,-2v2M250,244.5h2m-2,3h2M249.5,245v2m3,-2v2M215,183.5h2m-2,3h2M214.5,184v2m3,-2v2M263,239.5h2m-2,3h2M262.5,240v2m3,-2v2M232,205.5h2m-2,3h2M231.5,206v2m3,-2v2M283,231.5h2m-2,3h2M282.5,232v2m3,-2v2M214,271.5h2m-2,3h2M213.5,272v2m3,-2v2M277,235.5h2m-2,3h2M276.5,236v2m3,-2v2M296,422.5h2m-2,3h2M295.5,423v2m3,-2v2M266,184.5h2m-2,3h2M265.5,185v2m3,-2v2M181,187.5h2m-2,3h2M180.5,188v2m3,-2v2M258,209.5h2m-2,3h2M257.5,210v2m3,-2v2M270,249.5h2m-2,3h2M269.5,250v2m3,-2v2M236,227.5h2m-2,3h2M235.5,228v2m3,-2v2M217,83.5h2m-2,3h2M216.5,84v2m3,-2v2M197,190.5h2m-2,3h2M196.5,191v2m3,-2v2M183,206.5h2m-2,3h2M182.5,207v2m3,-2v2M244,255.5h2m-2,3h2M243.5,256v2m3,-2v2M235,216.5h2m-2,3h2M234.5,217v2m3,-2v2M254,191.5h2m-2,3h2M253.5,192v2m3,-2v2M219,205.5h2m-2,3h2M218.5,206v2m3,-2v2M271,236.5h2m-2,3h2M270.5,237v2m3,-2v2M279,166.5h2m-2,3h2M278.5,167v2m3,-2v2M192,160.5h2m-2,3h2M191.5,161v2m3,-2v2M249,239.5h2m-2,3h2M248.5,240v2m3,-2v2M287,241.5h2m-2,3h2M286.5,242v2m3,-2v2M314,227.5h2m-2,3h2M313.5,228v2m3,-2v2M230,215.5h2m-2,3h2M229.5,216v2m3,-2v2M206,210.5h2m-2,3h2M205.5,211v2m3,-2v2M165,104.5h2m-2,3h2M164.5,105v2m3,-2v2M257,223.5h2m-2,3h2M256.5,224v2m3,-2v2M227,127.5h2m-2,3h2M226.5,128v2m3,-2v2M202,197.5h2m-2,3h2M201.5,198v2m3,-2v2M182,203.5h2m-2,3h2M181.5,204v2m3,-2v2M178,276.5h2m-2,3h2M177.5,277v2m3,-2v2M221,211.5h2m-2,3h2M220.5,212v2m3,-2v2M218,203.5h2m-2,3h2M217.5,204v2m3,-2v2M222,187.5h2m-2,3h2M221.5,188v2m3,-2v2M192,223.5h2m-2,3h2M191.5,224v2m3,-2v2M265,212.5h2m-2,3h2M264.5,213v2m3,-2v2M248,230.5h2m-2,3h2M247.5,231v2m3,-2v2M225,162.5h2m-2,3h2M224.5,163v2m3,-2v2M243,243.5h2m-2,3h2M242.5,244v2m3,-2v2M207,179.5h2m-2,3h2M206.5,180v2m3,-2v2M242,244.5h2m-2,3h2M241.5,245v2m3,-2v2M238,207.5h2m-2,3h2M237.5,208v2m3,-2v2M248,177.5h2m-2,3h2M247.5,178v2m3,-2v2M253,244.5h2m-2,3h2M252.5,245v2m3,-2v2M256,352.5h2m-2,3h2M255.5,353v2m3,-2v2M297,251.5h2m-2,3h2M296.5,252v2m3,-2v2M288,243.5h2m-2,3h2M287.5,244v2m3,-2v2" stroke="#b0ff4e" stroke-width="1" fill="none" shape-rendering="crispEdges"/><path d="M330,234.5h5M332.5,232v5M230,335.5h5M232.5,333v5M306,303.5h5M308.5,301v5M352,403.5h5M354.5,401v5M286,377.5h5M288.5,375v5M341,359.5h5M343.5,357v5M362,273.5h5M364.5,271v5M286,327.5h5M288.5,325v5M268,281.5h5M270.5,279v5M381,358.5h5M383.5,356v5M316,305.5h5M318.5,303v5M376,250.5h5M378.5,248v5M453,144.5h5M455.5,142v5M294,292.5h5M296.5,290v5M312,256.5h5M314.5,254v5M139,173.5h5M141.5,171v5M248,353.5h5M250.5,351v5M446,297.5h5M448.5,295v5M250,308.5h5M252.5,306v5M270,346.5h5M272.5,344v5M428,262.5h5M430.5,260v5M300,314.5h5M302.5,312v5M327,289.5h5M329.5,287v5M151,311.5h5M153.5,309v5M301,354.5h5M303.5,352v5M264,297.5h5M266.5,295v5M326,233.5h5M328.5,231v5M197,294.5h5M199.5,292v5M246,410.5h5M248.5,408v5M230,332.5h5M232.5,330v5M354,242.5h5M356.5,240v5M361,290.5h5M363.5,288v5M335,233.5h5M337.5,231v5M265,323.5h5M267.5,321v5M399,425.5h5M401.5,423v5M300,358.5h5M302.5,356v5M295,272.5h5M297.5,270v5M312,314.5h5M314.5,312v5M306,416.5h5M308.5,414v5M339,348.5h5M341.5,346v5M291,315.5h5M293.5,313v5M340,296.5h5M342.5,294v5M416,287.5h5M418.5,285v5M426,204.5h5M428.5,202v5M317,279.5h5M319.5,277v5M312,345.5h5M314.5,343v5M371,511.5h5M373.5,509v5M353,244.5h5M355.5,242v5M290,393.5h5M292.5,391v5M284,342.5h5M286.5,340v5M311,415.5h5M313.5,413v5M276,290.5h5M278.5,288v5M299,256.5h5M301.5,254v5M334,438.5h5M336.5,436v5M347,449.5h5M349.5,447v5M315,381.5h5M317.5,379v5M195,232.5h5M197.5,230v5M284,235.5h5M286.5,233v5M322,284.5h5M324.5,282v5M272,285.5h5M274.5,283v5M312,292.5h5M314.5,290v5M227,293.5h5M229.5,291v5M405,266.5h5M407.5,264v5M337,267.5h5M339.5,265v5M264,382.5h5M266.5,380v5M317,243.5h5M319.5,241v5M373,461.5h5M375.5,459v5M274,321.5h5M276.5,319v5M370,305.5h5M372.5,303v5M306,312.5h5M308.5,310v5M341,295.5h5M343.5,293v5M262,388.5h5M264.5,386v5M306,318.5h5M308.5,316v5M416,301.5h5M418.5,299v5M388,236.5h5M390.5,234v5M247,302.5h5M249.5,300v5M482,269.5h5M484.5,267v5M270,336.5h5M272.5,334v5M442,255.5h5M444.5,253v5M111,291.5h5M113.5,289v5M176,244.5h5M178.5,242v5M316,250.5h5M318.5,248v5M300,438.5h5M302.5,436v5M313,350.5h5M315.5,348v5M289,289.5h5M291.5,287v5M357,221.5h5M359.5,219v5M381,303.5h5M383.5,301v5M362,260.5h5M364.5,258v5M315,441.5h5M317.5,439v5M267,336.5h5M269.5,334v5M380,237.5h5M382.5,235v5M311,251.5h5M313.5,249v5M270,293.5h5M272.5,291v5M219,257.5h5M221.5,255v5M290,261.5h5M292.5,259v5M294,367.5h5M296.5,365v5M237,309.5h5M239.5,307v5M299,288.5h5M301.5,286v5M340,243.5h5M342.5,241v5M239,256.5h5M241.5,254v5M355,346.5h5M357.5,344v5M344,401.5h5M346.5,399v5M316,303.5h5M318.5,301v5M151,220.5h5M153.5,218v5M320,255.5h5M322.5,253v5M386,261.5h5M388.5,259v5M297,244.5h5M299.5,242v5" stroke="#6fff8f" stroke-width="1" fill="none" shape-rendering="crispEdges"/><path d="M326,269.5h5M328.5,267v5M386,258.5h5M388.5,256v5M351,260.5h5M353.5,258v5M390,261.5h5M392.5,259v5M301,263.5h5M303.5,261v5M413,250.5h5M415.5,248v5M336,243.5h5M338.5,241v5" stroke="#1cffe2" stroke-width="1" fill="none" shape-rendering="crispEdges"/><path d="M302,420.5h2m-2,3h2M301.5,421v2m3,-2v2M301,335.5h2m-2,3h2M300.5,336v2m3,-2v2M326,282.5h2m-2,3h2M325.5,283v2m3,-2v2M212,350.5h2m-2,3h2M211.5,351v2m3,-2v2M316,406.5h2m-2,3h2M315.5,407v2m3,-2v2M342,419.5h2m-2,3h2M341.5,420v2m3,-2v2M302,218.5h2m-2,3h2M301.5,219v2m3,-2v2M259,198.5h2m-2,3h2M258.5,199v2m3,-2v2M293,333.5h2m-2,3h2M292.5,334v2m3,-2v2M333,400.5h2m-2,3h2M332.5,401v2m3,-2v2M326,421.5h2m-2,3h2M325.5,422v2m3,-2v2M252,302.5h2m-2,3h2M251.5,303v2m3,-2v2M320,349.5h2m-2,3h2M319.5,350v2m3,-2v2M305,280.5h2m-2,3h2M304.5,281v2m3,-2v2M273,383.5h2m-2,3h2M272.5,384v2m3,-2v2M375,471.5h2m-2,3h2M374.5,472v2m3,-2v2M331,431.5h2m-2,3h2M330.5,432v2m3,-2v2M361,265.5h2m-2,3h2M360.5,266v2m3,-2v2" stroke="#7fff7f" stroke-width="1" fill="none" shape-rendering="crispEdges"/><path d="M299,254.5h5M301.5,252v5M296,257.5h5M298.5,255v5M377,277.5h5M379.5,275v5M347,268.5h5M349.5,266v5M400,264.5h5M402.5,262v5M265,198.5h5M267.5,196v5M371,273.5h5M373.5,271v5M351,260.5h5M353.5,258v5M371,280.5h5M373.5,278v5M314,267.5h5M316.5,265v5M332,245.5h5M334.5,243v5M426,259.5h5M428.5,257v5M318,240.5h5M320.5,238v5M444,254.5h5M446.5,252v5M321,272.5h5M323.5,270v5M361,266.5h5M363.5,264v5M371,258.5h5M373.5,256v5M322,273.5h5M324.5,271v5" stroke="#2dffd1" stroke-width="1" fill="none" shape-rendering="crispEdges"/><path d="M335,241.5h5M337.5,239v5M231,278.5h5M233.5,276v5M349,318.5h5M351.5,316v5" stroke="#8fff6f" stroke-width="1" fill="none" shape-rendering="crispEdges"/><path d="M247,214.5h2m-2,3h2M246.5,215v2m3,-2v2M233,220.5h2m-2,3h2M232.5,221v2m3,-2v2M227,195.5h2m-2,3h2M226.5,196v2m3,-2v2M263,187.5h2m-2,3h2M262.5,188v2m3,-2v2M254,180.5h2m-2,3h2M253.5,181v2m3,-2v2M259,194.5h2m-2,3h2M258.5,195v2m3,-2v2M464,205.5h2m-2,3h2M463.5,206v2m3,-2v2M236,195.5h2m-2,3h2M235.5,196v2m3,-2v2M228,164.5h2m-2,3h2M227.5,165v2m3,-2v2M235,209.5h2m-2,3h2M234.5,210v2m3,-2v2M261,254.5h2m-2,3h2M260.5,255v2m3,-2v2M232,215.5h2m-2,3h2M231.5,216v2m3,-2v2M248,248.5h2m-2,3h2M247.5,249v2m3,-2v2M275,250.5h2m-2,3h2M274.5,251v2m3,-2v2M259,187.5h2m-2,3h2M258.5,188v2m3,-2v2M268,240.5h2m-2,3h2M267.5,241v2m3,-2v2M209,166.5h2m-2,3h2M208.5,167v2m3,-2v2M225,190.5h2m-2,3h2M224.5,191v2m3,-2v2M200,207.5h2m-2,3h2M199.5,208v2m3,-2v2M257,235.5h2m-2,3h2M256.5,236v2m3,-2v2" stroke="#c1ff3d" stroke-width="1" fill="none" shape-rendering="crispEdges"/><path d="M387,321.5h2m-2,3h2M386.5,322v2m3,-2v2M381,286.5h2m-2,3h2M380.5,287v2m3,-2v2" stroke="#6fff8f" stroke-width="1" fill="none" shape-rendering="crispEdges"/><path d="M325,486.5h2m-2,3h2M324.5,487v2m3,-2v2M311,248.5h2m-2,3h2M310.5,249v2m3,-2v2M260,321.5h2m-2,3h2M259.5,322v2m3,-2v2M241,217.5h2m-2,3h2M240.5,218v2m3,-2v2M229,187.5h2m-2,3h2M228.5,188v2m3,-2v2M231,277.5h2m-2,3h2M230.5,278v2m3,-2v2M293,425.5h2m-2,3h2M292.5,426v2m3,-2v2M256,233.5h2m-2,3h2M255.5,234v2m3,-2v2M205,223.5h2m-2,3h2M204.5,224v2m3,-2v2M437,297.5h2m-2,3h2M436.5,298v2m3,-2v2M390,254.5h2m-2,3h2M389.5,255v2m3,-2v2M328,383.5h2m-2,3h2M327.5,384v2m3,-2v2M282,238.5h2m-2,3h2M281.5,239v2m3,-2v2M263,249.5h2m-2,3h2M262.5,250v2m3,-2v2M265,183.5h2m-2,3h2M264.5,184v2m3,-2v2M295,361.5h2m-2,3h2M294.5,362v2m3,-2v2M338,430.5h2m-2,3h2M337.5,431v2m3,-2v2M278,250.5h2m-2,3h2M277.5,251v2m3,-2v2M302,158.5h2m-2,3h2M301.5,159v2m3,-2v2M256,378.5h2m-2,3h2M255.5,379v2m3,-2v2M322,447.5h2m-2,3h2M321.5,448v2m3,-2v2M279,210.5h2m-2,3h2M278.5,211v2m3,-2v2M313,274.5h2m-2,3h2M312.5,275v2m3,-2v2M237,345.5h2m-2,3h2M236.5,346v2m3,-2v2M285,222.5h2m-2,3h2M284.5,223v2m3,-2v2M325,312.5h2m-2,3h2M324.5,313v2m3,-2v2M292,265.5h2m-2,3h2M291.5,266v2m3,-2v2M317,386.5h2m-2,3h2M316.5,387v2m3,-2v2M318,394.5h2m-2,3h2M317.5,395v2m3,-2v2M321,424.5h2m-2,3h2M320.5,425v2m3,-2v2M354,420.5h2m-2,3h2M353.5,421v2m3,-2v2M308,509.5h2m-2,3h2M307.5,510v2m3,-2v2M306,470.5h2m-2,3h2M305.5,471v2m3,-2v2M224,523.5h2m-2,3h2M223.5,524v2m3,-2v2M313,168.5h2m-2,3h2M312.5,169v2m3,-2v2M275,256.5h2m-2,3h2M274.5,257v2m3,-2v2M334,381.5h2m-2,3h2M333.5,382v2m3,-2v2M299,359.5h2m-2,3h2M298.5,360v2m3,-2v2M220,175.5h2m-2,3h2M219.5,176v2m3,-2v2M237,279.5h2m-2,3h2M236.5,280v2m3,-2v2M417,258.5h2m-2,3h2M416.5,259v2m3,-2v2M290,402.5h2m-2,3h2M289.5,403v2m3,-2v2M437,211.5h2m-2,3h2M436.5,212v2m3,-2v2M306,457.5h2m-2,3h2M305.5,458v2m3,-2v2M305,360.5h2m-2,3h2M304.5,361v2m3,-2v2M305,318.5h2m-2,3h2M304.5,319v2m3,-2v2M220,339.5h2m-2,3h2M219.5,340v2m3,-2v2M340,414.5h2m-2,3h2M339.5,415v2m3,-2v2M238,192.5h2m-2,3h2M237.5,193v2m3,-2v2M389,302.5h2m-2,3h2M388.5,303v2m3,-2v2M356,161.5h2m-2,3h2M355.5,162v2m3,-2v2M248,293.5h2m-2,3h2M247.5,294v2m3,-2v2M200,201.5h2m-2,3h2M199.5,202v2m3,-2v2M206,161.5h2m-2,3h2M205.5,162v2m3,-2v2M177,173.5h2m-2,3h2M176.5,174v2m3,-2v2M285,406.5h2m-2,3h2M284.5,407v2m3,-2v2M314,234.5h2m-2,3h2M313.5,235v2m3,-2v2M256,146.5h2m-2,3h2M255.5,147v2m3,-2v2M368,356.5h2m-2,3h2M367.5,357v2m3,-2v2M396,241.5h2m-2,3h2M395.5,242v2m3,-2v2M330,358.5h2m-2,3h2M329.5,359v2m3,-2v2M309,259.5h2m-2,3h2M308.5,260v2m3,-2v2M350,354.5h2m-2,3h2M349.5,355v2m3,-2v2M245,248.5h2m-2,3h2M244.5,249v2m3,-2v2M369,476.5h2m-2,3h2M368.5,477v2m3,-2v2M281,256.5h2m-2,3h2M280.5,257v2m3,-2v2M285,149.5h2m-2,3h2M284.5,150v2m3,-2v2M240,156.5h2m-2,3h2M239.5,157v2m3,-2v2M319,309.5h2m-2,3h2M318.5,310v2m3,-2v2M368,337.5h2m-2,3h2M367.5,338v2m3,-2v2M293,301.5h2m-2,3h2M292.5,302v2m3,-2v2M299,217.5h2m-2,3h2M298.5,218v2m3,-2v2M339,353.5h2m-2,3h2M338.5,354v2m3,-2v2M352,433.5h2m-2,3h2M351.5,434v2m3,-2v2M294,264.5h2m-2,3h2M293.5,265v2m3,-2v2M305,358.5h2m-2,3h2M304.5,359v2m3,-2v2M208,239.5h2m-2,3h2M207.5,240v2m3,-2v2M419,386.5h2m-2,3h2M418.5,387v2m3,-2v2M301,378.5h2m-2,3h2M300.5,379v2m3,-2v2M260,302.5h2m-2,3h2M259.5,303v2m3,-2v2M261,127.5h2m-2,3h2M260.5,128v2m3,-2v2M328,443.5h2m-2,3h2M327.5,444v2m3,-2v2M304,302.5h2m-2,3h2M303.5,303v2m3,-2v2M314,217.5h2m-2,3h2M313.5,218v2m3,-2v2M301,282.5h2m-2,3h2M300.5,283v2m3,-2v2M319,216.5h2m-2,3h2M318.5,217v2m3,-2v2M240,167.5h2m-2,3h2M239.5,168v2m3,-2v2M312,416.5h2m-2,3h2M311.5,417v2m3,-2v2M289,317.5h2m-2,3h2M288.5,318v2m3,-2v2M459,289.5h2m-2,3h2M458.5,290v2m3,-2v2M295,247.5h2m-2,3h2M294.5,248v2m3,-2v2M311,346.5h2m-2,3h2M310.5,347v2m3,-2v2" stroke="#8fff6f" stroke-width="1" fill="none" shape-rendering="crispEdges"/><path d="M244,215.5h2m-2,3h2M243.5,216v2m3,-2v2M279,241.5h2m-2,3h2M278.5,242v2m3,-2v2M241,229.5h2m-2,3h2M240.5,230v2m3,-2v2M213,188.5h2m-2,3h2M212.5,189v2m3,-2v2M229,188.5h2m-2,3h2M228.5,189v2m3,-2v2M226,233.5h2m-2,3h2M225.5,234v2m3,-2v2M157,172.5h2m-2,3h2M156.5,173v2m3,-2v2M313,231.5h2m-2,3h2M312.5,232v2m3,-2v2M289,236.5h2m-2,3h2M288.5,237v2m3,-2v2M313,258.5h2m-2,3h2M312.5,259v2m3,-2v2M280,216.5h2m-2,3h2M279.5,217v2m3,-2v2M221,188.5h2m-2,3h2M220.5,189v2m3,-2v2M237,208.5h2m-2,3h2M236.5,209v2m3,-2v2M255,232.5h2m-2,3h2M254.5,233v2m3,-2v2M220,168.5h2m-2,3h2M219.5,169v2m3,-2v2M246,163.5h2m-2,3h2M245.5,164v2m3,-2v2M236,198.5h2m-2,3h2M235.5,199v2m3,-2v2M272,195.5h2m-2,3h2M271.5,196v2m3,-2v2M227,168.5h2m-2,3h2M226.5,169v2m3,-2v2M276,215.5h2m-2,3h2M275.5,216v2m3,-2v2M219,204.5h2m-2,3h2M218.5,205v2m3,-2v2M254,194.5h2m-2,3h2M253.5,195v2m3,-2v2M263,179.5h2m-2,3h2M262.5,180v2m3,-2v2M240,203.5h2m-2,3h2M239.5,204v2m3,-2v2M243,241.5h2m-2,3h2M242.5,242v2m3,-2v2M239,339.5h2m-2,3h2M238.5,340v2m3,-2v2M302,215.5h2m-2,3h2M301.5,216v2m3,-2v2M261,157.5h2m-2,3h2M260.5,158v2m3,-2v2M244,241.5h2m-2,3h2M243.5,242v2m3,-2v2M279,197.5h2m-2,3h2M278.5,198v2m3,-2v2M277,203.5h2m-2,3h2M276.5,204v2m3,-2v2M208,411.5h2m-2,3h2M207.5,412v2m3,-2v2M324,239.5h2m-2,3h2M323.5,240v2m3,-2v2M240,254.5h2m-2,3h2M239.5,255v2m3,-2v2M234,195.5h2m-2,3h2M233.5,196v2m3,-2v2M210,179.5h2m-2,3h2M209.5,180v2m3,-2v2M260,184.5h2m-2,3h2M259.5,185v2m3,-2v2M258,251.5h2m-2,3h2M257.5,252v2m3,-2v2M264,223.5h2m-2,3h2M263.5,224v2m3,-2v2M258,162.5h2m-2,3h2M257.5,163v2m3,-2v2M298,229.5h2m-2,3h2M297.5,230v2m3,-2v2M216,209.5h2m-2,3h2M215.5,210v2m3,-2v2M295,220.5h2m-2,3h2M294.5,221v2m3,-2v2M265,228.5h2m-2,3h2M264.5,229v2m3,-2v2M216,212.5h2m-2,3h2M215.5,213v2m3,-2v2M241,224.5h2m-2,3h2M240.5,225v2m3,-2v2M253,235.5h2m-2,3h2M252.5,236v2m3,-2v2M274,242.5h2m-2,3h2M273.5,243v2m3,-2v2M206,194.5h2m-2,3h2M205.5,195v2m3,-2v2M226,206.5h2m-2,3h2M225.5,207v2m3,-2v2M279,235.5h2m-2,3h2M278.5,236v2m3,-2v2M236,181.5h2m-2,3h2M235.5,182v2m3,-2v2M277,261.5h2m-2,3h2M276.5,262v2m3,-2v2M253,239.5h2m-2,3h2M252.5,240v2m3,-2v2M260,155.5h2m-2,3h2M259.5,156v2m3,-2v2M267,217.5h2m-2,3h2M266.5,218v2m3,-2v2M254,200.5h2m-2,3h2M253.5,201v2m3,-2v2M275,258.5h2m-2,3h2M274.5,259v2m3,-2v2M265,199.5h2m-2,3h2M264.5,200v2m3,-2v2M218,195.5h2m-2,3h2M217.5,196v2m3,-2v2M266,224.5h2m-2,3h2M265.5,225v2m3,-2v2M191,189.5h2m-2,3h2M190.5,190v2m3,-2v2M246,108.5h2m-2,3h2M245.5,109v2m3,-2v2M298,163.5h2m-2,3h2M297.5,164v2m3,-2v2M250,215.5h2m-2,3h2M249.5,216v2m3,-2v2M211,217.5h2m-2,3h2M210.5,218v2m3,-2v2M259,215.5h2m-2,3h2M258.5,216v2m3,-2v2M232,182.5h2m-2,3h2M231.5,183v2m3,-2v2M290,266.5h2m-2,3h2M289.5,267v2m3,-2v2M269,210.5h2m-2,3h2M268.5,211v2m3,-2v2M235,181.5h2m-2,3h2M234.5,182v2m3,-2v2M251,216.5h2m-2,3h2M250.5,217v2m3,-2v2M290,216.5h2m-2,3h2M289.5,217v2m3,-2v2M219,155.5h2m-2,3h2M218.5,156v2m3,-2v2M310,209.5h2m-2,3h2M309.5,210v2m3,-2v2M283,198.5h2m-2,3h2M282.5,199v2m3,-2v2M208,147.5h2m-2,3h2M207.5,148v2m3,-2v2M246,226.5h2m-2,3h2M245.5,227v2m3,-2v2M224,239.5h2m-2,3h2M223.5,240v2m3,-2v2M262,245.5h2m-2,3h2M261.5,246v2m3,-2v2M271,216.5h2m-2,3h2M270.5,217v2m3,-2v2M262,279.5h2m-2,3h2M261.5,280v2m3,-2v2M190,268.5h2m-2,3h2M189.5,269v2m3,-2v2M207,233.5h2m-2,3h2M206.5,234v2m3,-2v2M183,188.5h2m-2,3h2M182.5,189v2m3,-2v2M215,175.5h2m-2,3h2M214.5,176v2m3,-2v2M188,121.5h2m-2,3h2M187.5,122v2m3,-2v2M232,223.5h2m-2,3h2M231.5,224v2m3,-2v2M235,239.5h2m-2,3h2M234.5,240v2m3,-2v2M231,227.5h2m-2,3h2M230.5,228v2m3,-2v2M246,194.5h2m-2,3h2M245.5,195v2m3,-2v2M235,227.5h2m-2,3h2M234.5,228v2m3,-2v2M205,188.5h2m-2,3h2M204.5,189v2m3,-2v2M292,229.5h2m-2,3h2M291.5,230v2m3,-2v2M230,231.5h2m-2,3h2M229.5,232v2m3,-2v2M283,213.5h2m-2,3h2M282.5,214v2m3,-2v2M272,218.5h2m-2,3h2M271.5,219v2m3,-2v2M283,261.5h2m-2,3h2M282.5,262v2m3,-2v2M262,210.5h2m-2,3h2M261.5,211v2m3,-2v2M262,183.5h2m-2,3h2M261.5,184v2m3,-2v2M189,311.5h2m-2,3h2M188.5,312v2m3,-2v2M240,260.5h2m-2,3h2M239.5,261v2m3,-2v2M247,211.5h2m-2,3h2M246.5,212v2m3,-2v2M229,207.5h2m-2,3h2M228.5,208v2m3,-2v2M273,269.5h2m-2,3h2M272.5,270v2m3,-2v2" stroke="#b0ff4e" stroke-width="1" fill="none" shape-rendering="crispEdges"/><path d="M308,251.5h5M310.5,249v5M448,229.5h5M450.5,227v5M330,422.5h5M332.5,420v5M364,255.5h5M366.5,253v5M363,370.5h5M365.5,368v5M327,296.5h5M329.5,294v5M347,243.5h5M349.5,241v5M412,251.5h5M414.5,249v5M341,229.5h5M343.5,227v5M420,234.5h5M422.5,232v5M410,240.5h5M412.5,238v5M313,259.5h5M315.5,257v5M287,255.5h5M289.5,253v5M327,238.5h5M329.5,236v5M372,283.5h5M374.5,281v5M355,305.5h5M357.5,303v5M316,263.5h5M318.5,261v5M362,266.5h5M364.5,264v5M426,245.5h5M428.5,243v5M373,228.5h5M375.5,226v5M401,273.5h5M403.5,271v5M214,290.5h5M216.5,288v5M225,297.5h5M227.5,295v5M416,259.5h5M418.5,257v5M364,260.5h5M366.5,258v5M330,252.5h5M332.5,250v5M366,272.5h5M368.5,270v5M291,182.5h5M293.5,180v5M329,255.5h5M331.5,253v5M295,263.5h5M297.5,261v5M211,243.5h5M213.5,241v5M372,244.5h5M374.5,242v5M290,317.5h5M292.5,315v5M367,255.5h5M369.5,253v5M284,195.5h5M286.5,193v5M311,325.5h5M313.5,323v5M350,263.5h5M352.5,261v5M392,194.5h5M394.5,192v5M335,480.5h5M337.5,478v5M384,237.5h5M386.5,235v5M484,189.5h5M486.5,187v5M403,317.5h5M405.5,315v5M267,228.5h5M269.5,226v5M419,253.5h5M421.5,251v5M384,247.5h5M386.5,245v5M397,285.5h5M399.5,283v5M371,271.5h5M373.5,269v5M344,247.5h5M346.5,245v5M353,276.5h5M355.5,274v5M401,236.5h5M403.5,234v5M357,273.5h5M359.5,271v5M368,250.5h5M370.5,248v5M353,284.5h5M355.5,282v5M344,281.5h5M346.5,279v5M290,372.5h5M292.5,370v5M315,261.5h5M317.5,259v5M342,276.5h5M344.5,274v5M258,324.5h5M260.5,322v5M288,248.5h5M290.5,246v5M240,315.5h5M242.5,313v5M347,249.5h5M349.5,247v5M377,267.5h5M379.5,265v5M294,212.5h5M296.5,210v5M392,256.5h5M394.5,254v5M373,273.5h5M375.5,271v5M324,272.5h5M326.5,270v5M312,268.5h5M314.5,266v5M302,391.5h5M304.5,389v5M406,261.5h5M408.5,259v5M228,286.5h5M230.5,284v5M338,238.5h5M340.5,236v5M366,271.5h5M368.5,269v5M323,356.5h5M325.5,354v5M385,244.5h5M387.5,242v5M309,253.5h5M311.5,251v5M315,378.5h5M317.5,376v5M283,260.5h5M285.5,258v5M487,299.5h5M489.5,297v5M413,267.5h5M415.5,265v5M383,291.5h5M385.5,289v5M307,387.5h5M309.5,385v5M346,262.5h5M348.5,260v5M219,178.5h5M221.5,176v5M345,262.5h5M347.5,260v5M193,229.5h5M195.5,227v5M359,198.5h5M361.5,196v5M323,228.5h5M325.5,226v5M340,265.5h5M342.5,263v5M409,330.5h5M411.5,328v5M314,263.5h5M316.5,261v5M399,261.5h5M401.5,259v5M343,261.5h5M345.5,259v5M332,238.5h5M334.5,236v5M316,345.5h5M318.5,343v5M249,316.5h5M251.5,314v5M304,242.5h5M306.5,240v5M383,250.5h5M385.5,248v5M348,233.5h5M350.5,231v5M262,241.5h5M264.5,239v5M278,302.5h5M280.5,300v5M428,234.5h5M430.5,232v5M387,270.5h5M389.5,268v5M384,258.5h5M386.5,256v5M364,260.5h5M366.5,258v5M337,266.5h5M339.5,264v5M314,256.5h5M316.5,254v5M435,224.5h5M437.5,222v5M284,397.5h5M286.5,395v5M461,315.5h5M463.5,313v5M372,268.5h5M374.5,266v5M397,243.5h5M399.5,241v5M382,254.5h5M384.5,252v5M292,261.5h5M294.5,259v5M306,254.5h5M308.5,252v5M374,264.5h5M376.5,262v5M296,228.5h5M298.5,226v5M468,285.5h5M470.5,283v5M264,175.5h5M266.5,173v5M351,266.5h5M353.5,264v5M459,200.5h5M461.5,198v5M389,241.5h5M391.5,239v5M416,246.5h5M418.5,244v5M421,243.5h5M423.5,241v5M378,235.5h5M380.5,233v5M335,290.5h5M337.5,288v5M285,243.5h5M287.5,241v5M389,504.5h5M391.5,502v5M358,248.5h5M360.5,246v5M217,300.5h5M219.5,298v5M365,234.5h5M367.5,232v5M384,153.5h5M386.5,151v5M325,251.5h5M327.5,249v5M316,249.5h5M318.5,247v5M407,235.5h5M409.5,233v5M371,267.5h5M373.5,265v5M322,245.5h5M324.5,243v5M418,342.5h5M420.5,340v5M413,292.5h5M415.5,290v5M270,235.5h5M272.5,233v5M505,245.5h5M507.5,243v5M335,225.5h5M337.5,223v5M232,177.5h5M234.5,175v5M374,321.5h5M376.5,319v5M497,230.5h5M499.5,228v5" stroke="#4effb0" stroke-width="1" fill="none" shape-rendering="crispEdges"/><path d="M290,272.5h5M292.5,270v5M394,210.5h5M396.5,208v5M406,275.5h5M408.5,273v5M200,332.5h5M202.5,330v5M369,496.5h5M371.5,494v5M291,271.5h5M293.5,269v5M340,249.5h5M342.5,247v5M303,226.5h5M305.5,224v5M319,389.5h5M321.5,387v5M314,251.5h5M316.5,249v5M273,454.5h5M275.5,452v5M370,277.5h5M372.5,275v5M394,493.5h5M396.5,491v5M297,343.5h5M299.5,341v5M333,288.5h5M335.5,286v5M348,292.5h5M350.5,290v5M162,407.5h5M164.5,405v5M325,365.5h5M327.5,363v5M299,306.5h5M301.5,304v5M378,251.5h5M380.5,249v5M374,403.5h5M376.5,401v5M337,272.5h5M339.5,270v5M328,303.5h5M330.5,301v5M370,256.5h5M372.5,254v5M323,294.5h5M325.5,292v5M305,267.5h5M307.5,265v5M378,269.5h5M380.5,267v5M381,277.5h5M383.5,275v5M386,256.5h5M388.5,254v5M420,258.5h5M422.5,256v5M319,248.5h5M321.5,246v5M337,222.5h5M339.5,220v5M259,318.5h5M261.5,316v5M331,275.5h5M333.5,273v5M370,241.5h5M372.5,239v5M283,318.5h5M285.5,316v5M252,208.5h5M254.5,206v5M432,380.5h5M434.5,378v5M301,436.5h5M303.5,434v5M409,320.5h5M411.5,318v5M281,340.5h5M283.5,338v5M414,252.5h5M416.5,250v5M394,384.5h5M396.5,382v5M291,265.5h5M293.5,263v5M308,220.5h5M310.5,218v5M334,239.5h5M336.5,237v5M349,336.5h5M351.5,334v5M304,277.5h5M306.5,275v5M180,159.5h5M182.5,157v5M384,237.5h5M386.5,235v5M365,344.5h5M367.5,342v5M314,229.5h5M316.5,227v5M357,307.5h5M359.5,305v5M309,237.5h5M311.5,235v5M295,256.5h5M297.5,254v5M247,303.5h5M249.5,301v5M334,395.5h5M336.5,393v5M340,256.5h5M342.5,254v5M238,317.5h5M240.5,315v5M330,266.5h5M332.5,264v5M268,188.5h5M270.5,186v5M376,274.5h5M378.5,272v5M381,269.5h5M383.5,267v5M304,280.5h5M306.5,278v5M367,254.5h5M369.5,252v5M358,256.5h5M360.5,254v5M355,285.5h5M357.5,283v5M375,267.5h5M377.5,265v5M331,397.5h5M333.5,395v5M431,272.5h5M433.5,270v5M473,277.5h5M475.5,275v5M286,249.5h5M288.5,247v5M322,378.5h5M324.5,376v5M150,403.5h5M152.5,401v5M296,220.5h5M298.5,218v5M401,266.5h5M403.5,264v5M413,281.5h5M415.5,279v5M334,182.5h5M336.5,180v5M314,370.5h5M316.5,368v5M354,240.5h5M356.5,238v5M512,200.5h5M514.5,198v5M317,450.5h5M319.5,448v5M328,217.5h5M330.5,215v5M327,284.5h5M329.5,282v5M333,271.5h5M335.5,269v5M409,241.5h5M411.5,239v5M311,226.5h5M313.5,224v5M288,345.5h5M290.5,343v5M348,326.5h5M350.5,324v5M290,379.5h5M292.5,377v5M279,253.5h5M281.5,251v5M291,440.5h5M293.5,438v5M290,277.5h5M292.5,275v5M299,305.5h5M301.5,303v5M286,235.5h5M288.5,233v5M435,207.5h5M437.5,205v5M442,242.5h5M444.5,240v5M222,241.5h5M224.5,239v5M332,323.5h5M334.5,321v5M351,274.5h5M353.5,272v5M327,286.5h5M329.5,284v5M229,301.5h5M231.5,299v5M372,318.5h5M374.5,316v5M308,366.5h5M310.5,364v5M302,287.5h5M304.5,285v5M271,282.5h5M273.5,280v5M373,359.5h5M375.5,357v5M311,250.5h5M313.5,248v5M250,281.5h5M252.5,279v5M360,338.5h5M362.5,336v5M392,236.5h5M394.5,234v5M270,377.5h5M272.5,375v5M333,276.5h5M335.5,274v5M313,419.5h5M315.5,417v5M252,251.5h5M254.5,249v5M379,249.5h5M381.5,247v5M324,325.5h5M326.5,323v5M292,249.5h5M294.5,247v5M322,306.5h5M324.5,304v5M444,273.5h5M446.5,271v5M298,404.5h5M300.5,402v5M206,328.5h5M208.5,326v5M386,273.5h5M388.5,271v5M348,255.5h5M350.5,253v5M381,261.5h5M383.5,259v5M444,274.5h5M446.5,272v5M368,256.5h5M370.5,254v5M353,416.5h5M355.5,414v5M301,270.5h5M303.5,268v5M218,440.5h5M220.5,438v5M397,261.5h5M399.5,259v5M293,363.5h5M295.5,361v5M261,212.5h5M263.5,210v5M268,343.5h5M270.5,341v5M431,196.5h5M433.5,194v5M334,257.5h5M336.5,255v5M298,257.5h5M300.5,255v5M347,271.5h5M349.5,269v5M333,260.5h5M335.5,258v5M273,314.5h5M275.5,312v5M279,437.5h5M281.5,435v5M395,242.5h5M397.5,240v5M341,396.5h5M343.5,394v5M303,437.5h5M305.5,435v5M295,238.5h5M297.5,236v5M466,373.5h5M468.5,371v5M263,310.5h5M265.5,308v5M215,282.5h5M217.5,280v5M407,257.5h5M409.5,255v5M344,270.5h5M346.5,268v5M380,351.5h5M382.5,349v5M335,499.5h5M337.5,497v5M349,360.5h5M351.5,358v5M444,343.5h5M446.5,341v5M172,358.5h5M174.5,356v5M522,315.5h5M524.5,313v5M267,301.5h5M269.5,299v5M375,235.5h5M377.5,233v5M465,266.5h5M467.5,264v5M386,292.5h5M388.5,290v5M314,404.5h5M316.5,402v5M349,288.5h5M351.5,286v5M253,341.5h5M255.5,339v5M300,448.5h5M302.5,446v5M361,253.5h5M363.5,251v5M278,300.5h5M280.5,298v5M369,221.5h5M371.5,219v5M391,267.5h5M393.5,265v5M308,342.5h5M310.5,340v5M98,206.5h5M100.5,204v5M224,403.5h5M226.5,401v5M295,369.5h5M297.5,367v5M346,311.5h5M348.5,309v5M302,398.5h5M304.5,396v5M335,209.5h5M337.5,207v5M316,240.5h5M318.5,238v5M411,246.5h5M413.5,244v5M330,240.5h5M332.5,238v5M314,318.5h5M316.5,316v5M407,483.5h5M409.5,481v5" stroke="#5effa0" stroke-width="1" fill="none" shape-rendering="crispEdges"/><path d="M240,275.5h2m-2,3h2M239.5,276v2m3,-2v2M377,449.5h2m-2,3h2M376.5,450v2m3,-2v2M240,176.5h2m-2,3h2M239.5,177v2m3,-2v2M321,259.5h2m-2,3h2M320.5,260v2m3,-2v2M258,215.5h2m-2,3h2M257.5,216v2m3,-2v2M202,119.5h2m-2,3h2M201.5,120v2m3,-2v2M230,232.5h2m-2,3h2M229.5,233v2m3,-2v2M241,158.5h2m-2,3h2M240.5,159v2m3,-2v2M205,151.5h2m-2,3h2M204.5,152v2m3,-2v2M193,184.5h2m-2,3h2M192.5,185v2m3,-2v2M213,232.5h2m-2,3h2M212.5,233v2m3,-2v2M281,215.5h2m-2,3h2M280.5,216v2m3,-2v2M215,175.5h2m-2,3h2M214.5,176v2m3,-2v2M234,203.5h2m-2,3h2M233.5,204v2m3,-2v2M269,207.5h2m-2,3h2M268.5,208v2m3,-2v2M268,249.5h2m-2,3h2M267.5,250v2m3,-2v2M271,232.5h2m-2,3h2M270.5,233v2m3,-2v2M261,180.5h2m-2,3h2M260.5,181v2m3,-2v2M265,244.5h2m-2,3h2M264.5,245v2m3,-2v2M281,251.5h2m-2,3h2M280.5,252v2m3,-2v2M221,224.5h2m-2,3h2M220.5,225v2m3,-2v2M296,137.5h2m-2,3h2M295.5,138v2m3,-2v2M212,233.5h2m-2,3h2M211.5,234v2m3,-2v2M286,172.5h2m-2,3h2M285.5,173v2m3,-2v2M229,183.5h2m-2,3h2M228.5,184v2m3,-2v2M201,252.5h2m-2,3h2M200.5,253v2m3,-2v2M323,236.5h2m-2,3h2M322.5,237v2m3,-2v2M230,177.5h2m-2,3h2M229.5,178v2m3,-2v2M256,225.5h2m-2,3h2M255.5,226v2m3,-2v2M258,206.5h2m-2,3h2M257.5,207v2m3,-2v2M211,174.5h2m-2,3h2M210.5,175v2m3,-2v2M227,227.5h2m-2,3h2M226.5,228v2m3,-2v2M247,213.5h2m-2,3h2M246.5,214v2m3,-2v2M208,204.5h2m-2,3h2M207.5,205v2m3,-2v2M199,191.5h2m-2,3h2M198.5,192v2m3,-2v2M254,176.5h2m-2,3h2M253.5,177v2m3,-2v2M226,273.5h2m-2,3h2M225.5,274v2m3,-2v2M261,211.5h2m-2,3h2M260.5,212v2m3,-2v2M197,146.5h2m-2,3h2M196.5,147v2m3,-2v2M284,254.5h2m-2,3h2M283.5,255v2m3,-2v2M260,227.5h2m-2,3h2M259.5,228v2m3,-2v2M213,223.5h2m-2,3h2M212.5,224v2m3,-2v2M256,241.5h2m-2,3h2M255.5,242v2m3,-2v2M197,218.5h2m-2,3h2M196.5,219v2m3,-2v2M247,221.5h2m-2,3h2M246.5,222v2m3,-2v2M255,218.5h2m-2,3h2M254.5,219v2m3,-2v2M259,204.5h2m-2,3h2M258.5,205v2m3,-2v2M223,208.5h2m-2,3h2M222.5,209v2m3,-2v2M283,332.5h2m-2,3h2M282.5,333v2m3,-2v2M301,376.5h2m-2,3h2M300.5,377v2m3,-2v2M317,388.5h2m-2,3h2M316.5,389v2m3,-2v2M254,198.5h2m-2,3h2M253.5,199v2m3,-2v2M275,246.5h2m-2,3h2M274.5,247v2m3,-2v2M265,213.5h2m-2,3h2M264.5,214v2m3,-2v2M236,180.5h2m-2,3h2M235.5,181v2m3,-2v2M338,393.5h2m-2,3h2M337.5,394v2m3,-2v2M226,196.5h2m-2,3h2M225.5,197v2m3,-2v2M268,189.5h2m-2,3h2M267.5,190v2m3,-2v2M240,234.5h2m-2,3h2M239.5,235v2m3,-2v2M274,243.5h2m-2,3h2M273.5,244v2m3,-2v2M212,143.5h2m-2,3h2M211.5,144v2m3,-2v2M270,203.5h2m-2,3h2M269.5,204v2m3,-2v2M216,251.5h2m-2,3h2M215.5,252v2m3,-2v2M268,253.5h2m-2,3h2M267.5,254v2m3,-2v2M273,233.5h2m-2,3h2M272.5,234v2m3,-2v2M266,222.5h2m-2,3h2M265.5,223v2m3,-2v2M345,352.5h2m-2,3h2M344.5,353v2m3,-2v2M260,205.5h2m-2,3h2M259.5,206v2m3,-2v2M198,205.5h2m-2,3h2M197.5,206v2m3,-2v2M314,356.5h2m-2,3h2M313.5,357v2m3,-2v2M234,247.5h2m-2,3h2M233.5,248v2m3,-2v2M274,246.5h2m-2,3h2M273.5,247v2m3,-2v2M191,172.5h2m-2,3h2M190.5,173v2m3,-2v2M260,238.5h2m-2,3h2M259.5,239v2m3,-2v2M253,201.5h2m-2,3h2M252.5,202v2m3,-2v2M258,209.5h2m-2,3h2M257.5,210v2m3,-2v2M301,240.5h2m-2,3h2M300.5,241v2m3,-2v2M190,111.5h2m-2,3h2M189.5,112v2m3,-2v2M194,272.5h2m-2,3h2M193.5,273v2m3,-2v2M376,422.5h2m-2,3h2M375.5,423v2m3,-2v2M306,422.5h2m-2,3h2M305.5,423v2m3,-2v2M199,167.5h2m-2,3h2M198.5,168v2m3,-2v2M255,347.5h2m-2,3h2M254.5,348v2m3,-2v2M324,463.5h2m-2,3h2M323.5,464v2m3,-2v2M224,260.5h2m-2,3h2M223.5,261v2m3,-2v2M238,238.5h2m-2,3h2M237.5,239v2m3,-2v2M288,308.5h2m-2,3h2M287.5,309v2m3,-2v2M258,220.5h2m-2,3h2M257.5,221v2m3,-2v2M227,177.5h2m-2,3h2M226.5,178v2m3,-2v2M192,180.5h2m-2,3h2M191.5,181v2m3,-2v2M267,213.5h2m-2,3h2M266.5,214v2m3,-2v2M321,361.5h2m-2,3h2M320.5,362v2m3,-2v2M285,262.5h2m-2,3h2M284.5,263v2m3,-2v2M226,178.5h2m-2,3h2M225.5,179v2m3,-2v2M248,269.5h2m-2,3h2M247.5,270v2m3,-2v2M218,416.5h2m-2,3h2M217.5,417v2m3,-2v2M292,250.5h2m-2,3h2M291.5,251v2m3,-2v2M175,116.5h2m-2,3h2M174.5,117v2m3,-2v2M245,232.5h2m-2,3h2M244.5,233v2m3,-2v2M319,250.5h2m-2,3h2M318.5,251v2m3,-2v2M299,421.5h2m-2,3h2M298.5,422v2m3,-2v2M277,224.5h2m-2,3h2M276.5,225v2m3,-2v2M212,211.5h2m-2,3h2M211.5,212v2m3,-2v2M299,233.5h2m-2,3h2M298.5,234v2m3,-2v2M240,266.5h2m-2,3h2M239.5,267v2m3,-2v2M242,251.5h2m-2,3h2M241.5,252v2m3,-2v2M265,306.5h2m-2,3h2M264.5,307v2m3,-2v2M353,263.5h2m-2,3h2M352.5,264v2m3,-2v2M277,191.5h2m-2,3h2M276.5,192v2m3,-2v2M269,270.5h2m-2,3h2M268.5,271v2m3,-2v2M229,196.5h2m-2,3h2M228.5,197v2m3,-2v2M238,223.5h2m-2,3h2M237.5,224v2m3,-2v2M211,202.5h2m-2,3h2M210.5,203v2m3,-2v2M251,199.5h2m-2,3h2M250.5,200v2m3,-2v2M271,255.5h2m-2,3h2M270.5,256v2m3,-2v2M300,249.5h2m-2,3h2M299.5,250v2m3,-2v2M226,192.5h2m-2,3h2M225.5,193v2m3,-2v2M204,232.5h2m-2,3h2M203.5,233v2m3,-2v2M219,296.5h2m-2,3h2M218.5,297v2m3,-2v2M268,208.5h2m-2,3h2M267.5,209v2m3,-2v2M236,247.5h2m-2,3h2M235.5,248v2m3,-2v2M215,136.5h2m-2,3h2M214.5,137v2m3,-2v2M211,205.5h2m-2,3h2M210.5,206v2m3,-2v2M352,425.5h2m-2,3h2M351.5,426v2m3,-2v2M249,220.5h2m-2,3h2M248.5,221v2m3,-2v2M270,228.5h2m-2,3h2M269.5,229v2m3,-2v2M291,229.5h2m-2,3h2M290.5,230v2m3,-2v2M220,190.5h2m-2,3h2M219.5,191v2m3,-2v2M309,228.5h2m-2,3h2M308.5,229v2m3,-2v2M188,147.5h2m-2,3h2M187.5,148v2m3,-2v2M278,315.5h2m-2,3h2M277.5,316v2m3,-2v2M289,221.5h2m-2,3h2M288.5,222v2m3,-2v2M219,224.5h2m-2,3h2M218.5,225v2m3,-2v2M210,192.5h2m-2,3h2M209.5,193v2m3,-2v2M292,297.5h2m-2,3h2M291.5,298v2m3,-2v2M357,230.5h2m-2,3h2M356.5,231v2m3,-2v2M276,235.5h2m-2,3h2M275.5,236v2m3,-2v2M230,209.5h2m-2,3h2M229.5,210v2m3,-2v2M213,153.5h2m-2,3h2M212.5,154v2m3,-2v2M219,227.5h2m-2,3h2M218.5,228v2m3,-2v2M196,145.5h2m-2,3h2M195.5,146v2m3,-2v2M315,308.5h2m-2,3h2M314.5,309v2m3,-2v2" stroke="#a0ff5e" stroke-width="1" fill="none" shape-rendering="crispEdges"/><path d="M280,392.5h2m-2,3h2M279.5,393v2m3,-2v2M327,402.5h2m-2,3h2M326.5,403v2m3,-2v2M350,342.5h2m-2,3h2M349.5,343v2m3,-2v2M266,391.5h2m-2,3h2M265.5,392v2m3,-2v2M217,213.5h2m-2,3h2M216.5,214v2m3,-2v2M291,302.5h2m-2,3h2M290.5,303v2m3,-2v2M323,387.5h2m-2,3h2M322.5,388v2m3,-2v2M268,334.5h2m-2,3h2M267.5,335v2m3,-2v2M357,291.5h2m-2,3h2M356.5,292v2m3,-2v2M338,267.5h2m-2,3h2M337.5,268v2m3,-2v2M320,399.5h2m-2,3h2M319.5,400v2m3,-2v2M305,330.5h2m-2,3h2M304.5,331v2m3,-2v2M291,256.5h2m-2,3h2M290.5,257v2m3,-2v2M277,322.5h2m-2,3h2M276.5,323v2m3,-2v2M275,340.5h2m-2,3h2M274.5,341v2m3,-2v2M318,470.5h2m-2,3h2M317.5,471v2m3,-2v2M328,349.5h2m-2,3h2M327.5,350v2m3,-2v2M313,417.5h2m-2,3h2M312.5,418v2m3,-2v2M342,277.5h2m-2,3h2M341.5,278v2m3,-2v2M346,370.5h2m-2,3h2M345.5,371v2m3,-2v2M408,466.5h2m-2,3h2M407.5,467v2m3,-2v2M290,315.5h2m-2,3h2M289.5,316v2m3,-2v2" stroke="#7fff7f" stroke-width="1" fill="none" shape-rendering="crispEdges"/><path d="M294,296.5h5M296.5,294v5M283,321.5h5M285.5,319v5M301,353.5h5M303.5,351v5M328,271.5h5M330.5,269v5M348,242.5h5M350.5,240v5M198,318.5h5M200.5,316v5M404,447.5h5M406.5,445v5M268,359.5h5M270.5,357v5M271,314.5h5M273.5,312v5M298,357.5h5M300.5,355v5M338,230.5h5M340.5,228v5M333,284.5h5M335.5,282v5M206,324.5h5M208.5,322v5M244,301.5h5M246.5,299v5M350,218.5h5M352.5,216v5M267,323.5h5M269.5,321v5M400,213.5h5M402.5,211v5M296,278.5h5M298.5,276v5M306,331.5h5M308.5,329v5M271,277.5h5M273.5,275v5M273,336.5h5M275.5,334v5M278,232.5h5M280.5,230v5M300,329.5h5M302.5,327v5M324,273.5h5M326.5,271v5M332,328.5h5M334.5,326v5" stroke="#7fff7f" stroke-width="1" fill="none" shape-rendering="crispEdges"/><path d="M226,298.5h5M228.5,296v5M343,321.5h5M345.5,319v5M290,302.5h5M292.5,300v5M272,355.5h5M274.5,353v5M311,279.5h5M313.5,277v5M178,248.5h5M180.5,246v5M334,393.5h5M336.5,391v5M326,276.5h5M328.5,274v5M301,302.5h5M303.5,300v5M250,366.5h5M252.5,364v5M378,340.5h5M380.5,338v5M487,252.5h5M489.5,250v5M267,311.5h5M269.5,309v5M189,320.5h5M191.5,318v5M381,262.5h5M383.5,260v5M389,275.5h5M391.5,273v5M339,113.5h5M341.5,111v5M224,267.5h5M226.5,265v5M279,304.5h5M281.5,302v5M327,290.5h5M329.5,288v5M282,291.5h5M284.5,289v5M188,405.5h5M190.5,403v5M390,205.5h5M392.5,203v5M480,293.5h5M482.5,291v5M318,429.5h5M320.5,427v5M343,280.5h5M345.5,278v5M301,245.5h5M303.5,243v5M331,326.5h5M333.5,324v5M379,255.5h5M381.5,253v5M315,272.5h5M317.5,270v5M309,284.5h5M311.5,282v5M286,389.5h5M288.5,387v5M287,258.5h5M289.5,256v5M311,346.5h5M313.5,344v5M342,333.5h5M344.5,331v5M332,240.5h5M334.5,238v5M389,248.5h5M391.5,246v5M295,295.5h5M297.5,293v5M229,322.5h5M231.5,320v5M348,391.5h5M350.5,389v5M319,248.5h5M321.5,246v5M335,284.5h5M337.5,282v5M312,254.5h5M314.5,252v5M320,334.5h5M322.5,332v5M264,325.5h5M266.5,323v5M224,285.5h5M226.5,283v5M420,257.5h5M422.5,255v5M335,339.5h5M337.5,337v5M286,243.5h5M288.5,241v5M283,390.5h5M285.5,388v5M310,364.5h5M312.5,362v5M268,375.5h5M270.5,373v5M368,444.5h5M370.5,442v5M312,277.5h5M314.5,275v5M305,287.5h5M307.5,285v5M191,380.5h5M193.5,378v5M325,326.5h5M327.5,324v5M292,251.5h5M294.5,249v5M347,333.5h5M349.5,331v5M334,327.5h5M336.5,325v5M238,302.5h5M240.5,300v5M330,384.5h5M332.5,382v5M355,310.5h5M357.5,308v5M259,275.5h5M261.5,273v5M251,327.5h5M253.5,325v5M392,287.5h5M394.5,285v5M207,398.5h5M209.5,396v5M329,314.5h5M331.5,312v5M438,193.5h5M440.5,191v5M270,372.5h5M272.5,370v5M302,436.5h5M304.5,434v5M258,300.5h5M260.5,298v5M289,456.5h5M291.5,454v5M352,323.5h5M354.5,321v5M306,246.5h5M308.5,244v5M326,90.5h5M328.5,88v5M274,295.5h5M276.5,293v5M329,257.5h5M331.5,255v5M258,338.5h5M260.5,336v5M382,234.5h5M384.5,232v5M371,298.5h5M373.5,296v5M327,488.5h5M329.5,486v5M304,449.5h5M306.5,447v5M330,257.5h5M332.5,255v5M517,239.5h5M519.5,237v5M308,231.5h5M310.5,229v5M300,250.5h5M302.5,248v5M455,293.5h5M457.5,291v5M327,358.5h5M329.5,356v5M479,279.5h5M481.5,277v5M255,341.5h5M257.5,339v5M311,393.5h5M313.5,391v5M348,304.5h5M350.5,302v5M328,398.5h5M330.5,396v5M306,265.5h5M308.5,263v5M283,433.5h5M285.5,431v5M309,242.5h5M311.5,240v5M294,434.5h5M296.5,432v5M316,269.5h5M318.5,267v5M398,334.5h5M400.5,332v5M316,252.5h5M318.5,250v5M384,244.5h5M386.5,242v5M405,317.5h5M407.5,315v5M328,358.5h5M330.5,356v5M325,242.5h5M327.5,240v5M360,254.5h5M362.5,252v5M233,169.5h5M235.5,167v5M302,350.5h5M304.5,348v5M341,275.5h5M343.5,273v5M281,311.5h5M283.5,309v5M312,315.5h5M314.5,313v5M285,302.5h5M287.5,300v5M388,268.5h5M390.5,266v5M321,244.5h5M323.5,242v5M292,279.5h5M294.5,277v5M415,267.5h5M417.5,265v5M237,279.5h5M239.5,277v5M277,306.5h5M279.5,304v5M254,215.5h5M256.5,213v5M290,215.5h5M292.5,213v5M359,375.5h5M361.5,373v5M326,255.5h5M328.5,253v5M437,292.5h5M439.5,290v5M360,213.5h5M362.5,211v5M345,293.5h5M347.5,291v5M275,277.5h5M277.5,275v5M297,397.5h5M299.5,395v5M284,250.5h5M286.5,248v5M409,369.5h5M411.5,367v5M505,403.5h5M507.5,401v5" stroke="#6fff8f" stroke-width="1" fill="none" shape-rendering="crispEdges"/><path d="M316,266.5h5M318.5,264v5M358,219.5h5M360.5,217v5M337,233.5h5M339.5,231v5M320,215.5h5M322.5,213v5M407,265.5h5M409.5,263v5M299,228.5h5M301.5,226v5M413,250.5h5M415.5,248v5M329,266.5h5M331.5,264v5M319,276.5h5M321.5,274v5M386,244.5h5M388.5,242v5M462,264.5h5M464.5,262v5M403,266.5h5M405.5,264v5M405,246.5h5M407.5,244v5M393,277.5h5M395.5,275v5M373,287.5h5M375.5,285v5M376,241.5h5M378.5,239v5M360,271.5h5M362.5,269v5M361,265.5h5M363.5,263v5M297,205.5h5M299.5,203v5M265,220.5h5M267.5,218v5M365,271.5h5M367.5,269v5M363,281.5h5M365.5,279v5M379,280.5h5M381.5,278v5M369,269.5h5M371.5,267v5M354,232.5h5M356.5,230v5M344,250.5h5M346.5,248v5M330,237.5h5M332.5,235v5M309,250.5h5M311.5,248v5M231,207.5h5M233.5,205v5M405,232.5h5M407.5,230v5M438,185.5h5M440.5,183v5M427,212.5h5M429.5,210v5M378,287.5h5M380.5,285v5M357,275.5h5M359.5,273v5M374,285.5h5M376.5,283v5M426,251.5h5M428.5,249v5M383,255.5h5M385.5,253v5M383,262.5h5M385.5,260v5M511,252.5h5M513.5,250v5M408,240.5h5M410.5,238v5M293,259.5h5M295.5,257v5M386,237.5h5M388.5,235v5M335,236.5h5M337.5,234v5M402,251.5h5M404.5,249v5M362,234.5h5M364.5,232v5M464,295.5h5M466.5,293v5M346,264.5h5M348.5,262v5M364,238.5h5M366.5,236v5M319,251.5h5M321.5,249v5M332,267.5h5M334.5,265v5M398,256.5h5M400.5,254v5M359,285.5h5M361.5,283v5M309,275.5h5M311.5,273v5M367,251.5h5M369.5,249v5M323,233.5h5M325.5,231v5M354,251.5h5M356.5,249v5M408,273.5h5M410.5,271v5M288,252.5h5M290.5,250v5M418,251.5h5M420.5,249v5M359,233.5h5M361.5,231v5M328,214.5h5M330.5,212v5M371,238.5h5M373.5,236v5M306,223.5h5M308.5,221v5M314,231.5h5M316.5,229v5M370,265.5h5M372.5,263v5M310,242.5h5M312.5,240v5M328,236.5h5M330.5,234v5M347,288.5h5M349.5,286v5M300,277.5h5M302.5,275v5M360,273.5h5M362.5,271v5M358,206.5h5M360.5,204v5M325,248.5h5M327.5,246v5M350,282.5h5M352.5,280v5M327,427.5h5M329.5,425v5M414,229.5h5M416.5,227v5M394,267.5h5M396.5,265v5M399,245.5h5M401.5,243v5M290,271.5h5M292.5,269v5M304,264.5h5M306.5,262v5" stroke="#3dffc1" stroke-width="1" fill="none" shape-rendering="crispEdges"/><path d="M232,193.5h2m-2,3h2M231.5,194v2m3,-2v2" stroke="#d1ff2d" stroke-width="1" fill="none" shape-rendering="crispEdges"/><path d="M377,253.5h5M379.5,251v5M351,204.5h5M353.5,202v5M300,246.5h5M302.5,244v5M413,212.5h5M415.5,210v5M443,197.5h5M445.5,195v5M301,259.5h5M303.5,257v5M372,263.5h5M374.5,261v5M396,242.5h5M398.5,240v5M361,241.5h5M363.5,239v5M355,230.5h5M357.5,228v5M409,290.5h5M411.5,288v5M365,222.5h5M367.5,220v5M455,252.5h5M457.5,250v5M334,262.5h5M336.5,260v5M409,230.5h5M411.5,228v5M328,233.5h5M330.5,231v5M366,149.5h5M368.5,147v5M433,187.5h5M435.5,185v5M404,306.5h5M406.5,304v5M404,277.5h5M406.5,275v5M396,242.5h5M398.5,240v5M307,259.5h5M309.5,257v5M408,223.5h5M410.5,221v5M343,219.5h5M345.5,217v5M307,259.5h5M309.5,257v5M323,231.5h5M325.5,229v5" stroke="#2dffd1" stroke-width="1" fill="none" shape-rendering="crispEdges"/><path d="M206,201.5h2m-2,3h2M205.5,202v2m3,-2v2M264,220.5h2m-2,3h2M263.5,221v2m3,-2v2M262,241.5h2m-2,3h2M261.5,242v2m3,-2v2M279,209.5h2m-2,3h2M278.5,210v2m3,-2v2M210,227.5h2m-2,3h2M209.5,228v2m3,-2v2M261,166.5h2m-2,3h2M260.5,167v2m3,-2v2M249,258.5h2m-2,3h2M248.5,259v2m3,-2v2M227,220.5h2m-2,3h2M226.5,221v2m3,-2v2M220,228.5h2m-2,3h2M219.5,229v2m3,-2v2M286,214.5h2m-2,3h2M285.5,215v2m3,-2v2M290,229.5h2m-2,3h2M289.5,230v2m3,-2v2M281,226.5h2m-2,3h2M280.5,227v2m3,-2v2M346,256.5h2m-2,3h2M345.5,257v2m3,-2v2M229,187.5h2m-2,3h2M228.5,188v2m3,-2v2M276,214.5h2m-2,3h2M275.5,215v2m3,-2v2M271,187.5h2m-2,3h2M270.5,188v2m3,-2v2M229,214.5h2m-2,3h2M228.5,215v2m3,-2v2M221,233.5h2m-2,3h2M220.5,234v2m3,-2v2M237,224.5h2m-2,3h2M236.5,225v2m3,-2v2M259,237.5h2m-2,3h2M258.5,238v2m3,-2v2" stroke="#c1ff3d" stroke-width="1" fill="none" shape-rendering="crispEdges"/><path d="M387,263.5h2m-2,3h2M386.5,264v2m3,-2v2M356,386.5h2m-2,3h2M355.5,387v2m3,-2v2" stroke="#6fff8f" stroke-width="1" fill="none" shape-rendering="crispEdges"/><path d="M376,249.5h5M378.5,247v5M423,218.5h5M425.5,216v5" stroke="#1cffe2" stroke-width="1" fill="none" shape-rendering="crispEdges"/><path d="M376,282.5h2m-2,3h2M375.5,283v2m3,-2v2" stroke="#5effa0" stroke-width="1" fill="none" shape-rendering="crispEdges"/><path d="M364,277.5h5M366.5,275v5" stroke="#8fff6f" stroke-width="1" fill="none" shape-rendering="crispEdges"/><path d="M230,253.5h2m-2,3h2M229.5,254v2m3,-2v2M215,221.5h2m-2,3h2M214.5,222v2m3,-2v2M242,183.5h2m-2,3h2M241.5,184v2m3,-2v2M229,229.5h2m-2,3h2M228.5,230v2m3,-2v2M284,212.5h2m-2,3h2M283.5,213v2m3,-2v2M306,250.5h2m-2,3h2M305.5,251v2m3,-2v2M276,264.5h2m-2,3h2M275.5,265v2m3,-2v2M250,246.5h2m-2,3h2M249.5,247v2m3,-2v2M230,183.5h2m-2,3h2M229.5,184v2m3,-2v2M206,189.5h2m-2,3h2M205.5,190v2m3,-2v2M252,201.5h2m-2,3h2M251.5,202v2m3,-2v2M248,253.5h2m-2,3h2M247.5,254v2m3,-2v2M248,227.5h2m-2,3h2M247.5,228v2m3,-2v2M216,228.5h2m-2,3h2M215.5,229v2m3,-2v2M226,198.5h2m-2,3h2M225.5,199v2m3,-2v2M280,251.5h2m-2,3h2M279.5,252v2m3,-2v2M168,102.5h2m-2,3h2M167.5,103v2m3,-2v2M204,246.5h2m-2,3h2M203.5,247v2m3,-2v2M261,221.5h2m-2,3h2M260.5,222v2m3,-2v2M228,192.5h2m-2,3h2M227.5,193v2m3,-2v2M288,227.5h2m-2,3h2M287.5,228v2m3,-2v2M268,202.5h2m-2,3h2M267.5,203v2m3,-2v2M231,190.5h2m-2,3h2M230.5,191v2m3,-2v2M266,249.5h2m-2,3h2M265.5,250v2m3,-2v2M267,194.5h2m-2,3h2M266.5,195v2m3,-2v2M187,184.5h2m-2,3h2M186.5,185v2m3,-2v2M244,212.5h2m-2,3h2M243.5,213v2m3,-2v2M222,226.5h2m-2,3h2M221.5,227v2m3,-2v2M211,221.5h2m-2,3h2M210.5,222v2m3,-2v2M203,107.5h2m-2,3h2M202.5,108v2m3,-2v2M218,183.5h2m-2,3h2M217.5,184v2m3,-2v2" stroke="#c1ff3d" stroke-width="1" fill="none" shape-rendering="crispEdges"/><path d="M498,240.5h5M500.5,238v5M287,295.5h5M289.5,293v5M450,220.5h5M452.5,218v5M371,276.5h5M373.5,274v5M257,333.5h5M259.5,331v5M282,331.5h5M284.5,329v5M279,230.5h5M281.5,228v5M320,281.5h5M322.5,279v5M343,242.5h5M345.5,240v5M338,275.5h5M340.5,273v5M388,305.5h5M390.5,303v5M362,336.5h5M364.5,334v5M319,364.5h5M321.5,362v5M455,302.5h5M457.5,300v5M285,306.5h5M287.5,304v5M319,320.5h5M321.5,318v5M355,298.5h5M357.5,296v5M299,417.5h5M301.5,415v5M322,250.5h5M324.5,248v5M246,333.5h5M248.5,331v5M357,347.5h5M359.5,345v5M368,328.5h5M370.5,326v5M236,303.5h5M238.5,301v5M315,326.5h5M317.5,324v5M453,343.5h5M455.5,341v5M298,274.5h5M300.5,272v5M310,327.5h5M312.5,325v5M280,251.5h5M282.5,249v5M303,274.5h5M305.5,272v5M351,316.5h5M353.5,314v5M300,477.5h5M302.5,475v5M236,294.5h5M238.5,292v5M321,250.5h5M323.5,248v5M193,312.5h5M195.5,310v5M297,274.5h5M299.5,272v5M378,263.5h5M380.5,261v5M264,344.5h5M266.5,342v5M325,329.5h5M327.5,327v5M361,298.5h5M363.5,296v5M282,363.5h5M284.5,361v5M349,462.5h5M351.5,460v5M241,377.5h5M243.5,375v5M347,274.5h5M349.5,272v5M333,332.5h5M335.5,330v5M262,333.5h5M264.5,331v5M304,246.5h5M306.5,244v5M398,218.5h5M400.5,216v5M229,225.5h5M231.5,223v5M371,364.5h5M373.5,362v5M367,418.5h5M369.5,416v5M399,266.5h5M401.5,264v5M221,450.5h5M223.5,448v5M306,243.5h5M308.5,241v5M184,192.5h5M186.5,190v5M361,280.5h5M363.5,278v5M266,405.5h5M268.5,403v5M302,178.5h5M304.5,176v5M289,384.5h5M291.5,382v5M296,240.5h5M298.5,238v5M375,286.5h5M377.5,284v5M257,286.5h5M259.5,284v5M329,273.5h5M331.5,271v5M233,287.5h5M235.5,285v5M326,226.5h5M328.5,224v5M292,324.5h5M294.5,322v5M342,256.5h5M344.5,254v5M337,294.5h5M339.5,292v5M358,250.5h5M360.5,248v5M286,293.5h5M288.5,291v5M287,273.5h5M289.5,271v5M157,314.5h5M159.5,312v5M273,296.5h5M275.5,294v5M379,264.5h5M381.5,262v5M406,191.5h5M408.5,189v5M505,294.5h5M507.5,292v5M318,259.5h5M320.5,257v5M291,433.5h5M293.5,431v5M290,324.5h5M292.5,322v5M303,350.5h5M305.5,348v5M255,192.5h5M257.5,190v5M136,336.5h5M138.5,334v5M398,253.5h5M400.5,251v5M367,237.5h5M369.5,235v5M443,462.5h5M445.5,460v5M305,313.5h5M307.5,311v5M314,419.5h5M316.5,417v5M288,365.5h5M290.5,363v5M267,290.5h5M269.5,288v5M219,309.5h5M221.5,307v5M300,316.5h5M302.5,314v5M251,292.5h5M253.5,290v5M329,356.5h5M331.5,354v5M334,249.5h5M336.5,247v5M321,183.5h5M323.5,181v5M417,304.5h5M419.5,302v5M230,233.5h5M232.5,231v5M223,343.5h5M225.5,341v5M302,378.5h5M304.5,376v5M308,287.5h5M310.5,285v5M190,166.5h5M192.5,164v5M298,273.5h5M300.5,271v5M285,382.5h5M287.5,380v5M320,344.5h5M322.5,342v5M349,271.5h5M351.5,269v5M407,249.5h5M409.5,247v5M234,329.5h5M236.5,327v5M277,310.5h5M279.5,308v5M213,299.5h5M215.5,297v5M173,348.5h5M175.5,346v5M333,249.5h5M335.5,247v5M426,261.5h5M428.5,259v5M254,469.5h5M256.5,467v5M311,298.5h5M313.5,296v5M253,265.5h5M255.5,263v5M402,250.5h5M404.5,248v5M261,275.5h5M263.5,273v5M332,372.5h5M334.5,370v5M160,329.5h5M162.5,327v5M293,313.5h5M295.5,311v5M367,273.5h5M369.5,271v5M230,308.5h5M232.5,306v5M310,287.5h5M312.5,285v5M319,345.5h5M321.5,343v5M302,391.5h5M304.5,389v5M318,207.5h5M320.5,205v5M244,254.5h5M246.5,252v5M358,296.5h5M360.5,294v5M377,310.5h5M379.5,308v5M420,393.5h5M422.5,391v5M308,314.5h5M310.5,312v5M260,312.5h5M262.5,310v5M406,243.5h5M408.5,241v5M345,291.5h5M347.5,289v5M309,309.5h5M311.5,307v5M410,209.5h5M412.5,207v5" stroke="#6fff8f" stroke-width="1" fill="none" shape-rendering="crispEdges"/><path d="M235,172.5h2m-2,3h2M234.5,173v2m3,-2v2M186,237.5h2m-2,3h2M185.5,238v2m3,-2v2M258,200.5h2m-2,3h2M257.5,201v2m3,-2v2M236,199.5h2m-2,3h2M235.5,200v2m3,-2v2M241,167.5h2m-2,3h2M240.5,168v2m3,-2v2M259,201.5h2m-2,3h2M258.5,202v2m3,-2v2M252,188.5h2m-2,3h2M251.5,189v2m3,-2v2M278,241.5h2m-2,3h2M277.5,242v2m3,-2v2M249,233.5h2m-2,3h2M248.5,234v2m3,-2v2M230,189.5h2m-2,3h2M229.5,190v2m3,-2v2M215,174.5h2m-2,3h2M214.5,175v2m3,-2v2M213,170.5h2m-2,3h2M212.5,171v2m3,-2v2M259,182.5h2m-2,3h2M258.5,183v2m3,-2v2M238,184.5h2m-2,3h2M237.5,185v2m3,-2v2M223,187.5h2m-2,3h2M222.5,188v2m3,-2v2M250,79.5h2m-2,3h2M249.5,80v2m3,-2v2M401,229.5h2m-2,3h2M400.5,230v2m3,-2v2M185,108.5h2m-2,3h2M184.5,109v2m3,-2v2M221,251.5h2m-2,3h2M220.5,252v2m3,-2v2M238,180.5h2m-2,3h2M237.5,181v2m3,-2v2M235,169.5h2m-2,3h2M234.5,170v2m3,-2v2M258,200.5h2m-2,3h2M257.5,201v2m3,-2v2M232,239.5h2m-2,3h2M231.5,240v2m3,-2v2M267,230.5h2m-2,3h2M266.5,231v2m3,-2v2M230,201.5h2m-2,3h2M229.5,202v2m3,-2v2M236,192.5h2m-2,3h2M235.5,193v2m3,-2v2M304,255.5h2m-2,3h2M303.5,256v2m3,-2v2M258,212.5h2m-2,3h2M257.5,213v2m3,-2v2M270,201.5h2m-2,3h2M269.5,202v2m3,-2v2M274,251.5h2m-2,3h2M273.5,252v2m3,-2v2M291,261.5h2m-2,3h2M290.5,262v2m3,-2v2M212,195.5h2m-2,3h2M211.5,196v2m3,-2v2M205,219.5h2m-2,3h2M204.5,220v2m3,-2v2M247,226.5h2m-2,3h2M246.5,227v2m3,-2v2M233,115.5h2m-2,3h2M232.5,116v2m3,-2v2M250,240.5h2m-2,3h2M249.5,241v2m3,-2v2M233,145.5h2m-2,3h2M232.5,146v2m3,-2v2M276,261.5h2m-2,3h2M275.5,262v2m3,-2v2M236,253.5h2m-2,3h2M235.5,254v2m3,-2v2M369,279.5h2m-2,3h2M368.5,280v2m3,-2v2M215,199.5h2m-2,3h2M214.5,200v2m3,-2v2M200,201.5h2m-2,3h2M199.5,202v2m3,-2v2M230,199.5h2m-2,3h2M229.5,200v2m3,-2v2M224,208.5h2m-2,3h2M223.5,209v2m3,-2v2M196,143.5h2m-2,3h2M195.5,144v2m3,-2v2M288,230.5h2m-2,3h2M287.5,231v2m3,-2v2M189,240.5h2m-2,3h2M188.5,241v2m3,-2v2M286,195.5h2m-2,3h2M285.5,196v2m3,-2v2M246,198.5h2m-2,3h2M245.5,199v2m3,-2v2M253,186.5h2m-2,3h2M252.5,187v2m3,-2v2M229,192.5h2m-2,3h2M228.5,193v2m3,-2v2M220,241.5h2m-2,3h2M219.5,242v2m3,-2v2M204,207.5h2m-2,3h2M203.5,208v2m3,-2v2M213,184.5h2m-2,3h2M212.5,185v2m3,-2v2M250,211.5h2m-2,3h2M249.5,212v2m3,-2v2M352,414.5h2m-2,3h2M351.5,415v2m3,-2v2M231,210.5h2m-2,3h2M230.5,211v2m3,-2v2M251,213.5h2m-2,3h2M250.5,214v2m3,-2v2M226,194.5h2m-2,3h2M225.5,195v2m3,-2v2M239,237.5h2m-2,3h2M238.5,238v2m3,-2v2M271,212.5h2m-2,3h2M270.5,213v2m3,-2v2M260,231.5h2m-2,3h2M259.5,232v2m3,-2v2M211,167.5h2m-2,3h2M210.5,168v2m3,-2v2M219,196.5h2m-2,3h2M218.5,197v2m3,-2v2M280,252.5h2m-2,3h2M279.5,253v2m3,-2v2M182,224.5h2m-2,3h2M181.5,225v2m3,-2v2M236,243.5h2m-2,3h2M235.5,244v2m3,-2v2M247,218.5h2m-2,3h2M246.5,219v2m3,-2v2M236,203.5h2m-2,3h2M235.5,204v2m3,-2v2M310,220.5h2m-2,3h2M309.5,221v2m3,-2v2M188,163.5h2m-2,3h2M187.5,164v2m3,-2v2M226,160.5h2m-2,3h2M225.5,161v2m3,-2v2M239,217.5h2m-2,3h2M238.5,218v2m3,-2v2M266,215.5h2m-2,3h2M265.5,216v2m3,-2v2M263,187.5h2m-2,3h2M262.5,188v2m3,-2v2M235,160.5h2m-2,3h2M234.5,161v2m3,-2v2M249,228.5h2m-2,3h2M248.5,229v2m3,-2v2M219,210.5h2m-2,3h2M218.5,211v2m3,-2v2M251,238.5h2m-2,3h2M250.5,239v2m3,-2v2M226,175.5h2m-2,3h2M225.5,176v2m3,-2v2M260,207.5h2m-2,3h2M259.5,208v2m3,-2v2M224,210.5h2m-2,3h2M223.5,211v2m3,-2v2M237,185.5h2m-2,3h2M236.5,186v2m3,-2v2M310,251.5h2m-2,3h2M309.5,252v2m3,-2v2M248,232.5h2m-2,3h2M247.5,233v2m3,-2v2M286,225.5h2m-2,3h2M285.5,226v2m3,-2v2M256,94.5h2m-2,3h2M255.5,95v2m3,-2v2M271,188.5h2m-2,3h2M270.5,189v2m3,-2v2M206,210.5h2m-2,3h2M205.5,211v2m3,-2v2M227,208.5h2m-2,3h2M226.5,209v2m3,-2v2M262,215.5h2m-2,3h2M261.5,216v2m3,-2v2M280,243.5h2m-2,3h2M279.5,244v2m3,-2v2M237,249.5h2m-2,3h2M236.5,250v2m3,-2v2M232,191.5h2m-2,3h2M231.5,192v2m3,-2v2M381,249.5h2m-2,3h2M380.5,250v2m3,-2v2M304,241.5h2m-2,3h2M303.5,242v2m3,-2v2M237,189.5h2m-2,3h2M236.5,190v2m3,-2v2M248,235.5h2m-2,3h2M247.5,236v2m3,-2v2M238,180.5h2m-2,3h2M237.5,181v2m3,-2v2M229,150.5h2m-2,3h2M228.5,151v2m3,-2v2M257,236.5h2m-2,3h2M256.5,237v2m3,-2v2M232,122.5h2m-2,3h2M231.5,123v2m3,-2v2M288,204.5h2m-2,3h2M287.5,205v2m3,-2v2M331,249.5h2m-2,3h2M330.5,250v2m3,-2v2M227,218.5h2m-2,3h2M226.5,219v2m3,-2v2M164,158.5h2m-2,3h2M163.5,159v2m3,-2v2M233,218.5h2m-2,3h2M232.5,219v2m3,-2v2M262,252.5h2m-2,3h2M261.5,253v2m3,-2v2M274,214.5h2m-2,3h2M273.5,215v2m3,-2v2M262,258.5h2m-2,3h2M261.5,259v2m3,-2v2M270,260.5h2m-2,3h2M269.5,261v2m3,-2v2M237,234.5h2m-2,3h2M236.5,235v2m3,-2v2M260,190.5h2m-2,3h2M259.5,191v2m3,-2v2M272,411.5h2m-2,3h2M271.5,412v2m3,-2v2M254,216.5h2m-2,3h2M253.5,217v2m3,-2v2M355,464.5h2m-2,3h2M354.5,465v2m3,-2v2M295,193.5h2m-2,3h2M294.5,194v2m3,-2v2M229,220.5h2m-2,3h2M228.5,221v2m3,-2v2M204,229.5h2m-2,3h2M203.5,230v2m3,-2v2" stroke="#b0ff4e" stroke-width="1" fill="none" shape-rendering="crispEdges"/><path d="M272,248.5h2m-2,3h2M271.5,249v2m3,-2v2M258,199.5h2m-2,3h2M257.5,200v2m3,-2v2" stroke="#d1ff2d" stroke-width="1" fill="none" shape-rendering="crispEdges"/><path d="M267,269.5h5M269.5,267v5M312,304.5h5M314.5,302v5M302,287.5h5M304.5,285v5M358,279.5h5M360.5,277v5M167,350.5h5M169.5,348v5M271,294.5h5M273.5,292v5M327,323.5h5M329.5,321v5M414,239.5h5M416.5,237v5M215,168.5h5M217.5,166v5M356,283.5h5M358.5,281v5M428,277.5h5M430.5,275v5M264,203.5h5M266.5,201v5M316,347.5h5M318.5,345v5M292,426.5h5M294.5,424v5M394,279.5h5M396.5,277v5M386,269.5h5M388.5,267v5M337,228.5h5M339.5,226v5M326,315.5h5M328.5,313v5M345,251.5h5M347.5,249v5M366,433.5h5M368.5,431v5M366,257.5h5M368.5,255v5M361,287.5h5M363.5,285v5M208,272.5h5M210.5,270v5M408,226.5h5M410.5,224v5M381,287.5h5M383.5,285v5M285,384.5h5M287.5,382v5M300,266.5h5M302.5,264v5M261,353.5h5M263.5,351v5M380,271.5h5M382.5,269v5M381,200.5h5M383.5,198v5M335,253.5h5M337.5,251v5M312,240.5h5M314.5,238v5M317,175.5h5M319.5,173v5M483,156.5h5M485.5,154v5M174,126.5h5M176.5,124v5M287,187.5h5M289.5,185v5M213,304.5h5M215.5,302v5M364,420.5h5M366.5,418v5M358,248.5h5M360.5,246v5M425,200.5h5M427.5,198v5M397,243.5h5M399.5,241v5M369,294.5h5M371.5,292v5M341,246.5h5M343.5,244v5M334,353.5h5M336.5,351v5M388,283.5h5M390.5,281v5M387,349.5h5M389.5,347v5M376,295.5h5M378.5,293v5M379,293.5h5M381.5,291v5M240,283.5h5M242.5,281v5M329,266.5h5M331.5,264v5M280,361.5h5M282.5,359v5M356,323.5h5M358.5,321v5M298,391.5h5M300.5,389v5M507,279.5h5M509.5,277v5M366,204.5h5M368.5,202v5M445,432.5h5M447.5,430v5M318,271.5h5M320.5,269v5M369,373.5h5M371.5,371v5M352,398.5h5M354.5,396v5M300,209.5h5M302.5,207v5M215,300.5h5M217.5,298v5M268,318.5h5M270.5,316v5M307,326.5h5M309.5,324v5M376,262.5h5M378.5,260v5M364,255.5h5M366.5,253v5M463,335.5h5M465.5,333v5M383,228.5h5M385.5,226v5M379,267.5h5M381.5,265v5M442,339.5h5M444.5,337v5M348,253.5h5M350.5,251v5M336,427.5h5M338.5,425v5M306,163.5h5M308.5,161v5M351,237.5h5M353.5,235v5M325,285.5h5M327.5,283v5M399,298.5h5M401.5,296v5M221,266.5h5M223.5,264v5M280,388.5h5M282.5,386v5M300,315.5h5M302.5,313v5M320,256.5h5M322.5,254v5M369,267.5h5M371.5,265v5M470,213.5h5M472.5,211v5M354,229.5h5M356.5,227v5M383,280.5h5M385.5,278v5M231,367.5h5M233.5,365v5M332,302.5h5M334.5,300v5M391,236.5h5M393.5,234v5M294,406.5h5M296.5,404v5M313,324.5h5M315.5,322v5M511,204.5h5M513.5,202v5M398,268.5h5M400.5,266v5M320,390.5h5M322.5,388v5M286,287.5h5M288.5,285v5M273,291.5h5M275.5,289v5M99,390.5h5M101.5,388v5M353,271.5h5M355.5,269v5M280,431.5h5M282.5,429v5M481,305.5h5M483.5,303v5M391,261.5h5M393.5,259v5M220,327.5h5M222.5,325v5M334,240.5h5M336.5,238v5M443,124.5h5M445.5,122v5M372,261.5h5M374.5,259v5M243,337.5h5M245.5,335v5M296,254.5h5M298.5,252v5M363,247.5h5M365.5,245v5M369,264.5h5M371.5,262v5M295,249.5h5M297.5,247v5M372,271.5h5M374.5,269v5M459,274.5h5M461.5,272v5M273,310.5h5M275.5,308v5M323,235.5h5M325.5,233v5M330,234.5h5M332.5,232v5M401,240.5h5M403.5,238v5M353,340.5h5M355.5,338v5M323,271.5h5M325.5,269v5M315,201.5h5M317.5,199v5M260,255.5h5M262.5,253v5M347,247.5h5M349.5,245v5M329,375.5h5M331.5,373v5M263,288.5h5M265.5,286v5M389,269.5h5M391.5,267v5M364,292.5h5M366.5,290v5M343,261.5h5M345.5,259v5M337,254.5h5M339.5,252v5M261,312.5h5M263.5,310v5M351,246.5h5M353.5,244v5M318,253.5h5M320.5,251v5M340,349.5h5M342.5,347v5M268,359.5h5M270.5,357v5M328,263.5h5M330.5,261v5M289,435.5h5M291.5,433v5M202,218.5h5M204.5,216v5M379,408.5h5M381.5,406v5M243,329.5h5M245.5,327v5M342,280.5h5M344.5,278v5M320,268.5h5M322.5,266v5M233,190.5h5M235.5,188v5M366,343.5h5M368.5,341v5M304,241.5h5M306.5,239v5M267,307.5h5M269.5,305v5M355,264.5h5M357.5,262v5M318,247.5h5M320.5,245v5M338,296.5h5M340.5,294v5M254,325.5h5M256.5,323v5M246,356.5h5M248.5,354v5M377,266.5h5M379.5,264v5M287,265.5h5M289.5,263v5M360,247.5h5M362.5,245v5M326,252.5h5M328.5,250v5M430,259.5h5M432.5,257v5M482,225.5h5M484.5,223v5M305,306.5h5M307.5,304v5M236,324.5h5M238.5,322v5M354,384.5h5M356.5,382v5M378,283.5h5M380.5,281v5M381,248.5h5M383.5,246v5M307,274.5h5M309.5,272v5M333,281.5h5M335.5,279v5M393,272.5h5M395.5,270v5M326,228.5h5M328.5,226v5M326,270.5h5M328.5,268v5M474,315.5h5M476.5,313v5M303,281.5h5M305.5,279v5M342,268.5h5M344.5,266v5M335,209.5h5M337.5,207v5M239,292.5h5M241.5,290v5M316,308.5h5M318.5,306v5M387,242.5h5M389.5,240v5M428,222.5h5M430.5,220v5" stroke="#5effa0" stroke-width="1" fill="none" shape-rendering="crispEdges"/><path d="M315,239.5h5M317.5,237v5M396,272.5h5M398.5,270v5M292,242.5h5M294.5,240v5M325,247.5h5M327.5,245v5M386,263.5h5M388.5,261v5M363,263.5h5M365.5,261v5M191,165.5h5M193.5,163v5M351,250.5h5M353.5,248v5M345,262.5h5M347.5,260v5M352,255.5h5M354.5,253v5M328,241.5h5M330.5,239v5M334,249.5h5M336.5,247v5M241,225.5h5M243.5,223v5M381,259.5h5M383.5,257v5M341,279.5h5M343.5,277v5M212,235.5h5M214.5,233v5M253,261.5h5M255.5,259v5M352,292.5h5M354.5,290v5M343,209.5h5M345.5,207v5M317,249.5h5M319.5,247v5M394,223.5h5M396.5,221v5M422,305.5h5M424.5,303v5M314,430.5h5M316.5,428v5M279,412.5h5M281.5,410v5M285,237.5h5M287.5,235v5M341,277.5h5M343.5,275v5M394,237.5h5M396.5,235v5M324,342.5h5M326.5,340v5M214,304.5h5M216.5,302v5M470,266.5h5M472.5,264v5M295,225.5h5M297.5,223v5M405,231.5h5M407.5,229v5M338,280.5h5M340.5,278v5M294,419.5h5M296.5,417v5M329,423.5h5M331.5,421v5M294,270.5h5M296.5,268v5M475,279.5h5M477.5,277v5M347,255.5h5M349.5,253v5M446,339.5h5M448.5,337v5M267,235.5h5M269.5,233v5M348,260.5h5M350.5,258v5M386,163.5h5M388.5,161v5M394,245.5h5M396.5,243v5M398,246.5h5M400.5,244v5M324,241.5h5M326.5,239v5M521,217.5h5M523.5,215v5M199,342.5h5M201.5,340v5M376,227.5h5M378.5,225v5M341,237.5h5M343.5,235v5M307,228.5h5M309.5,226v5M305,273.5h5M307.5,271v5M330,243.5h5M332.5,241v5M357,262.5h5M359.5,260v5M353,277.5h5M355.5,275v5M378,234.5h5M380.5,232v5M452,263.5h5M454.5,261v5M389,267.5h5M391.5,265v5M345,277.5h5M347.5,275v5M302,256.5h5M304.5,254v5M416,262.5h5M418.5,260v5M345,196.5h5M347.5,194v5M355,243.5h5M357.5,241v5M363,280.5h5M365.5,278v5M375,258.5h5M377.5,256v5M380,167.5h5M382.5,165v5M351,249.5h5M353.5,247v5M469,250.5h5M471.5,248v5M394,262.5h5M396.5,260v5M278,256.5h5M280.5,254v5M408,259.5h5M410.5,257v5M373,239.5h5M375.5,237v5M358,292.5h5M360.5,290v5M233,184.5h5M235.5,182v5M388,232.5h5M390.5,230v5M294,278.5h5M296.5,276v5M340,283.5h5M342.5,281v5M275,332.5h5M277.5,330v5M311,251.5h5M313.5,249v5M280,270.5h5M282.5,268v5M310,254.5h5M312.5,252v5M370,251.5h5M372.5,249v5M226,319.5h5M228.5,317v5M326,414.5h5M328.5,412v5M289,318.5h5M291.5,316v5M404,248.5h5M406.5,246v5M297,263.5h5M299.5,261v5M314,266.5h5M316.5,264v5M318,262.5h5M320.5,260v5M423,271.5h5M425.5,269v5M366,213.5h5M368.5,211v5M441,328.5h5M443.5,326v5M366,243.5h5M368.5,241v5M323,261.5h5M325.5,259v5M330,269.5h5M332.5,267v5M362,246.5h5M364.5,244v5M300,268.5h5M302.5,266v5M381,280.5h5M383.5,278v5M455,272.5h5M457.5,270v5M292,243.5h5M294.5,241v5M383,272.5h5M385.5,270v5M348,322.5h5M350.5,320v5M353,273.5h5M355.5,271v5M317,240.5h5M319.5,238v5M278,207.5h5M280.5,205v5M286,245.5h5M288.5,243v5M311,223.5h5M313.5,221v5M307,264.5h5M309.5,262v5M388,235.5h5M390.5,233v5M366,233.5h5M368.5,231v5M304,308.5h5M306.5,306v5M324,317.5h5M326.5,315v5M271,294.5h5M273.5,292v5M499,263.5h5M501.5,261v5M303,231.5h5M305.5,229v5M485,251.5h5M487.5,249v5M433,261.5h5M435.5,259v5M336,231.5h5M338.5,229v5M254,292.5h5M256.5,290v5M292,289.5h5M294.5,287v5M360,259.5h5M362.5,257v5M344,332.5h5M346.5,330v5M391,246.5h5M393.5,244v5M407,245.5h5M409.5,243v5M270,301.5h5M272.5,299v5M310,265.5h5M312.5,263v5M349,267.5h5M351.5,265v5M366,223.5h5M368.5,221v5M319,270.5h5M321.5,268v5M247,232.5h5M249.5,230v5M435,357.5h5M437.5,355v5M424,282.5h5M426.5,280v5M223,164.5h5M225.5,162v5M348,279.5h5M350.5,277v5M324,304.5h5M326.5,302v5M377,134.5h5M379.5,132v5M376,345.5h5M378.5,343v5M308,260.5h5M310.5,258v5M341,193.5h5M343.5,191v5M328,218.5h5M330.5,216v5M262,168.5h5M264.5,166v5M338,247.5h5M340.5,245v5M341,211.5h5M343.5,209v5M416,273.5h5M418.5,271v5M378,238.5h5M380.5,236v5" stroke="#4effb0" stroke-width="1" fill="none" shape-rendering="crispEdges"/><path d="M290,219.5h2m-2,3h2M289.5,220v2m3,-2v2M241,237.5h2m-2,3h2M240.5,238v2m3,-2v2M242,217.5h2m-2,3h2M241.5,218v2m3,-2v2M223,186.5h2m-2,3h2M222.5,187v2m3,-2v2M186,117.5h2m-2,3h2M185.5,118v2m3,-2v2M210,182.5h2m-2,3h2M209.5,183v2m3,-2v2M267,256.5h2m-2,3h2M266.5,257v2m3,-2v2M286,250.5h2m-2,3h2M285.5,251v2m3,-2v2M249,212.5h2m-2,3h2M248.5,213v2m3,-2v2M199,267.5h2m-2,3h2M198.5,268v2m3,-2v2M257,205.5h2m-2,3h2M256.5,206v2m3,-2v2M272,210.5h2m-2,3h2M271.5,211v2m3,-2v2M179,196.5h2m-2,3h2M178.5,197v2m3,-2v2M202,190.5h2m-2,3h2M201.5,191v2m3,-2v2M389,260.5h2m-2,3h2M388.5,261v2m3,-2v2M266,269.5h2m-2,3h2M265.5,270v2m3,-2v2M261,240.5h2m-2,3h2M260.5,241v2m3,-2v2M219,232.5h2m-2,3h2M218.5,233v2m3,-2v2M246,195.5h2m-2,3h2M245.5,196v2m3,-2v2M256,211.5h2m-2,3h2M255.5,212v2m3,-2v2M269,183.5h2m-2,3h2M268.5,184v2m3,-2v2M232,164.5h2m-2,3h2M231.5,165v2m3,-2v2M321,227.5h2m-2,3h2M320.5,228v2m3,-2v2M172,135.5h2m-2,3h2M171.5,136v2m3,-2v2M221,213.5h2m-2,3h2M220.5,214v2m3,-2v2M219,183.5h2m-2,3h2M218.5,184v2m3,-2v2M198,166.5h2m-2,3h2M197.5,167v2m3,-2v2M226,205.5h2m-2,3h2M225.5,206v2m3,-2v2M300,389.5h2m-2,3h2M299.5,390v2m3,-2v2M232,183.5h2m-2,3h2M231.5,184v2m3,-2v2M205,211.5h2m-2,3h2M204.5,212v2m3,-2v2M291,225.5h2m-2,3h2M290.5,226v2m3,-2v2M261,187.5h2m-2,3h2M260.5,188v2m3,-2v2M280,187.5h2m-2,3h2M279.5,188v2m3,-2v2M256,260.5h2m-2,3h2M255.5,261v2m3,-2v2M297,163.5h2m-2,3h2M296.5,164v2m3,-2v2M270,248.5h2m-2,3h2M269.5,249v2m3,-2v2M236,239.5h2m-2,3h2M235.5,240v2m3,-2v2M267,239.5h2m-2,3h2M266.5,240v2m3,-2v2M266,213.5h2m-2,3h2M265.5,214v2m3,-2v2M236,159.5h2m-2,3h2M235.5,160v2m3,-2v2M209,147.5h2m-2,3h2M208.5,148v2m3,-2v2M228,215.5h2m-2,3h2M227.5,216v2m3,-2v2M401,218.5h2m-2,3h2M400.5,219v2m3,-2v2M223,112.5h2m-2,3h2M222.5,113v2m3,-2v2M331,337.5h2m-2,3h2M330.5,338v2m3,-2v2M235,219.5h2m-2,3h2M234.5,220v2m3,-2v2M240,229.5h2m-2,3h2M239.5,230v2m3,-2v2M264,227.5h2m-2,3h2M263.5,228v2m3,-2v2M339,217.5h2m-2,3h2M338.5,218v2m3,-2v2M328,453.5h2m-2,3h2M327.5,454v2m3,-2v2M197,240.5h2m-2,3h2M196.5,241v2m3,-2v2M222,251.5h2m-2,3h2M221.5,252v2m3,-2v2M315,249.5h2m-2,3h2M314.5,250v2m3,-2v2M359,234.5h2m-2,3h2M358.5,235v2m3,-2v2M254,178.5h2m-2,3h2M253.5,179v2m3,-2v2M202,213.5h2m-2,3h2M201.5,214v2m3,-2v2M287,295.5h2m-2,3h2M286.5,296v2m3,-2v2M244,208.5h2m-2,3h2M243.5,209v2m3,-2v2M246,243.5h2m-2,3h2M245.5,244v2m3,-2v2M348,337.5h2m-2,3h2M347.5,338v2m3,-2v2M207,183.5h2m-2,3h2M206.5,184v2m3,-2v2M290,321.5h2m-2,3h2M289.5,322v2m3,-2v2M214,92.5h2m-2,3h2M213.5,93v2m3,-2v2M203,223.5h2m-2,3h2M202.5,224v2m3,-2v2M259,219.5h2m-2,3h2M258.5,220v2m3,-2v2M270,222.5h2m-2,3h2M269.5,223v2m3,-2v2M259,209.5h2m-2,3h2M258.5,210v2m3,-2v2M269,241.5h2m-2,3h2M268.5,242v2m3,-2v2M264,323.5h2m-2,3h2M263.5,324v2m3,-2v2M250,197.5h2m-2,3h2M249.5,198v2m3,-2v2M215,209.5h2m-2,3h2M214.5,210v2m3,-2v2M242,184.5h2m-2,3h2M241.5,185v2m3,-2v2M378,405.5h2m-2,3h2M377.5,406v2m3,-2v2M244,242.5h2m-2,3h2M243.5,243v2m3,-2v2M214,177.5h2m-2,3h2M213.5,178v2m3,-2v2M261,233.5h2m-2,3h2M260.5,234v2m3,-2v2M305,400.5h2m-2,3h2M304.5,401v2m3,-2v2M202,220.5h2m-2,3h2M201.5,221v2m3,-2v2M272,207.5h2m-2,3h2M271.5,208v2m3,-2v2M185,247.5h2m-2,3h2M184.5,248v2m3,-2v2M348,482.5h2m-2,3h2M347.5,483v2m3,-2v2M224,175.5h2m-2,3h2M223.5,176v2m3,-2v2M277,199.5h2m-2,3h2M276.5,200v2m3,-2v2M270,214.5h2m-2,3h2M269.5,215v2m3,-2v2M334,260.5h2m-2,3h2M333.5,261v2m3,-2v2M445,270.5h2m-2,3h2M444.5,271v2m3,-2v2M299,148.5h2m-2,3h2M298.5,149v2m3,-2v2M207,130.5h2m-2,3h2M206.5,131v2m3,-2v2M258,244.5h2m-2,3h2M257.5,245v2m3,-2v2M243,193.5h2m-2,3h2M242.5,194v2m3,-2v2M205,123.5h2m-2,3h2M204.5,124v2m3,-2v2M231,188.5h2m-2,3h2M230.5,189v2m3,-2v2M290,225.5h2m-2,3h2M289.5,226v2m3,-2v2M282,465.5h2m-2,3h2M281.5,466v2m3,-2v2M225,227.5h2m-2,3h2M224.5,228v2m3,-2v2M261,205.5h2m-2,3h2M260.5,206v2m3,-2v2M225,196.5h2m-2,3h2M224.5,197v2m3,-2v2M220,233.5h2m-2,3h2M219.5,234v2m3,-2v2M302,238.5h2m-2,3h2M301.5,239v2m3,-2v2M214,157.5h2m-2,3h2M213.5,158v2m3,-2v2M256,204.5h2m-2,3h2M255.5,205v2m3,-2v2M202,345.5h2m-2,3h2M201.5,346v2m3,-2v2M183,178.5h2m-2,3h2M182.5,179v2m3,-2v2M215,160.5h2m-2,3h2M214.5,161v2m3,-2v2M315,307.5h2m-2,3h2M314.5,308v2m3,-2v2M256,224.5h2m-2,3h2M255.5,225v2m3,-2v2M273,232.5h2m-2,3h2M272.5,233v2m3,-2v2M221,214.5h2m-2,3h2M220.5,215v2m3,-2v2M218,181.5h2m-2,3h2M217.5,182v2m3,-2v2M212,227.5h2m-2,3h2M211.5,228v2m3,-2v2M267,323.5h2m-2,3h2M266.5,324v2m3,-2v2M257,370.5h2m-2,3h2M256.5,371v2m3,-2v2M237,197.5h2m-2,3h2M236.5,198v2m3,-2v2M246,218.5h2m-2,3h2M245.5,219v2m3,-2v2M271,227.5h2m-2,3h2M270.5,228v2m3,-2v2M227,185.5h2m-2,3h2M226.5,186v2m3,-2v2M377,443.5h2m-2,3h2M376.5,444v2m3,-2v2M354,457.5h2m-2,3h2M353.5,458v2m3,-2v2M228,209.5h2m-2,3h2M227.5,210v2m3,-2v2M241,184.5h2m-2,3h2M240.5,185v2m3,-2v2M229,306.5h2m-2,3h2M228.5,307v2m3,-2v2M314,186.5h2m-2,3h2M313.5,187v2m3,-2v2M315,248.5h2m-2,3h2M314.5,249v2m3,-2v2M319,410.5h2m-2,3h2M318.5,411v2m3,-2v2M204,230.5h2m-2,3h2M203.5,231v2m3,-2v2M189,152.5h2m-2,3h2M188.5,153v2m3,-2v2M205,191.5h2m-2,3h2M204.5,192v2m3,-2v2M249,200.5h2m-2,3h2M248.5,201v2m3,-2v2M292,223.5h2m-2,3h2M291.5,224v2m3,-2v2M201,212.5h2m-2,3h2M200.5,213v2m3,-2v2M251,247.5h2m-2,3h2M250.5,248v2m3,-2v2M209,271.5h2m-2,3h2M208.5,272v2m3,-2v2M242,245.5h2m-2,3h2M241.5,246v2m3,-2v2M214,194.5h2m-2,3h2M213.5,195v2m3,-2v2M195,191.5h2m-2,3h2M194.5,192v2m3,-2v2M241,314.5h2m-2,3h2M240.5,315v2m3,-2v2M225,247.5h2m-2,3h2M224.5,248v2m3,-2v2M264,226.5h2m-2,3h2M263.5,227v2m3,-2v2" stroke="#a0ff5e" stroke-width="1" fill="none" shape-rendering="crispEdges"/><path d="M334,270.5h5M336.5,268v5M390,252.5h5M392.5,250v5M303,258.5h5M305.5,256v5M375,286.5h5M377.5,284v5M411,249.5h5M413.5,247v5M334,247.5h5M336.5,245v5M344,233.5h5M346.5,231v5M404,265.5h5M406.5,263v5M314,235.5h5M316.5,233v5M372,258.5h5M374.5,256v5M353,430.5h5M355.5,428v5M371,186.5h5M373.5,184v5M342,230.5h5M344.5,228v5M435,319.5h5M437.5,317v5M320,262.5h5M322.5,260v5M341,253.5h5M343.5,251v5M387,269.5h5M389.5,267v5M347,287.5h5M349.5,285v5M334,259.5h5M336.5,257v5M285,251.5h5M287.5,249v5M321,264.5h5M323.5,262v5M396,283.5h5M398.5,281v5M325,225.5h5M327.5,223v5M368,271.5h5M370.5,269v5M360,280.5h5M362.5,278v5M303,261.5h5M305.5,259v5M378,257.5h5M380.5,255v5M403,260.5h5M405.5,258v5M363,241.5h5M365.5,239v5M361,298.5h5M363.5,296v5M476,251.5h5M478.5,249v5M315,259.5h5M317.5,257v5M349,268.5h5M351.5,266v5M323,218.5h5M325.5,216v5M275,255.5h5M277.5,253v5M389,243.5h5M391.5,241v5M310,262.5h5M312.5,260v5M320,249.5h5M322.5,247v5M341,229.5h5M343.5,227v5M382,220.5h5M384.5,218v5M327,258.5h5M329.5,256v5M330,262.5h5M332.5,260v5M276,258.5h5M278.5,256v5M427,262.5h5M429.5,260v5M227,244.5h5M229.5,242v5M456,237.5h5M458.5,235v5M393,267.5h5M395.5,265v5M381,251.5h5M383.5,249v5M323,276.5h5M325.5,274v5M309,260.5h5M311.5,258v5M367,229.5h5M369.5,227v5M364,263.5h5M366.5,261v5M445,256.5h5M447.5,254v5M326,323.5h5M328.5,321v5M373,259.5h5M375.5,257v5M459,206.5h5M461.5,204v5M329,242.5h5M331.5,240v5M404,222.5h5M406.5,220v5M438,209.5h5M440.5,207v5M355,264.5h5M357.5,262v5M339,288.5h5M341.5,286v5M418,243.5h5M420.5,241v5M420,245.5h5M422.5,243v5M254,223.5h5M256.5,221v5M312,279.5h5M314.5,277v5M319,264.5h5M321.5,262v5M444,290.5h5M446.5,288v5M357,248.5h5M359.5,246v5" stroke="#3dffc1" stroke-width="1" fill="none" shape-rendering="crispEdges"/><path d="M307,237.5h2m-2,3h2M306.5,238v2m3,-2v2M278,221.5h2m-2,3h2M277.5,222v2m3,-2v2M268,222.5h2m-2,3h2M267.5,223v2m3,-2v2M264,242.5h2m-2,3h2M263.5,243v2m3,-2v2M349,440.5h2m-2,3h2M348.5,441v2m3,-2v2M234,189.5h2m-2,3h2M233.5,190v2m3,-2v2M266,337.5h2m-2,3h2M265.5,338v2m3,-2v2M287,202.5h2m-2,3h2M286.5,203v2m3,-2v2M343,284.5h2m-2,3h2M342.5,285v2m3,-2v2M282,339.5h2m-2,3h2M281.5,340v2m3,-2v2M270,200.5h2m-2,3h2M269.5,201v2m3,-2v2M246,206.5h2m-2,3h2M245.5,207v2m3,-2v2M372,353.5h2m-2,3h2M371.5,354v2m3,-2v2M280,194.5h2m-2,3h2M279.5,195v2m3,-2v2M220,191.5h2m-2,3h2M219.5,192v2m3,-2v2M222,241.5h2m-2,3h2M221.5,242v2m3,-2v2M339,278.5h2m-2,3h2M338.5,279v2m3,-2v2M387,475.5h2m-2,3h2M386.5,476v2m3,-2v2M266,223.5h2m-2,3h2M265.5,224v2m3,-2v2M196,265.5h2m-2,3h2M195.5,266v2m3,-2v2M304,392.5h2m-2,3h2M303.5,393v2m3,-2v2M348,480.5h2m-2,3h2M347.5,481v2m3,-2v2M315,355.5h2m-2,3h2M314.5,356v2m3,-2v2M276,224.5h2m-2,3h2M275.5,225v2m3,-2v2M360,433.5h2m-2,3h2M359.5,434v2m3,-2v2M247,201.5h2m-2,3h2M246.5,202v2m3,-2v2M256,220.5h2m-2,3h2M255.5,221v2m3,-2v2M278,235.5h2m-2,3h2M277.5,236v2m3,-2v2M344,202.5h2m-2,3h2M343.5,203v2m3,-2v2M266,299.5h2m-2,3h2M265.5,300v2m3,-2v2M282,277.5h2m-2,3h2M281.5,278v2m3,-2v2M200,213.5h2m-2,3h2M199.5,214v2m3,-2v2M239,228.5h2m-2,3h2M238.5,229v2m3,-2v2M317,343.5h2m-2,3h2M316.5,344v2m3,-2v2M329,421.5h2m-2,3h2M328.5,422v2m3,-2v2M369,490.5h2m-2,3h2M368.5,491v2m3,-2v2M260,247.5h2m-2,3h2M259.5,248v2m3,-2v2M251,215.5h2m-2,3h2M250.5,216v2m3,-2v2M381,496.5h2m-2,3h2M380.5,497v2m3,-2v2M266,224.5h2m-2,3h2M265.5,225v2m3,-2v2M404,271.5h2m-2,3h2M403.5,272v2m3,-2v2M310,234.5h2m-2,3h2M309.5,235v2m3,-2v2M286,224.5h2m-2,3h2M285.5,225v2m3,-2v2M208,227.5h2m-2,3h2M207.5,228v2m3,-2v2M280,206.5h2m-2,3h2M279.5,207v2m3,-2v2M322,190.5h2m-2,3h2M321.5,191v2m3,-2v2M303,351.5h2m-2,3h2M302.5,352v2m3,-2v2M391,297.5h2m-2,3h2M390.5,298v2m3,-2v2M288,419.5h2m-2,3h2M287.5,420v2m3,-2v2M271,351.5h2m-2,3h2M270.5,352v2m3,-2v2M362,293.5h2m-2,3h2M361.5,294v2m3,-2v2M239,164.5h2m-2,3h2M238.5,165v2m3,-2v2M236,200.5h2m-2,3h2M235.5,201v2m3,-2v2M258,207.5h2m-2,3h2M257.5,208v2m3,-2v2M292,401.5h2m-2,3h2M291.5,402v2m3,-2v2M395,465.5h2m-2,3h2M394.5,466v2m3,-2v2M263,248.5h2m-2,3h2M262.5,249v2m3,-2v2M212,176.5h2m-2,3h2M211.5,177v2m3,-2v2M265,246.5h2m-2,3h2M264.5,247v2m3,-2v2M314,353.5h2m-2,3h2M313.5,354v2m3,-2v2M288,440.5h2m-2,3h2M287.5,441v2m3,-2v2M264,243.5h2m-2,3h2M263.5,244v2m3,-2v2M250,224.5h2m-2,3h2M249.5,225v2m3,-2v2M266,385.5h2m-2,3h2M265.5,386v2m3,-2v2M259,214.5h2m-2,3h2M258.5,215v2m3,-2v2M204,245.5h2m-2,3h2M203.5,246v2m3,-2v2M167,179.5h2m-2,3h2M166.5,180v2m3,-2v2M380,361.5h2m-2,3h2M379.5,362v2m3,-2v2M254,191.5h2m-2,3h2M253.5,192v2m3,-2v2M204,180.5h2m-2,3h2M203.5,181v2m3,-2v2M302,228.5h2m-2,3h2M301.5,229v2m3,-2v2" stroke="#8fff6f" stroke-width="1" fill="none" shape-rendering="crispEdges"/><path d="M256,294.5h5M258.5,292v5M335,276.5h5M337.5,274v5" stroke="#8fff6f" stroke-width="1" fill="none" shape-rendering="crispEdges"/><path d="M273,311.5h5M275.5,309v5M282,328.5h5M284.5,326v5M221,252.5h5M223.5,250v5M338,280.5h5M340.5,278v5M346,213.5h5M348.5,211v5M302,342.5h5M304.5,340v5M294,323.5h5M296.5,321v5M344,286.5h5M346.5,284v5M388,444.5h5M390.5,442v5M174,331.5h5M176.5,329v5M301,257.5h5M303.5,255v5M368,277.5h5M370.5,275v5M347,289.5h5M349.5,287v5M312,342.5h5M314.5,340v5M273,298.5h5M275.5,296v5M294,390.5h5M296.5,388v5M297,275.5h5M299.5,273v5M396,270.5h5M398.5,268v5M388,311.5h5M390.5,309v5M339,369.5h5M341.5,367v5M265,453.5h5M267.5,451v5M342,247.5h5M344.5,245v5M302,380.5h5M304.5,378v5M296,296.5h5M298.5,294v5" stroke="#7fff7f" stroke-width="1" fill="none" shape-rendering="crispEdges"/><path d="M353,270.5h5M355.5,268v5M326,241.5h5M328.5,239v5M387,282.5h5M389.5,280v5M399,246.5h5M401.5,244v5M429,267.5h5M431.5,265v5M350,305.5h5M352.5,303v5M325,275.5h5M327.5,273v5" stroke="#1cffe2" stroke-width="1" fill="none" shape-rendering="crispEdges"/><path d="M484,238.5h5M486.5,236v5M363,272.5h5M365.5,270v5M383,261.5h5M385.5,259v5M454,274.5h5M456.5,272v5M343,231.5h5M345.5,229v5M222,233.5h5M224.5,231v5M395,231.5h5M397.5,229v5M408,264.5h5M410.5,262v5M407,277.5h5M409.5,275v5M371,235.5h5M373.5,233v5M325,237.5h5M327.5,235v5M401,249.5h5M403.5,247v5M410,271.5h5M412.5,269v5M392,251.5h5M394.5,249v5M350,267.5h5M352.5,265v5M374,248.5h5M376.5,246v5M417,238.5h5M419.5,236v5M366,269.5h5M368.5,267v5M337,268.5h5M339.5,266v5M339,282.5h5M341.5,280v5M350,258.5h5M352.5,256v5M364,240.5h5M366.5,238v5M305,286.5h5M307.5,284v5M379,254.5h5M381.5,252v5M300,248.5h5M302.5,246v5M395,294.5h5M397.5,292v5M325,268.5h5M327.5,266v5M391,230.5h5M393.5,228v5M410,250.5h5M412.5,248v5M384,235.5h5M386.5,233v5M303,241.5h5M305.5,239v5M481,209.5h5M483.5,207v5M348,254.5h5M350.5,252v5M276,258.5h5M278.5,256v5" stroke="#2dffd1" stroke-width="1" fill="none" shape-rendering="crispEdges"/><path d="M224,81.5h2m-2,3h2M223.5,82v2m3,-2v2M394,384.5h2m-2,3h2M393.5,385v2m3,-2v2M254,308.5h2m-2,3h2M253.5,309v2m3,-2v2M283,218.5h2m-2,3h2M282.5,219v2m3,-2v2M348,423.5h2m-2,3h2M347.5,424v2m3,-2v2M323,432.5h2m-2,3h2M322.5,433v2m3,-2v2M422,275.5h2m-2,3h2M421.5,276v2m3,-2v2M347,380.5h2m-2,3h2M346.5,381v2m3,-2v2M378,326.5h2m-2,3h2M377.5,327v2m3,-2v2M336,334.5h2m-2,3h2M335.5,335v2m3,-2v2M355,261.5h2m-2,3h2M354.5,262v2m3,-2v2M277,353.5h2m-2,3h2M276.5,354v2m3,-2v2M445,205.5h2m-2,3h2M444.5,206v2m3,-2v2M385,391.5h2m-2,3h2M384.5,392v2m3,-2v2M433,337.5h2m-2,3h2M432.5,338v2m3,-2v2M342,293.5h2m-2,3h2M341.5,294v2m3,-2v2M350,405.5h2m-2,3h2M349.5,406v2m3,-2v2M359,281.5h2m-2,3h2M358.5,282v2m3,-2v2M277,272.5h2m-2,3h2M276.5,273v2m3,-2v2M256,389.5h2m-2,3h2M255.5,390v2m3,-2v2M240,176.5h2m-2,3h2M239.5,177v2m3,-2v2M280,318.5h2m-2,3h2M279.5,319v2m3,-2v2M358,396.5h2m-2,3h2M357.5,397v2m3,-2v2M356,245.5h2m-2,3h2M355.5,246v2m3,-2v2M234,339.5h2m-2,3h2M233.5,340v2m3,-2v2" stroke="#7fff7f" stroke-width="1" fill="none" shape-rendering="crispEdges"/><path d="M301,427.5h2m-2,3h2M300.5,428v2m3,-2v2M318,319.5h2m-2,3h2M317.5,320v2m3,-2v2" stroke="#6fff8f" stroke-width="1" fill="none" shape-rendering="crispEdges"/><circle cx="298.5" cy="314.5" r="251.0" fill="none" stroke="#000" stroke-width="1.1"/><text x="281.5" y="57" font-family="Liberation Mono" font-weight="bold" font-size="13" letter-spacing="-0.8">North</text><text x="281.5" y="578" font-family="Liberation Mono" font-weight="bold" font-size="13" letter-spacing="-0.8">South</text><text x="15.5" y="318" font-family="Liberation Mono" font-weight="bold" font-size="13" letter-spacing="-0.8">West</text><text x="552.5" y="318" font-family="Liberation Mono" font-weight="bold" font-size="13" letter-spacing="-0.8">East</text><text x="594.5" y="71" font-family="Liberation Mono" font-size="12" letter-spacing="-0.2" fill="#000" xml:space="preserve">Num of Sources</text><text x="790" y="71" font-family="Liberation Mono" font-size="12" letter-spacing="-0.2" fill="#000" text-anchor="end">5232</text><text x="594.5" y="85" font-family="Liberation Mono" font-size="12" letter-spacing="-0.2" fill="#000" xml:space="preserve">Min Freq, kHz</text><text x="790" y="85" font-family="Liberation Mono" font-size="12" letter-spacing="-0.2" fill="#000" text-anchor="end">2000</text><text x="594.5" y="99" font-family="Liberation Mono" font-size="12" letter-spacing="-0.2" fill="#000" xml:space="preserve">Max Freq, kHz</text><text x="790" y="99" font-family="Liberation Mono" font-size="12" letter-spacing="-0.2" fill="#000" text-anchor="end">2350</text><text x="594.5" y="113" font-family="Liberation Mono" font-size="12" letter-spacing="-0.2" fill="#000" xml:space="preserve">Min Range, km</text><text x="790" y="113" font-family="Liberation Mono" font-size="12" letter-spacing="-0.2" fill="#000" text-anchor="end">230</text><text x="594.5" y="127" font-family="Liberation Mono" font-size="12" letter-spacing="-0.2" fill="#000" xml:space="preserve">Max Range, km</text><text x="790" y="127" font-family="Liberation Mono" font-size="12" letter-spacing="-0.2" fill="#000" text-anchor="end">287</text><text x="594.5" y="141" font-family="Liberation Mono" font-size="12" letter-spacing="-0.2" fill="#000" xml:space="preserve">Max Amp, dB</text><text x="790" y="141" font-family="Liberation Mono" font-size="12" letter-spacing="-0.2" fill="#000" text-anchor="end">54</text><text x="594.5" y="155" font-family="Liberation Mono" font-size="12" letter-spacing="-0.2" fill="#000" xml:space="preserve">Max SNR Amp, dB</text><text x="790" y="155" font-family="Liberation Mono" font-size="12" letter-spacing="-0.2" fill="#000" text-anchor="end">54</text><text x="594.5" y="169" font-family="Liberation Mono" font-size="12" letter-spacing="-0.2" fill="#000" xml:space="preserve">Min SNR Amp, dB</text><text x="790" y="169" font-family="Liberation Mono" font-size="12" letter-spacing="-0.2" fill="#000" text-anchor="end">12</text><text x="594.5" y="183" font-family="Liberation Mono" font-size="12" letter-spacing="-0.2" fill="#000" xml:space="preserve">Avg SNR Amp, dB</text><text x="790" y="183" font-family="Liberation Mono" font-size="12" letter-spacing="-0.2" fill="#000" text-anchor="end">30</text><text x="594.5" y="197" font-family="Liberation Mono" font-size="12" letter-spacing="-0.2" fill="#000" xml:space="preserve">Max RMS Err, deg</text><text x="790" y="197" font-family="Liberation Mono" font-size="12" letter-spacing="-0.2" fill="#000" text-anchor="end">25.0</text><text x="594.5" y="211" font-family="Liberation Mono" font-size="12" letter-spacing="-0.2" fill="#000" xml:space="preserve">Min RMS Err, deg</text><text x="790" y="211" font-family="Liberation Mono" font-size="12" letter-spacing="-0.2" fill="#000" text-anchor="end">0.0</text><text x="594.5" y="225" font-family="Liberation Mono" font-size="12" letter-spacing="-0.2" fill="#000" xml:space="preserve">Avg RMS Err, deg</text><text x="790" y="225" font-family="Liberation Mono" font-size="12" letter-spacing="-0.2" fill="#000" text-anchor="end">3.7</text><text x="594.5" y="239" font-family="Liberation Mono" font-size="12" letter-spacing="-0.2" fill="#000" xml:space="preserve">Doppler Res, Hz</text><text x="790" y="239" font-family="Liberation Mono" font-size="12" letter-spacing="-0.2" fill="#000" text-anchor="end">0.0488</text><text x="594.5" y="253" font-family="Liberation Mono" font-size="12" letter-spacing="-0.2" fill="#000" xml:space="preserve">CIT, sec</text><text x="790" y="253" font-family="Liberation Mono" font-size="12" letter-spacing="-0.2" fill="#000" text-anchor="end">20.48</text><text x="594.5" y="267" font-family="Liberation Mono" font-size="12" letter-spacing="-0.2" fill="#000" xml:space="preserve">Num of CITs</text><text x="790" y="267" font-family="Liberation Mono" font-size="12" letter-spacing="-0.2" fill="#000" text-anchor="end">6</text><text x="594.5" y="281" font-family="Liberation Mono" font-size="12" letter-spacing="-0.2" fill="#000" xml:space="preserve">Polarization</text><text x="790" y="281" font-family="Liberation Mono" font-size="12" letter-spacing="-0.2" fill="#000" text-anchor="end">O-mode</text><text x="594.5" y="295" font-family="Liberation Mono" font-size="12" letter-spacing="-0.2" fill="#000" xml:space="preserve">Center of Sources, deg:</text><text x="664.5" y="309" font-family="Liberation Mono" font-size="12" letter-spacing="-0.2" fill="#000">Zenith</text><text x="790" y="309" font-family="Liberation Mono" font-size="12" letter-spacing="-0.2" fill="#000" text-anchor="end">7.5</text><text x="664.5" y="323" font-family="Liberation Mono" font-size="12" letter-spacing="-0.2" fill="#000">Azimuth</text><text x="790" y="323" font-family="Liberation Mono" font-size="12" letter-spacing="-0.2" fill="#000" text-anchor="end">355</text><path d="M720.5,320.5 L722,321.2 L723.5,319 L725,318.5 L725.8,320" stroke="#222" stroke-width="1.1" fill="none"/><defs><linearGradient id="jet" x1="0" y1="0" x2="0" y2="1"><stop offset="0.0000" stop-color="#0000b2"/><stop offset="0.0312" stop-color="#0000cf"/><stop offset="0.0625" stop-color="#0000eb"/><stop offset="0.0938" stop-color="#0009ff"/><stop offset="0.1250" stop-color="#0026ff"/><stop offset="0.1562" stop-color="#0042ff"/><stop offset="0.1875" stop-color="#005fff"/><stop offset="0.2188" stop-color="#007cff"/><stop offset="0.2500" stop-color="#0099ff"/><stop offset="0.2812" stop-color="#00b5ff"/><stop offset="0.3125" stop-color="#00d2ff"/><stop offset="0.3438" stop-color="#00efff"/><stop offset="0.3750" stop-color="#0cfff2"/><stop offset="0.4062" stop-color="#29ffd5"/><stop offset="0.4375" stop-color="#46ffb8"/><stop offset="0.4688" stop-color="#62ff9c"/><stop offset="0.5000" stop-color="#7fff7f"/><stop offset="0.5312" stop-color="#9cff62"/><stop offset="0.5625" stop-color="#b8ff46"/><stop offset="0.5938" stop-color="#d5ff29"/><stop offset="0.6250" stop-color="#f2ff0c"/><stop offset="0.6562" stop-color="#ffef00"/><stop offset="0.6875" stop-color="#ffd200"/><stop offset="0.7188" stop-color="#ffb500"/><stop offset="0.7500" stop-color="#ff9800"/><stop offset="0.7812" stop-color="#ff7c00"/><stop offset="0.8125" stop-color="#ff5f00"/><stop offset="0.8438" stop-color="#ff4200"/><stop offset="0.8750" stop-color="#ff2600"/><stop offset="0.9062" stop-color="#ff0900"/><stop offset="0.9375" stop-color="#eb0000"/><stop offset="0.9688" stop-color="#cf0000"/><stop offset="1.0000" stop-color="#b20000"/></linearGradient></defs><rect x="593" y="341" width="15" height="241.5" fill="url(#jet)"/><path d="M608.5,341V582.5M608,341.5h7M608,345.5h7M608,349.5h4M608,353.5h4M608,357.5h4M608,360.5h4M608,364.5h7M608,368.5h4M608,372.5h4M608,376.5h4M608,380.5h4M608,384.5h7M608,388.5h4M608,391.5h4M608,395.5h4M608,399.5h4M608,403.5h7M608,407.5h4M608,411.5h4M608,415.5h4M608,419.5h4M608,422.5h7M608,426.5h4M608,430.5h4M608,434.5h4M608,438.5h4M608,442.5h7M608,446.5h4M608,450.5h4M608,454.5h4M608,457.5h4M608,461.5h7M608,465.5h4M608,469.5h4M608,473.5h4M608,477.5h4M608,481.5h7M608,485.5h4M608,488.5h4M608,492.5h4M608,496.5h4M608,500.5h7M608,504.5h4M608,508.5h4M608,512.5h4M608,516.5h4M608,519.5h7M608,523.5h4M608,527.5h4M608,531.5h4M608,535.5h4M608,539.5h7M608,543.5h4M608,547.5h4M608,551.5h4M608,554.5h4M608,558.5h7M608,562.5h4M608,566.5h4M608,570.5h4M608,574.5h4M608,578.5h7M608,582.5h7" stroke="#000" stroke-width="1" fill="none"/><text x="617.8" y="345.5" font-family="Liberation Sans" font-weight="bold" font-size="11" fill="#000" lengthAdjust="spacingAndGlyphs" textLength="18.3">3.1</text><text x="617.8" y="368.8" font-family="Liberation Sans" font-weight="bold" font-size="11" fill="#000" lengthAdjust="spacingAndGlyphs" textLength="18.3">2.5</text><text x="617.8" y="388.2" font-family="Liberation Sans" font-weight="bold" font-size="11" fill="#000" lengthAdjust="spacingAndGlyphs" textLength="18.3">2.0</text><text x="617.8" y="407.6" font-family="Liberation Sans" font-weight="bold" font-size="11" fill="#000" lengthAdjust="spacingAndGlyphs" textLength="18.3">1.5</text><text x="617.8" y="427.0" font-family="Liberation Sans" font-weight="bold" font-size="11" fill="#000" lengthAdjust="spacingAndGlyphs" textLength="18.3">1.0</text><text x="617.8" y="446.4" font-family="Liberation Sans" font-weight="bold" font-size="11" fill="#000" lengthAdjust="spacingAndGlyphs" textLength="18.3">0.5</text><text x="617.8" y="465.8" font-family="Liberation Sans" font-weight="bold" font-size="11" fill="#000" lengthAdjust="spacingAndGlyphs" textLength="6.2">0</text><text x="617.8" y="485.2" font-family="Liberation Sans" font-weight="bold" font-size="11" fill="#000" lengthAdjust="spacingAndGlyphs" textLength="23.3">-0.5</text><text x="617.8" y="504.6" font-family="Liberation Sans" font-weight="bold" font-size="11" fill="#000" lengthAdjust="spacingAndGlyphs" textLength="23.3">-1.0</text><text x="617.8" y="524.0" font-family="Liberation Sans" font-weight="bold" font-size="11" fill="#000" lengthAdjust="spacingAndGlyphs" textLength="23.3">-1.5</text><text x="617.8" y="543.4" font-family="Liberation Sans" font-weight="bold" font-size="11" fill="#000" lengthAdjust="spacingAndGlyphs" textLength="23.3">-2.0</text><text x="617.8" y="562.8" font-family="Liberation Sans" font-weight="bold" font-size="11" fill="#000" lengthAdjust="spacingAndGlyphs" textLength="23.3">-2.5</text><text x="617.8" y="586.1" font-family="Liberation Sans" font-weight="bold" font-size="11" fill="#000" lengthAdjust="spacingAndGlyphs" textLength="23.3">-3.1</text><text transform="translate(658,492) rotate(-90)" font-family="Liberation Sans" font-weight="bold" font-size="10" fill="#000" textLength="54" lengthAdjust="spacingAndGlyphs">Doppler, Hz</text><path d="M669,402.5h7M672.5,399v7" stroke="#0000dd" stroke-width="1.3"/><text x="682.7" y="406" font-family="Liberation Sans" font-weight="bold" font-size="11" fill="#0000dd" textLength="44.3" lengthAdjust="spacingAndGlyphs">Positive</text><circle cx="673" cy="523" r="2.4" fill="none" stroke="#e00000" stroke-width="1.2"/><text x="682.7" y="526" font-family="Liberation Sans" font-weight="bold" font-size="11" fill="#e00000" textLength="50.3" lengthAdjust="spacingAndGlyphs">Negative</text><text x="11" y="593" font-family="Liberation Mono" font-style="italic" font-size="12.8" letter-spacing="-0.68" fill="#000">Geographic coordinates</text><text y="593" font-family="Liberation Mono" font-style="italic" font-size="12.8" letter-spacing="-0.68" fill="#000" xml:space="preserve"><tspan x="419">Zenith: max 40</tspan><tspan x="516">°</tspan><tspan x="520">  step 5</tspan><tspan x="576">°</tspan></text><text x="655" y="593" font-family="Liberation Sans" font-size="9.5" fill="#000" textLength="88" lengthAdjust="spacingAndGlyphs">ShowSkymap v 1.0</text><text x="754" y="593" font-family="Liberation Sans" font-size="9.5" fill="#000" textLength="38" lengthAdjust="spacingAndGlyphs">SD v 5.1</text></svg></body></html>
